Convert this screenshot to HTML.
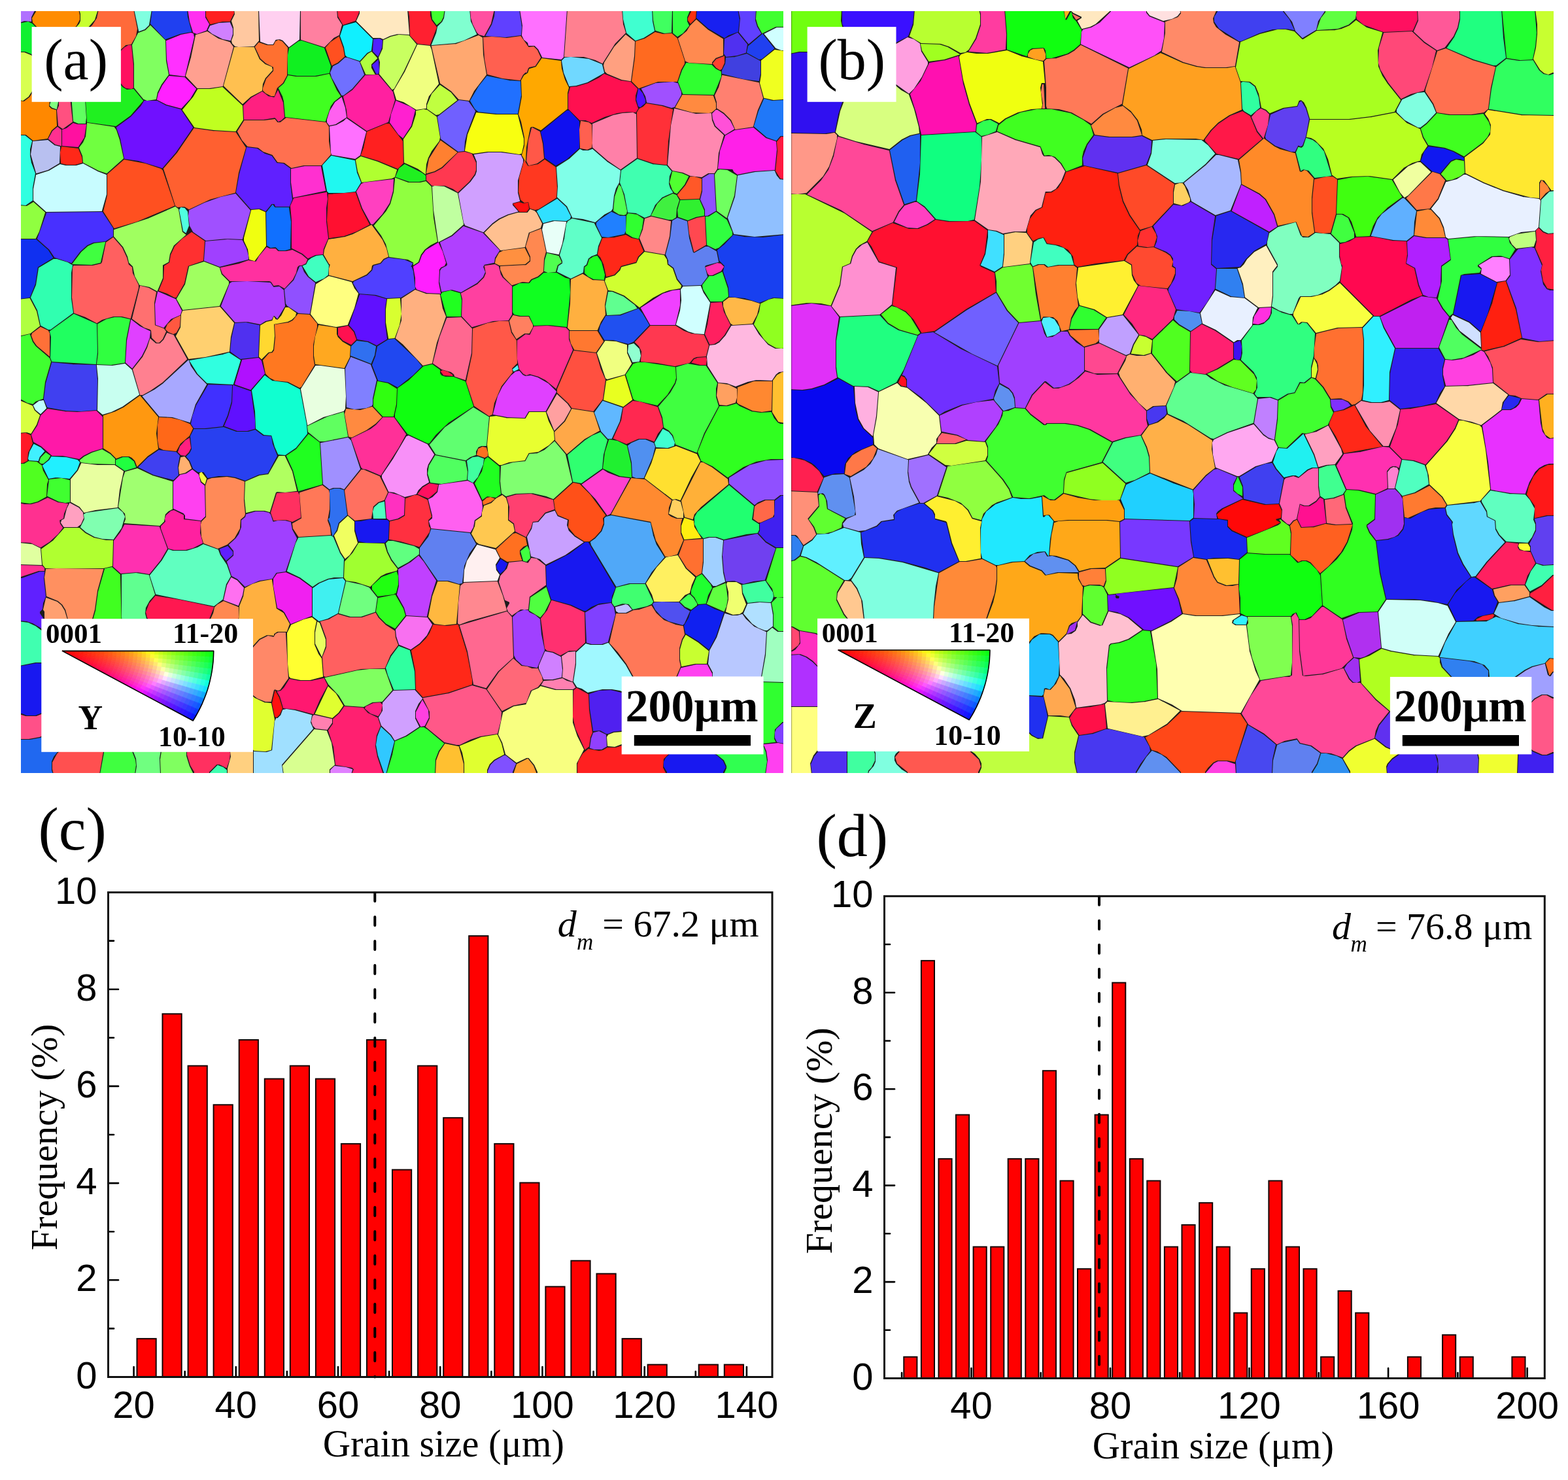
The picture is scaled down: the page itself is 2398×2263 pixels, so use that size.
<!DOCTYPE html><html><head><meta charset="utf-8"><title>EBSD grain maps and grain size distributions</title>
<style>html,body{margin:0;padding:0;background:#fff;}svg{display:block;}</style></head><body>
<svg xmlns="http://www.w3.org/2000/svg" width="2398" height="2263" viewBox="0 0 2398 2263">
<rect width="2398" height="2263" fill="#fff"/>
<g id="maps">
<clipPath id="ca"><rect x="32" y="17" width="1166" height="1165"/></clipPath>
<g clip-path="url(#ca)">
<rect x="32" y="17" width="1166" height="1165" fill="#1c1c1c"/>
<path d="M69 55 79 69 86 69 86 66Z" fill="#b070ff" stroke="#b070ff" stroke-width="2.0"/>
<path d="M29 14 29 34 37 31 47 32 47 26 53 14Z" fill="#b070ff" stroke="#b070ff" stroke-width="2.0"/>
<path d="M50 28 51 34 63 47 89 64 90 59 103 50 116 39 121 30 121 23 119 14 56 14 56 18Z" fill="#ff8c00" stroke="#ff8c00" stroke-width="2.0"/>
<path d="M149 14 122 14 124 21 124 32 122 37 114 46 93 61 93 66 104 66 130 46 144 30Z" fill="#c8ff30" stroke="#c8ff30" stroke-width="2.0"/>
<path d="M203 14 152 14 149 28 142 39 132 49 106 69 91 69 90 67 89 71 85 72 86 81 97 90 125 91 141 101 164 102 181 78 192 68 200 67 207 55 209 44Z" fill="#ff6a3a" stroke="#ff6a3a" stroke-width="2.0"/>
<path d="M29 37 29 78 39 78 49 82 60 92 67 102 83 82 82 72 77 72 63 52 49 37 43 34Z" fill="#10f030" stroke="#10f030" stroke-width="2.0"/>
<path d="M29 81 29 152 35 153 43 147 50 136 63 110 64 104 57 94 47 85 37 81Z" fill="#d8ff50" stroke="#d8ff50" stroke-width="2.0"/>
<path d="M231 14 206 14 213 47 221 44 227 38Z" fill="#80ffe0" stroke="#80ffe0" stroke-width="2.0"/>
<path d="M234 14 231 36 253 59 275 51 292 48 286 26 285 14Z" fill="#2040f0" stroke="#2040f0" stroke-width="2.0"/>
<path d="M288 14 291 33 296 49 301 51 315 46 319 37 313 27 313 14Z" fill="#ff30f0" stroke="#ff30f0" stroke-width="2.0"/>
<path d="M295 52 292 51 277 54 255 63 256 91 260 113 282 116 296 57Z" fill="#ff30ff" stroke="#ff30ff" stroke-width="2.0"/>
<path d="M316 14 316 25 322 36 340 32 351 32 357 20 356 14Z" fill="#ff2020" stroke="#ff2020" stroke-width="2.0"/>
<path d="M322 40 319 46 325 51 341 59 352 61 355 52 355 44 351 35 335 36Z" fill="#d080ff" stroke="#d080ff" stroke-width="2.0"/>
<path d="M359 14 360 22 355 32 358 42 358 54 355 62 356 66 360 70 365 71 388 70 395 62 394 14Z" fill="#ffc8a0" stroke="#ffc8a0" stroke-width="2.0"/>
<path d="M397 14 399 63 410 67 417 67 421 60 428 59 433 61 442 71 457 60 458 14Z" fill="#ffd0f0" stroke="#ffd0f0" stroke-width="2.0"/>
<path d="M230 40 223 47 212 51 203 69 206 98 206 134 220 151 225 153 238 151 240 141 246 129 257 114 253 93 252 62Z" fill="#80ff60" stroke="#80ff60" stroke-width="2.0"/>
<path d="M197 70 191 73 184 80 168 102 168 105 189 131 193 134 201 135 203 134 203 100 200 70Z" fill="#ff1060" stroke="#ff1060" stroke-width="2.0"/>
<path d="M317 49 300 54 293 88 285 116 302 134 320 134 340 131 356 72 351 65 334 60Z" fill="#ffa090" stroke="#ffa090" stroke-width="2.0"/>
<path d="M388 73 359 73 343 131 371 158 383 147 400 138 401 128 405 119 416 107 415 103 405 99 396 91Z" fill="#ffc050" stroke="#ffc050" stroke-width="2.0"/>
<path d="M426 62 422 64 419 70 408 70 396 66 391 72 399 89 407 96 419 102 419 109 408 121 403 135 403 138 407 142 415 146 419 146 423 134 432 126 438 115 439 73 431 64Z" fill="#ff7030" stroke="#ff7030" stroke-width="2.0"/>
<path d="M259 117 249 131 243 143 241 152 255 159 277 165 290 151 299 136 282 119Z" fill="#ff20ff" stroke="#ff20ff" stroke-width="2.0"/>
<path d="M370 162 340 134 322 137 303 137 296 149 280 168 298 194 327 198 360 200 371 183Z" fill="#c0ff20" stroke="#c0ff20" stroke-width="2.0"/>
<path d="M425 140 420 150 410 148 401 141 385 150 373 162 374 182 403 182 421 179 426 185 430 183 434 179 432 157Z" fill="#ff2080" stroke="#ff2080" stroke-width="2.0"/>
<path d="M364 201 371 214 379 223 395 225 403 231 417 236 425 247 435 248 446 256 464 252 491 252 505 236 502 216 502 194 498 188 438 181 429 188 424 188 420 183 405 185 374 185Z" fill="#ff7050" stroke="#ff7050" stroke-width="2.0"/>
<path d="M141 104 135 119 131 139 134 186 177 192 199 176 218 154 204 137 194 138 187 134 176 122 164 105Z" fill="#20f020" stroke="#20f020" stroke-width="2.0"/>
<path d="M75 98 67 108 53 138 46 149 37 156 29 155 29 205 40 205 51 214 72 211 78 199 86 192 85 169 78 167 74 163 75 154 83 143 81 121Z" fill="#ff8800" stroke="#ff8800" stroke-width="2.0"/>
<path d="M81 90 91 90 86 85Z" fill="#ff8800" stroke="#ff8800" stroke-width="2.0"/>
<path d="M78 93 84 119 86 140 91 154 91 162 88 169 90 192 96 196 110 186 106 148 103 93Z" fill="#ff5080" stroke="#ff5080" stroke-width="2.0"/>
<path d="M106 94 113 185 120 188 130 188 131 180 128 137 132 117 138 103 123 94Z" fill="#60ff60" stroke="#60ff60" stroke-width="2.0"/>
<path d="M85 146 79 154 77 161 80 164 86 166 88 156Z" fill="#80ff80" stroke="#80ff80" stroke-width="2.0"/>
<path d="M131 191 118 191 112 189 102 197 96 199 96 222 119 224 128 210Z" fill="#ff10a0" stroke="#ff10a0" stroke-width="2.0"/>
<path d="M88 195 81 201 75 212 85 220 93 222 93 199Z" fill="#ff3090" stroke="#ff3090" stroke-width="2.0"/>
<path d="M221 155 216 163 201 179 179 195 185 212 191 242 212 245 248 256 268 233 294 195 276 168 253 162 240 155Z" fill="#7010ff" stroke="#7010ff" stroke-width="2.0"/>
<path d="M134 189 132 209 128 218 122 226 127 238 128 248 151 260 163 264 188 242 182 214 177 199 174 195Z" fill="#70ff40" stroke="#70ff40" stroke-width="2.0"/>
<path d="M91 225 83 223 73 215 51 217 48 236 56 264 73 259 90 249Z" fill="#b8c0f0" stroke="#b8c0f0" stroke-width="2.0"/>
<path d="M95 225 93 233 94 249 102 251 115 251 125 248 124 240 119 228Z" fill="#ff2818" stroke="#ff2818" stroke-width="2.0"/>
<path d="M29 208 29 312 39 313 49 306 49 287 53 265 47 249 45 238 45 228 48 216 38 208Z" fill="#30ffe0" stroke="#30ffe0" stroke-width="2.0"/>
<path d="M162 268 149 263 127 251 117 254 100 254 92 252 75 262 56 268 52 289 52 306 71 323 155 322 162 297Z" fill="#c8fcff" stroke="#c8fcff" stroke-width="2.0"/>
<path d="M246 259 222 251 190 245 165 267 165 299 159 323 175 348 209 338 266 314 248 261Z" fill="#ff5020" stroke="#ff5020" stroke-width="2.0"/>
<path d="M360 203 325 201 297 197 271 235 251 258 269 314 272 316 282 315 289 319 321 304 359 294 364 264 375 226Z" fill="#ff6030" stroke="#ff6030" stroke-width="2.0"/>
<path d="M378 226 367 266 362 294 384 319 398 318 406 322 415 311 420 311 422 315 442 315 446 305 443 281 443 258 433 251 423 250 415 239 405 236 393 228Z" fill="#6020ff" stroke="#6020ff" stroke-width="2.0"/>
<path d="M382 322 360 297 338 302 313 311 290 322 289 330 291 345 296 354 315 367 346 364 370 365Z" fill="#a050ff" stroke="#a050ff" stroke-width="2.0"/>
<path d="M51 310 41 316 29 315 29 364 54 364 59 354 68 325Z" fill="#90ff40" stroke="#90ff40" stroke-width="2.0"/>
<path d="M58 365 76 381 84 393 109 401 122 384 133 374 142 370 161 368 172 361 172 349 156 325 72 326Z" fill="#4830ff" stroke="#4830ff" stroke-width="2.0"/>
<path d="M268 317 227 335 175 352 175 361 189 377 196 392 198 401 204 407 207 422 214 435 229 438 240 444 248 425 248 405 257 400 259 388 265 375 283 359 278 355 272 320Z" fill="#a0ff60" stroke="#a0ff60" stroke-width="2.0"/>
<path d="M396 321 385 322 374 364 374 368 380 381 382 396 389 398 406 376 405 325Z" fill="#f0ff10" stroke="#f0ff10" stroke-width="2.0"/>
<path d="M417 314 408 325 409 375 414 378 422 377 427 382 436 382 443 380 444 339 441 318 420 318Z" fill="#1070ff" stroke="#1070ff" stroke-width="2.0"/>
<path d="M55 367 29 367 29 456 45 454 53 434 57 408 80 394 73 383Z" fill="#1030f0" stroke="#1030f0" stroke-width="2.0"/>
<path d="M160 371 144 373 135 377 125 386 112 403 140 404 153 401Z" fill="#40ff40" stroke="#40ff40" stroke-width="2.0"/>
<path d="M173 364 163 371 157 401 155 404 142 407 113 407 112 410 111 455 114 478 131 484 148 493 156 488 173 483 187 483 199 486 211 440 211 436 202 418 201 409 196 405 193 394 186 379Z" fill="#ff6060" stroke="#ff6060" stroke-width="2.0"/>
<path d="M293 356 279 366 268 377 262 390 260 402 252 407 251 427 244 444 256 448 267 454 269 454 281 433 287 406 310 398 312 369Z" fill="#ff3030" stroke="#ff3030" stroke-width="2.0"/>
<path d="M379 391 376 380 370 368 348 367 315 370 313 398 336 407 379 396Z" fill="#a040ff" stroke="#a040ff" stroke-width="2.0"/>
<path d="M277 318 275 321 281 353 284 355 288 345 286 324 282 319Z" fill="#50ffe0" stroke="#50ffe0" stroke-width="2.0"/>
<path d="M469 397 461 390 447 383 438 385 425 385 421 381 412 381 408 379 397 392 392 401 380 399 366 404 338 410 341 418 352 429 412 429 415 430 419 436 426 435 435 440 447 427 452 417 454 408 457 405 461 405 467 402Z" fill="#ff30a0" stroke="#ff30a0" stroke-width="2.0"/>
<path d="M461 14 461 60 496 71 510 57 518 53 522 38 515 27 514 14Z" fill="#ff80a0" stroke="#ff80a0" stroke-width="2.0"/>
<path d="M517 14 518 25 525 37 543 31 548 19 548 14Z" fill="#ff2040" stroke="#ff2040" stroke-width="2.0"/>
<path d="M551 14 551 21 546 32 571 57 582 57 586 59 596 54 608 51 625 52 622 14Z" fill="#ffe8c0" stroke="#ffe8c0" stroke-width="2.0"/>
<path d="M625 14 627 25 628 54 639 66 657 68 667 42 659 31 657 24 657 14Z" fill="#ff2030" stroke="#ff2030" stroke-width="2.0"/>
<path d="M679 14 660 14 662 29 668 37 674 32 677 26Z" fill="#40ff30" stroke="#40ff30" stroke-width="2.0"/>
<path d="M661 68 696 65 709 61 728 52 719 33 717 14 682 14 680 28 677 34 670 41 668 51Z" fill="#80ffd0" stroke="#80ffd0" stroke-width="2.0"/>
<path d="M720 14 721 27 724 37 730 49 733 52 740 54 750 36 755 14Z" fill="#ff50a0" stroke="#ff50a0" stroke-width="2.0"/>
<path d="M758 14 757 25 753 38 744 54 773 56 796 53 797 41 793 14Z" fill="#6040ff" stroke="#6040ff" stroke-width="2.0"/>
<path d="M796 14 800 39 799 54 802 60 808 65 809 69 818 69 824 75 830 87 858 90 861 87 866 14Z" fill="#ff70ff" stroke="#ff70ff" stroke-width="2.0"/>
<path d="M526 40 521 55 527 72 529 84 531 86 550 92 561 80 567 77 569 60 544 35Z" fill="#10f0ff" stroke="#10f0ff" stroke-width="2.0"/>
<path d="M518 57 506 65 499 73 508 99 516 95 526 86 524 74Z" fill="#ff5020" stroke="#ff5020" stroke-width="2.0"/>
<path d="M572 61 571 78 578 85 583 73 584 62 580 60Z" fill="#5020ff" stroke="#5020ff" stroke-width="2.0"/>
<path d="M578 93 570 100 576 112 578 112 579 108Z" fill="#5020ff" stroke="#5020ff" stroke-width="2.0"/>
<path d="M443 74 441 84 441 113 454 115 482 115 503 111 505 101 495 74 461 63 457 64Z" fill="#10f020" stroke="#10f020" stroke-width="2.0"/>
<path d="M531 89 528 89 518 98 510 102 506 111 508 118 523 145 525 145 538 135 556 114 549 95Z" fill="#7070ff" stroke="#7070ff" stroke-width="2.0"/>
<path d="M568 80 563 83 552 95 560 113 572 113 567 104 567 98 576 89Z" fill="#b0ff40" stroke="#b0ff40" stroke-width="2.0"/>
<path d="M625 55 610 54 598 57 587 62 586 75 580 88 582 95 581 113 600 136 602 135 617 108 636 68Z" fill="#c8ff60" stroke="#c8ff60" stroke-width="2.0"/>
<path d="M639 69 620 110 603 139 607 152 617 155 637 167 651 165 651 159 655 147 670 128 659 76 657 71Z" fill="#f0ff80" stroke="#f0ff80" stroke-width="2.0"/>
<path d="M732 55 698 68 661 71 674 127 691 139 702 151 717 153 724 139 743 114 738 84 737 58Z" fill="#ffa870" stroke="#ffa870" stroke-width="2.0"/>
<path d="M826 88 821 77 816 72 808 73 796 56 775 59 752 57 740 58 742 90 746 113 769 119 795 122 799 114 803 110 805 110 807 104 809 102 818 100Z" fill="#ff6050" stroke="#ff6050" stroke-width="2.0"/>
<path d="M503 114 484 118 452 118 441 116 435 128 427 135 433 147 435 155 437 178 497 185 505 162 510 155 520 147 514 138Z" fill="#40ff20" stroke="#40ff20" stroke-width="2.0"/>
<path d="M578 115 559 116 540 138 526 148 531 168 532 179 561 199 593 186 603 153 600 141Z" fill="#ff20a0" stroke="#ff20a0" stroke-width="2.0"/>
<path d="M522 150 513 157 505 170 501 183 501 187 504 191 513 189 529 179 527 165Z" fill="#ff60f0" stroke="#ff60f0" stroke-width="2.0"/>
<path d="M530 182 526 186 515 192 505 194 507 233 508 236 543 242 550 237 559 202Z" fill="#ff70ff" stroke="#ff70ff" stroke-width="2.0"/>
<path d="M606 155 599 175 597 187 610 205 616 210 628 192 634 169 627 164Z" fill="#ff20d0" stroke="#ff20d0" stroke-width="2.0"/>
<path d="M720 154 727 166 732 170 760 173 791 173 796 146 795 125 779 124 745 117 733 132Z" fill="#2070ff" stroke="#2070ff" stroke-width="2.0"/>
<path d="M829 90 820 103 810 106 808 112 802 116 798 123 799 148 794 175 798 186 803 210 803 223 799 237 803 244 804 225 810 195 812 193 816 193 827 198 867 166 867 142 869 134 863 122 858 105 857 94Z" fill="#ffa800" stroke="#ffa800" stroke-width="2.0"/>
<path d="M702 154 670 179 675 212 701 231 709 230 710 216 713 204 726 170 716 156Z" fill="#7060ff" stroke="#7060ff" stroke-width="2.0"/>
<path d="M673 131 661 144 654 161 654 166 667 175 671 174 698 153 689 142Z" fill="#c0ff40" stroke="#c0ff40" stroke-width="2.0"/>
<path d="M648 168 637 170 637 175 631 194 618 213 619 248 639 257 650 265 651 251 654 241 659 231 671 215 672 210 667 179 653 169Z" fill="#c0ff30" stroke="#c0ff30" stroke-width="2.0"/>
<path d="M729 173 716 206 712 230 724 234 745 231 768 231 794 235 797 234 800 221 800 212 791 176 758 176Z" fill="#f8ff10" stroke="#f8ff10" stroke-width="2.0"/>
<path d="M562 202 557 226 553 237 579 245 608 257 616 249 615 216 595 190 591 190Z" fill="#ff2020" stroke="#ff2020" stroke-width="2.0"/>
<path d="M698 233 674 216 657 243 653 264 664 261 675 255Z" fill="#ff8030" stroke="#ff8030" stroke-width="2.0"/>
<path d="M721 236 711 233 701 234 677 258 666 264 653 268 653 275 661 283 681 283 693 288 700 293 717 277 725 266 727 260 727 249Z" fill="#ff3850" stroke="#ff3850" stroke-width="2.0"/>
<path d="M796 238 766 234 747 234 726 237 730 247 730 262 728 268 720 279 702 296 710 340 712 344 739 354 752 341 763 333 776 327 791 323 783 314 783 310 794 307 791 295 791 276 799 248 799 244Z" fill="#d0a0ff" stroke="#d0a0ff" stroke-width="2.0"/>
<path d="M833 245 823 252 807 255 802 247 795 272 794 293 797 305 802 309 809 308 811 318 818 320 823 319 850 302 851 287 849 256Z" fill="#ff3820" stroke="#ff3820" stroke-width="2.0"/>
<path d="M786 312 795 323 805 323 808 319 807 311 800 312 794 310Z" fill="#ff1010" stroke="#ff1010" stroke-width="2.0"/>
<path d="M490 255 466 255 446 259 446 279 449 301 497 291Z" fill="#ff30d0" stroke="#ff30d0" stroke-width="2.0"/>
<path d="M507 239 494 253 501 292 503 294 526 294 543 292 551 279 545 264 542 246Z" fill="#20f8f0" stroke="#20f8f0" stroke-width="2.0"/>
<path d="M545 245 548 262 554 278 599 272 603 270 606 260 577 248 552 240Z" fill="#b0ff30" stroke="#b0ff30" stroke-width="2.0"/>
<path d="M606 270 626 277 641 277 650 275 650 269 645 265 619 252 611 258Z" fill="#20f020" stroke="#20f020" stroke-width="2.0"/>
<path d="M601 275 557 280 553 282 546 293 555 318 568 342 570 342 584 327 595 310 600 292Z" fill="#ff40c0" stroke="#ff40c0" stroke-width="2.0"/>
<path d="M499 295 450 304 445 315 447 337 447 379 463 387 471 394 482 389 493 388 494 380 501 364 498 339 498 318 500 304Z" fill="#ff1090" stroke="#ff1090" stroke-width="2.0"/>
<path d="M543 295 503 298 501 337 504 363 526 360 545 353 564 343 552 320Z" fill="#ff1030" stroke="#ff1030" stroke-width="2.0"/>
<path d="M605 273 603 294 598 312 591 324 573 345 584 360 591 373 596 392 624 396 633 401 633 404 639 400 643 389 649 381 658 374 668 369 662 333 659 286 651 278 643 280 624 280Z" fill="#90ff40" stroke="#90ff40" stroke-width="2.0"/>
<path d="M665 285 662 286 664 321 671 369 690 359 708 343 699 296 679 286Z" fill="#c0ffa0" stroke="#c0ffa0" stroke-width="2.0"/>
<path d="M738 357 709 347 692 362 674 371 685 404 684 407 676 411 674 414 673 431 676 445 691 442 705 446 729 432 738 423 741 416 738 408 740 404 755 401 756 394 763 383Z" fill="#b040ff" stroke="#b040ff" stroke-width="2.0"/>
<path d="M670 372 652 383 646 391 642 402 633 408 636 425 636 438 638 442 653 447 673 448 670 433 671 412 674 408 679 406 681 402 676 385Z" fill="#ff20ff" stroke="#ff20ff" stroke-width="2.0"/>
<path d="M568 345 540 359 528 363 503 367 497 382 496 389 504 403 506 404 504 411 504 420 539 429 560 419 567 412 568 406 570 404 581 401 586 395 593 392 590 380 584 367Z" fill="#ffb040" stroke="#ffb040" stroke-width="2.0"/>
<path d="M828 342 820 326 817 323 811 321 807 326 792 326 778 330 765 336 754 344 742 356 766 382 802 377 808 355 826 348Z" fill="#ffc090" stroke="#ffc090" stroke-width="2.0"/>
<path d="M809 394 802 380 770 384 764 387 759 396 758 402 764 405 803 403 809 398Z" fill="#ff9040" stroke="#ff9040" stroke-width="2.0"/>
<path d="M493 391 484 392 477 395 472 399 469 405 464 407 473 422 483 430 495 425 501 420 502 406Z" fill="#40ffc0" stroke="#40ffc0" stroke-width="2.0"/>
<path d="M630 403 618 398 594 395 588 398 583 404 572 407 570 414 562 422 542 431 541 433 550 448 575 450 591 455 613 454 634 441 631 415 629 409 627 408Z" fill="#5040ff" stroke="#5040ff" stroke-width="2.0"/>
<path d="M869 14 864 86 893 86 911 91 921 96 940 66 956 50 952 37 950 14Z" fill="#ff8090" stroke="#ff8090" stroke-width="2.0"/>
<path d="M953 14 954 29 959 50 972 61 984 57 1000 47 997 33 996 14Z" fill="#40ffd0" stroke="#40ffd0" stroke-width="2.0"/>
<path d="M999 14 1000 31 1003 46 1016 50 1026 49 1027 14Z" fill="#40ff60" stroke="#40ff60" stroke-width="2.0"/>
<path d="M1055 14 1030 14 1030 50 1036 55 1044 50 1053 39 1050 33 1050 26Z" fill="#30ff40" stroke="#30ff40" stroke-width="2.0"/>
<path d="M1064 14 1058 14 1058 18 1053 28 1053 31 1056 35 1063 28Z" fill="#ff3010" stroke="#ff3010" stroke-width="2.0"/>
<path d="M1067 14 1066 27 1084 43 1108 57 1114 53 1128 48 1130 30 1127 14Z" fill="#1820f0" stroke="#1820f0" stroke-width="2.0"/>
<path d="M1130 14 1133 28 1131 49 1145 66 1163 51 1157 41 1154 31 1155 14Z" fill="#6040ff" stroke="#6040ff" stroke-width="2.0"/>
<path d="M1128 51 1109 60 1108 82 1111 86 1127 84 1140 80 1142 68Z" fill="#5030f0" stroke="#5030f0" stroke-width="2.0"/>
<path d="M1158 14 1157 29 1160 39 1166 50 1186 40 1200 40 1200 14Z" fill="#40ff30" stroke="#40ff30" stroke-width="2.0"/>
<path d="M1170 52 1187 73 1195 76 1200 76 1200 43 1188 43Z" fill="#d0ffff" stroke="#d0ffff" stroke-width="2.0"/>
<path d="M957 54 940 72 925 96 924 100 926 109 929 112 951 121 964 123 969 86 970 64Z" fill="#ffa080" stroke="#ffa080" stroke-width="2.0"/>
<path d="M1027 52 1014 53 1002 50 986 60 973 64 972 88 967 124 977 134 1006 124 1035 124 1041 106 1046 97 1046 93 1035 59Z" fill="#ff6a20" stroke="#ff6a20" stroke-width="2.0"/>
<path d="M1065 31 1056 40 1051 48 1038 59 1049 93 1054 95 1088 97 1088 95 1094 88 1105 84 1105 60 1082 46Z" fill="#ff8a50" stroke="#ff8a50" stroke-width="2.0"/>
<path d="M1166 53 1145 71 1143 80 1161 90 1165 89 1183 74Z" fill="#2040f0" stroke="#2040f0" stroke-width="2.0"/>
<path d="M860 93 863 111 871 131 881 130 898 125 923 111 920 99 900 91 873 88 864 89Z" fill="#70d8ff" stroke="#70d8ff" stroke-width="2.0"/>
<path d="M974 136 964 126 949 124 924 114 916 120 900 128 883 133 873 134 870 144 870 166 887 183 896 183 905 187 924 178 944 172 960 170 972 171 975 166 971 154 971 146Z" fill="#ff1050" stroke="#ff1050" stroke-width="2.0"/>
<path d="M982 136 988 147 990 156 1014 160 1027 164 1031 163 1041 145 1041 141 1036 128 1029 126 1003 128Z" fill="#a050ff" stroke="#a050ff" stroke-width="2.0"/>
<path d="M977 137 974 152 977 162 979 163 986 157 986 153 982 143Z" fill="#5010ff" stroke="#5010ff" stroke-width="2.0"/>
<path d="M1050 97 1044 108 1038 125 1045 143 1091 144 1102 117 1102 110 1094 106 1088 100Z" fill="#30ff30" stroke="#30ff30" stroke-width="2.0"/>
<path d="M1107 87 1096 91 1091 97 1096 103 1101 106 1103 105 1107 96Z" fill="#ff4030" stroke="#ff4030" stroke-width="2.0"/>
<path d="M1162 94 1142 83 1124 88 1111 89 1110 98 1105 108 1105 112 1137 120 1160 123 1162 113Z" fill="#4040e0" stroke="#4040e0" stroke-width="2.0"/>
<path d="M1185 77 1165 93 1165 115 1163 127 1169 149 1183 152 1200 151 1200 79Z" fill="#f0ff20" stroke="#f0ff20" stroke-width="2.0"/>
<path d="M1105 116 1100 134 1094 146 1097 156 1097 165 1108 172 1119 183 1125 197 1151 193 1158 168 1166 150 1160 127Z" fill="#ff8070" stroke="#ff8070" stroke-width="2.0"/>
<path d="M1034 164 1059 171 1084 172 1088 171 1094 166 1094 158 1090 147 1044 146Z" fill="#ff8a40" stroke="#ff8a40" stroke-width="2.0"/>
<path d="M870 170 867 170 828 202 832 218 834 241 850 252 866 243 885 226 885 186Z" fill="#1010f0" stroke="#1010f0" stroke-width="2.0"/>
<path d="M889 186 887 198 888 226 898 228 904 225 905 219 904 191 900 188Z" fill="#ff6050" stroke="#ff6050" stroke-width="2.0"/>
<path d="M968 173 952 174 938 177 907 190 907 225 930 245 949 258 973 241 972 175Z" fill="#ff80a8" stroke="#ff80a8" stroke-width="2.0"/>
<path d="M989 159 984 164 978 167 975 172 976 241 1000 249 1019 251 1021 216 1028 168 1012 163Z" fill="#ff3038" stroke="#ff3038" stroke-width="2.0"/>
<path d="M1032 167 1027 192 1022 252 1029 260 1045 263 1056 268 1073 270 1083 264 1092 264 1096 258 1098 234 1106 207 1092 194 1088 184 1087 174 1064 175Z" fill="#ff88b0" stroke="#ff88b0" stroke-width="2.0"/>
<path d="M1090 174 1091 182 1095 192 1109 205 1122 197 1116 185 1106 175 1097 169 1095 169Z" fill="#ff50d8" stroke="#ff50d8" stroke-width="2.0"/>
<path d="M1186 217 1171 212 1152 196 1124 200 1110 208 1102 231 1099 257 1121 258 1123 262 1128 266 1153 261 1184 259 1187 229Z" fill="#ff20e8" stroke="#ff20e8" stroke-width="2.0"/>
<path d="M1169 152 1161 170 1154 193 1173 209 1187 214 1193 207 1200 207 1200 154 1181 155Z" fill="#2078f8" stroke="#2078f8" stroke-width="2.0"/>
<path d="M1195 210 1189 217 1190 231 1187 261 1194 272 1200 273 1200 210Z" fill="#ff1840" stroke="#ff1840" stroke-width="2.0"/>
<path d="M814 196 809 215 806 246 809 252 821 249 831 242 829 220 825 202Z" fill="#ff5848" stroke="#ff5848" stroke-width="2.0"/>
<path d="M887 229 872 243 852 256 854 285 853 301 868 315 876 332 892 334 910 339 924 327 934 322 936 319 938 299 941 288 946 279 948 261 928 248 906 229 900 231 891 231Z" fill="#80ffe8" stroke="#80ffe8" stroke-width="2.0"/>
<path d="M975 244 951 261 949 279 956 297 961 324 973 325 986 332 994 329 1001 313 1012 301 1028 294 1024 288 1022 281 1023 269 1026 262 1019 254 998 252Z" fill="#40ffb0" stroke="#40ffb0" stroke-width="2.0"/>
<path d="M947 284 941 301 939 322 947 327 954 328 957 327 958 323 953 299 949 286Z" fill="#50ff50" stroke="#50ff50" stroke-width="2.0"/>
<path d="M1029 263 1025 279 1029 290 1032 294 1035 295 1046 282 1052 270 1043 266Z" fill="#50ff30" stroke="#50ff30" stroke-width="2.0"/>
<path d="M1072 274 1062 271 1056 271 1049 284 1037 298 1041 304 1069 303 1072 291Z" fill="#ff5828" stroke="#ff5828" stroke-width="2.0"/>
<path d="M1091 267 1085 267 1075 273 1075 293 1072 305 1079 320 1079 329 1082 329 1094 322Z" fill="#9050ff" stroke="#9050ff" stroke-width="2.0"/>
<path d="M1101 260 1098 261 1094 267 1097 322 1111 332 1122 299 1126 269 1112 261Z" fill="#70ff60" stroke="#70ff60" stroke-width="2.0"/>
<path d="M1184 262 1155 264 1129 269 1125 301 1114 333 1123 357 1154 361 1200 357 1200 276 1192 275 1187 269Z" fill="#90c0ff" stroke="#90c0ff" stroke-width="2.0"/>
<path d="M1034 299 1029 297 1014 304 1006 312 997 329 1022 335 1028 335 1033 332 1034 319 1038 306Z" fill="#40f040" stroke="#40f040" stroke-width="2.0"/>
<path d="M1069 306 1041 307 1037 321 1038 331 1052 336 1064 331 1076 329 1076 322Z" fill="#30f030" stroke="#30f030" stroke-width="2.0"/>
<path d="M872 331 865 317 852 305 822 323 831 340 846 336 866 337 871 334Z" fill="#30e0ff" stroke="#30e0ff" stroke-width="2.0"/>
<path d="M832 343 830 351 837 385 854 388 859 372 865 340 848 339Z" fill="#e8fff8" stroke="#e8fff8" stroke-width="2.0"/>
<path d="M875 335 869 339 867 343 864 365 857 390 861 399 861 403 855 407 853 415 873 425 891 416 892 407 896 404 899 395 904 391 912 388 914 376 919 364 908 342Z" fill="#60ffc8" stroke="#60ffc8" stroke-width="2.0"/>
<path d="M956 331 948 331 935 325 917 337 913 341 913 344 921 361 930 362 954 357 956 353Z" fill="#2080ff" stroke="#2080ff" stroke-width="2.0"/>
<path d="M961 327 959 330 958 356 968 362 976 364 981 349 983 335 974 329Z" fill="#30ff30" stroke="#30ff30" stroke-width="2.0"/>
<path d="M987 335 984 351 979 364 987 383 1016 388 1023 361 1025 339 996 332Z" fill="#ff8888" stroke="#ff8888" stroke-width="2.0"/>
<path d="M1036 334 1029 338 1026 363 1019 389 1023 398 1023 403 1031 409 1037 426 1045 436 1072 435 1081 423 1077 407 1079 405 1098 400 1095 385 1083 378 1079 378 1061 388 1059 386 1053 364 1050 339Z" fill="#6080f0" stroke="#6080f0" stroke-width="2.0"/>
<path d="M1077 332 1066 334 1053 339 1055 357 1062 384 1079 374Z" fill="#ff4850" stroke="#ff4850" stroke-width="2.0"/>
<path d="M1095 325 1084 332 1080 332 1082 374 1094 380 1099 378 1119 359 1119 355 1111 337Z" fill="#30ff40" stroke="#30ff40" stroke-width="2.0"/>
<path d="M1098 383 1101 398 1109 406 1107 415 1115 439 1116 453 1139 455 1161 462 1182 454 1200 455 1200 360 1167 364 1138 363 1122 360 1109 374Z" fill="#1840f0" stroke="#1840f0" stroke-width="2.0"/>
<path d="M827 351 811 357 805 377 812 392 812 400 805 406 766 408 766 412 771 423 783 435 799 430 808 431 812 426 822 422 830 415 831 396 834 385Z" fill="#ff8850" stroke="#ff8850" stroke-width="2.0"/>
<path d="M976 367 966 365 957 360 940 364 922 365 917 378 915 389 919 393 924 404 928 422 939 419 946 412 949 406 972 400 975 392 983 384Z" fill="#ff2818" stroke="#ff2818" stroke-width="2.0"/>
<path d="M1015 391 986 386 978 394 974 403 951 409 949 414 941 422 927 426 926 430 931 443 938 444 955 451 978 469 999 454 1012 447 1023 443 1040 440 1041 437 1034 428 1028 411 1020 405 1019 397Z" fill="#d0ff30" stroke="#d0ff30" stroke-width="2.0"/>
<path d="M908 393 902 397 899 406 895 409 895 417 900 422 908 426 923 427 924 420 919 401 913 392Z" fill="#20ff20" stroke="#20ff20" stroke-width="2.0"/>
<path d="M837 388 834 398 833 414 838 416 849 415 852 405 858 401 854 392Z" fill="#50ff50" stroke="#50ff50" stroke-width="2.0"/>
<path d="M87 397 82 397 60 410 56 436 48 455 58 474 63 497 74 503 77 503 111 478 108 457 108 417 110 406 103 402Z" fill="#30ffb0" stroke="#30ffb0" stroke-width="2.0"/>
<path d="M335 410 312 401 290 408 284 435 271 457 280 473 335 467 349 434 349 431 338 420Z" fill="#a0ff60" stroke="#a0ff60" stroke-width="2.0"/>
<path d="M352 434 339 468 360 492 378 491 398 495 406 490 415 488 418 482 420 482 424 486 435 468 433 444 427 439 418 440 413 433 378 431 355 432Z" fill="#b040ff" stroke="#b040ff" stroke-width="2.0"/>
<path d="M45 457 29 459 29 513 46 509 60 498 55 476Z" fill="#b0ff40" stroke="#b0ff40" stroke-width="2.0"/>
<path d="M215 438 203 487 221 500 230 503 232 505 233 516 240 523 243 523 248 518 253 507 250 503 236 498 235 463 238 447 227 441Z" fill="#ff7070" stroke="#ff7070" stroke-width="2.0"/>
<path d="M242 447 238 465 239 496 250 500 261 487 275 481 277 475 268 458Z" fill="#e040ff" stroke="#e040ff" stroke-width="2.0"/>
<path d="M275 484 266 488 257 496 254 503 258 507 265 510 269 508 274 499Z" fill="#ff5840" stroke="#ff5840" stroke-width="2.0"/>
<path d="M336 470 280 476 278 481 277 501 270 514 289 548 314 545 350 537 352 515 357 494Z" fill="#ffd070" stroke="#ffd070" stroke-width="2.0"/>
<path d="M62 501 50 510 49 513 52 521 57 528 75 543 75 510 73 506Z" fill="#ff7038" stroke="#ff7038" stroke-width="2.0"/>
<path d="M77 507 79 515 78 547 80 552 146 556 148 539 147 496 113 481Z" fill="#20ff60" stroke="#20ff60" stroke-width="2.0"/>
<path d="M198 489 185 486 175 486 163 489 150 496 151 541 149 556 170 557 190 554 192 519Z" fill="#30ff40" stroke="#30ff40" stroke-width="2.0"/>
<path d="M201 490 195 521 193 554 202 562 216 544 223 530 228 516 229 507 214 500Z" fill="#e040ff" stroke="#e040ff" stroke-width="2.0"/>
<path d="M265 513 256 510 251 520 245 526 238 526 230 519 226 532 219 546 204 565 215 603 218 603 229 597 248 584 285 549Z" fill="#ff8090" stroke="#ff8090" stroke-width="2.0"/>
<path d="M360 495 355 517 353 537 368 548 394 545 396 498 376 494Z" fill="#5030f0" stroke="#5030f0" stroke-width="2.0"/>
<path d="M441 471 437 471 431 483 425 490 421 489 419 486 417 491 408 493 399 498 397 545 400 548 410 538 415 537 417 534 419 514 418 495 440 491 446 488 451 483 452 479Z" fill="#ffd830" stroke="#ffd830" stroke-width="2.0"/>
<path d="M456 481 448 491 442 494 421 497 422 516 420 536 417 540 412 541 403 551 407 571 413 577 421 581 441 583 458 592 460 591 480 558 478 546 478 527 484 500 484 495 473 482Z" fill="#ff7820" stroke="#ff7820" stroke-width="2.0"/>
<path d="M45 512 29 516 29 610 33 610 42 615 50 617 54 613 65 609 68 584 77 553 75 548 54 530 49 523Z" fill="#40ff30" stroke="#40ff30" stroke-width="2.0"/>
<path d="M80 555 71 586 68 610 73 622 101 627 124 628 147 626 148 581 146 559 111 558Z" fill="#4040f0" stroke="#4040f0" stroke-width="2.0"/>
<path d="M191 557 172 560 149 559 151 579 150 627 157 633 170 629 187 621 212 603 201 566Z" fill="#c8fff0" stroke="#c8fff0" stroke-width="2.0"/>
<path d="M288 552 250 587 236 597 219 606 244 636 264 637 290 645 298 618 315 588 300 573 291 560Z" fill="#a8a8ff" stroke="#a8a8ff" stroke-width="2.0"/>
<path d="M367 551 350 540 341 543 291 552 303 571 317 585 356 587Z" fill="#30ffe0" stroke="#30ffe0" stroke-width="2.0"/>
<path d="M399 552 395 548 371 551 360 587 383 595 404 571Z" fill="#b010ff" stroke="#b010ff" stroke-width="2.0"/>
<path d="M405 575 386 597 391 629 392 655 404 664 416 665 421 683 426 694 436 695 452 684 469 663 468 649 458 596 439 586 416 583Z" fill="#10ffd0" stroke="#10ffd0" stroke-width="2.0"/>
<path d="M354 590 319 589 301 620 295 637 293 648 297 654 313 654 340 651 347 635 353 614Z" fill="#4030ff" stroke="#4030ff" stroke-width="2.0"/>
<path d="M357 590 356 616 350 637 344 651 363 658 378 658 389 655 389 643 383 599Z" fill="#6010ff" stroke="#6010ff" stroke-width="2.0"/>
<path d="M29 613 29 661 41 660 47 662 55 649 60 635 52 628 49 621Z" fill="#d8ff40" stroke="#d8ff40" stroke-width="2.0"/>
<path d="M66 613 60 614 52 620 55 626 62 632 70 624Z" fill="#c0ffff" stroke="#c0ffff" stroke-width="2.0"/>
<path d="M49 665 52 675 64 682 80 696 96 696 121 701 127 696 139 690 156 685 156 638 147 629 118 631 99 630 73 626 63 636 58 651Z" fill="#ff18a8" stroke="#ff18a8" stroke-width="2.0"/>
<path d="M214 606 189 624 177 630 159 636 159 685 170 692 178 700 186 697 198 697 202 699 207 704 210 712 225 697 241 686 238 663 241 638Z" fill="#ff9810" stroke="#ff9810" stroke-width="2.0"/>
<path d="M244 639 242 650 242 673 244 684 250 687 269 689 275 678 289 666 294 655 290 649 275 643 262 640Z" fill="#ff6818" stroke="#ff6818" stroke-width="2.0"/>
<path d="M297 657 292 667 294 687 291 693 286 698 291 704 296 716 303 721 312 721 318 730 334 727 349 727 361 729 375 734 395 725 409 723 423 697 416 679 414 668 402 667 390 658 380 661 361 661 342 654 315 657Z" fill="#2840f0" stroke="#2840f0" stroke-width="2.0"/>
<path d="M39 663 29 664 29 707 35 707 41 704 42 692 49 678 46 666Z" fill="#ff1828" stroke="#ff1828" stroke-width="2.0"/>
<path d="M52 680 46 691 44 701 45 703 58 704 60 698 67 690 62 685Z" fill="#40f0ff" stroke="#40f0ff" stroke-width="2.0"/>
<path d="M76 697 70 693 63 700 61 706 63 708 66 708 73 702Z" fill="#40ff40" stroke="#40ff40" stroke-width="2.0"/>
<path d="M66 712 75 731 86 729 106 731 117 718 121 707 118 704 101 700 79 699 76 704Z" fill="#20f0ff" stroke="#20f0ff" stroke-width="2.0"/>
<path d="M289 671 284 674 276 683 273 691 277 695 283 696 288 691 291 685Z" fill="#ff2080" stroke="#ff2080" stroke-width="2.0"/>
<path d="M213 714 235 725 265 733 272 726 271 713 274 697 269 692 243 689 227 700Z" fill="#4040f0" stroke="#4040f0" stroke-width="2.0"/>
<path d="M175 702 168 695 156 688 141 693 129 699 123 704 124 706 139 708 175 709Z" fill="#70ff50" stroke="#70ff50" stroke-width="2.0"/>
<path d="M178 704 178 710 191 719 207 714 204 706 196 700 188 700Z" fill="#20ff40" stroke="#20ff40" stroke-width="2.0"/>
<path d="M282 699 277 700 274 715 275 724 283 722 292 716 288 706Z" fill="#ffb070" stroke="#ffb070" stroke-width="2.0"/>
<path d="M56 707 44 706 37 710 29 710 29 767 46 769 57 766 70 759 71 740 73 734 65 720 63 712Z" fill="#50ff20" stroke="#50ff20" stroke-width="2.0"/>
<path d="M76 734 73 758 90 766 100 768 106 767 106 735 94 732Z" fill="#40ff30" stroke="#40ff30" stroke-width="2.0"/>
<path d="M125 709 120 720 109 733 109 767 122 774 129 783 146 779 179 775 182 749 188 721 175 712 149 712Z" fill="#e8ffa0" stroke="#e8ffa0" stroke-width="2.0"/>
<path d="M192 722 189 731 182 775 192 785 193 794 191 799 244 803 250 797 252 786 257 781 263 778 263 737 233 728 210 717Z" fill="#a0ff70" stroke="#a0ff70" stroke-width="2.0"/>
<path d="M294 719 285 725 276 727 266 737 266 777 281 784 284 788 284 792 307 795 313 789 312 743 306 738 303 726Z" fill="#ff40f0" stroke="#ff40f0" stroke-width="2.0"/>
<path d="M308 723 306 724 306 728 309 736 313 739 315 732Z" fill="#f0ff40" stroke="#f0ff40" stroke-width="2.0"/>
<path d="M359 732 347 730 324 732 318 734 315 743 316 791 309 798 308 802 309 820 312 830 333 838 347 832 358 822 366 808 367 794 373 789 374 786 372 765 373 737Z" fill="#ff8a58" stroke="#ff8a58" stroke-width="2.0"/>
<path d="M435 698 427 698 411 726 397 728 376 737 375 763 377 783 389 780 405 780 412 782 421 753 423 751 436 752 453 750 446 721Z" fill="#b0ff60" stroke="#b0ff60" stroke-width="2.0"/>
<path d="M103 771 88 769 73 762 59 769 48 772 37 772 29 770 29 828 47 829 62 836 75 828 88 816 95 807 91 801 90 795 96 792 97 785Z" fill="#ff3090" stroke="#ff3090" stroke-width="2.0"/>
<path d="M107 770 103 778 99 794 95 796 94 799 98 805 118 805 123 801 127 792 126 784 120 777Z" fill="#ffa0c0" stroke="#ffa0c0" stroke-width="2.0"/>
<path d="M190 790 187 784 180 778 132 785 129 787 130 794 124 806 132 813 145 820 157 823 173 824 185 807Z" fill="#80ffb0" stroke="#80ffb0" stroke-width="2.0"/>
<path d="M255 788 253 793 254 798 247 805 247 808 258 838 266 840 284 840 295 837 309 830 305 815 306 798 280 795 280 788 266 781 262 782Z" fill="#ff20a0" stroke="#ff20a0" stroke-width="2.0"/>
<path d="M444 799 436 797 425 797 417 799 413 787 411 785 403 783 391 783 377 787 376 791 370 796 370 806 366 817 361 824 351 833 358 842 358 850 348 859 355 880 364 885 375 896 396 887 416 884 422 875 436 873 453 823 446 810Z" fill="#a040ff" stroke="#a040ff" stroke-width="2.0"/>
<path d="M459 408 450 429 436 443 438 464 440 467 457 478 473 479 481 433 470 424 464 416 461 408Z" fill="#9050ff" stroke="#9050ff" stroke-width="2.0"/>
<path d="M503 423 484 435 476 480 487 494 514 499 531 496 541 471 547 449 541 441 537 432Z" fill="#ffff80" stroke="#ffff80" stroke-width="2.0"/>
<path d="M551 451 535 497 543 506 547 518 564 521 576 527 591 518 588 495 588 471 590 458 573 453Z" fill="#6010ff" stroke="#6010ff" stroke-width="2.0"/>
<path d="M785 439 785 477 787 480 796 482 810 482 817 497 839 496 866 499 871 447 870 427 865 426 851 418 832 418 824 425 814 429 810 434 795 434Z" fill="#10ff20" stroke="#10ff20" stroke-width="2.0"/>
<path d="M757 405 742 407 744 418 741 425 731 435 706 449 708 457 707 483 722 499 754 490 777 489 782 481 782 438 768 425 765 420 762 408Z" fill="#ff40a0" stroke="#ff40a0" stroke-width="2.0"/>
<path d="M677 448 675 451 684 483 704 483 705 459 703 449 689 445Z" fill="#20ff20" stroke="#20ff20" stroke-width="2.0"/>
<path d="M488 498 483 515 481 529 481 544 483 556 526 562 534 546 535 530 523 523 516 516 514 511 514 502Z" fill="#ffa820" stroke="#ffa820" stroke-width="2.0"/>
<path d="M518 502 518 512 525 520 537 526 544 519 540 508 532 499Z" fill="#ff1050" stroke="#ff1050" stroke-width="2.0"/>
<path d="M611 457 593 458 591 473 591 493 595 517 603 516 610 497 613 480Z" fill="#d8ff30" stroke="#d8ff30" stroke-width="2.0"/>
<path d="M635 444 615 457 615 490 606 517 617 526 647 558 660 555 667 524 681 484 676 472 672 451 651 450Z" fill="#ffb080" stroke="#ffb080" stroke-width="2.0"/>
<path d="M684 487 673 516 663 555 676 564 690 568 695 572 696 575 711 580 720 540 721 503 705 486Z" fill="#ff6890" stroke="#ff6890" stroke-width="2.0"/>
<path d="M777 492 763 492 746 495 724 503 723 542 714 584 726 620 748 635 752 633 755 616 766 590 783 569 782 563 790 555 789 521 781 509Z" fill="#ff5848" stroke="#ff5848" stroke-width="2.0"/>
<path d="M785 483 780 491 784 507 790 517 802 509 809 509 814 500 814 497 808 485 794 485Z" fill="#ff8060" stroke="#ff8060" stroke-width="2.0"/>
<path d="M817 500 811 513 804 512 792 521 792 549 795 564 801 571 805 573 810 571 824 575 834 580 850 593 875 535 869 519 869 506 865 502 837 499Z" fill="#ff3090" stroke="#ff3090" stroke-width="2.0"/>
<path d="M546 522 538 530 537 543 567 555 572 543 574 530 562 524Z" fill="#3070f0" stroke="#3070f0" stroke-width="2.0"/>
<path d="M594 520 578 530 575 545 570 558 579 581 595 584 608 591 631 573 644 560 636 550 603 519Z" fill="#2048f0" stroke="#2048f0" stroke-width="2.0"/>
<path d="M526 565 490 560 483 560 461 595 471 649 494 637 525 628 527 625 528 606Z" fill="#e8ffe0" stroke="#e8ffe0" stroke-width="2.0"/>
<path d="M537 547 529 564 531 622 542 625 560 623 568 620 569 618 569 609 575 581 566 558Z" fill="#8080ff" stroke="#8080ff" stroke-width="2.0"/>
<path d="M578 584 572 611 572 621 586 636 601 636 605 618 606 595 593 587Z" fill="#30ff10" stroke="#30ff10" stroke-width="2.0"/>
<path d="M661 558 648 561 626 582 609 594 608 620 605 633 605 638 624 663 654 677 656 677 666 664 685 646 723 621 711 584 693 577 681 577 675 575 672 571 672 566Z" fill="#10ff10" stroke="#10ff10" stroke-width="2.0"/>
<path d="M675 568 679 573 692 574 684 569 677 567Z" fill="#ff1848" stroke="#ff1848" stroke-width="2.0"/>
<path d="M791 560 785 565 786 567 792 564Z" fill="#50f8ff" stroke="#50f8ff" stroke-width="2.0"/>
<path d="M850 599 838 587 822 578 812 575 803 576 799 574 794 568 789 569 782 575 769 592 762 606 755 633 776 637 802 638 808 628 834 628Z" fill="#e040ff" stroke="#e040ff" stroke-width="2.0"/>
<path d="M525 631 501 638 471 652 472 660 489 674 496 674 531 667Z" fill="#60ff60" stroke="#60ff60" stroke-width="2.0"/>
<path d="M583 638 569 623 551 628 530 626 528 633 534 667 538 668 560 657 574 647Z" fill="#ff8a40" stroke="#ff8a40" stroke-width="2.0"/>
<path d="M602 639 586 639 576 650 567 657 538 671 553 714 555 716 561 717 582 726 609 684 620 664Z" fill="#ff3098" stroke="#ff3098" stroke-width="2.0"/>
<path d="M747 638 724 624 681 654 658 680 667 694 712 703 719 698 727 695 727 690 731 683 736 681 743 681Z" fill="#60ff70" stroke="#60ff70" stroke-width="2.0"/>
<path d="M834 631 810 631 804 641 774 640 759 637 750 638 746 680 748 697 764 710 767 710 778 706 802 703 808 692 823 690 839 680 847 672 846 660 838 644Z" fill="#e8ff30" stroke="#e8ff30" stroke-width="2.0"/>
<path d="M472 665 454 687 439 697 449 719 457 750 492 740 488 677Z" fill="#20ff20" stroke="#20ff20" stroke-width="2.0"/>
<path d="M532 670 491 678 495 740 504 747 509 745 521 745 526 747 550 717 536 674Z" fill="#a090ff" stroke="#a090ff" stroke-width="2.0"/>
<path d="M625 667 622 668 602 702 585 727 585 730 595 751 603 752 619 759 636 755 639 749 645 743 655 737 652 726 652 717 654 710 663 695 653 680Z" fill="#f890f8" stroke="#f890f8" stroke-width="2.0"/>
<path d="M657 712 655 724 659 737 675 739 713 733 714 721 711 706 666 697Z" fill="#50ff60" stroke="#50ff60" stroke-width="2.0"/>
<path d="M731 699 723 700 715 705 717 719 716 733 723 737 730 729 738 710 739 702Z" fill="#40ffa0" stroke="#40ffa0" stroke-width="2.0"/>
<path d="M738 684 732 687 730 695 741 699 745 697 745 692 743 685Z" fill="#ff7020" stroke="#ff7020" stroke-width="2.0"/>
<path d="M746 700 742 703 738 721 727 739 738 763 745 758 758 760 765 755 763 738 763 714Z" fill="#20ff20" stroke="#20ff20" stroke-width="2.0"/>
<path d="M864 695 848 676 833 689 822 694 810 695 804 706 785 708 767 713 766 736 768 754 774 758 788 754 814 753 836 758 846 762 874 737Z" fill="#80ff70" stroke="#80ff70" stroke-width="2.0"/>
<path d="M455 753 424 755 415 784 419 795 438 794 447 797 459 791 457 757Z" fill="#ff3060" stroke="#ff3060" stroke-width="2.0"/>
<path d="M493 743 459 754 462 793 448 801 449 808 457 820 505 817 504 807 500 796 503 779 503 754 502 750Z" fill="#ff7858" stroke="#ff7858" stroke-width="2.0"/>
<path d="M519 748 511 748 505 750 506 781 505 792 503 794 506 801 509 818 514 810 517 799 530 787 525 750Z" fill="#3070f0" stroke="#3070f0" stroke-width="2.0"/>
<path d="M556 719 553 719 528 750 533 787 543 795 567 792 570 774 578 767 587 764 592 753 580 729Z" fill="#ff7060" stroke="#ff7060" stroke-width="2.0"/>
<path d="M587 768 580 770 573 776 571 782 572 792 589 792Z" fill="#50ffc0" stroke="#50ffc0" stroke-width="2.0"/>
<path d="M595 754 590 765 592 792 596 795 608 792 617 787 618 762 610 758Z" fill="#ff30c0" stroke="#ff30c0" stroke-width="2.0"/>
<path d="M634 758 621 763 620 789 610 795 597 798 596 824 613 827 641 835 656 813 657 808 655 805 654 795 659 790 653 765 639 758Z" fill="#ff3040" stroke="#ff3040" stroke-width="2.0"/>
<path d="M669 742 657 740 647 746 640 755 655 761 667 751Z" fill="#ff1060" stroke="#ff1060" stroke-width="2.0"/>
<path d="M723 740 715 736 672 742 670 753 662 761 656 764 662 788 662 793 657 797 660 807 719 813 723 806 725 795 735 788 737 776 736 767Z" fill="#ff60f0" stroke="#ff60f0" stroke-width="2.0"/>
<path d="M755 763 750 761 745 762 739 767 740 771 750 767Z" fill="#ff7020" stroke="#ff7020" stroke-width="2.0"/>
<path d="M768 758 759 763 752 770 741 774 738 784 738 790 728 797 727 805 722 816 729 828 733 831 758 837 786 812 784 802 776 796 776 772 773 762Z" fill="#ffc850" stroke="#ffc850" stroke-width="2.0"/>
<path d="M845 765 812 756 790 757 776 761 780 775 779 794 787 800 789 812 804 820 811 807 814 797 822 796 833 783 847 778Z" fill="#ff4070" stroke="#ff4070" stroke-width="2.0"/>
<path d="M1106 408 1102 404 1097 403 1080 409 1083 418 1085 420 1089 420 1102 414Z" fill="#ff30b0" stroke="#ff30b0" stroke-width="2.0"/>
<path d="M1104 417 1091 423 1085 423 1075 436 1076 442 1087 460 1104 460 1113 453 1112 441Z" fill="#30ff40" stroke="#30ff40" stroke-width="2.0"/>
<path d="M891 420 874 428 873 464 869 501 872 504 913 504 918 492 925 481 924 466 928 444 923 430 906 429Z" fill="#ffb040" stroke="#ffb040" stroke-width="2.0"/>
<path d="M931 447 927 468 929 481 948 480 973 471 970 467 953 454 936 447Z" fill="#60ff90" stroke="#60ff90" stroke-width="2.0"/>
<path d="M992 497 982 480 976 473 950 483 927 484 919 498 917 506 925 519 938 519 961 525 968 522Z" fill="#2050f0" stroke="#2050f0" stroke-width="2.0"/>
<path d="M1039 444 1029 445 1014 450 981 471 995 496 1032 496 1039 467Z" fill="#f040ff" stroke="#f040ff" stroke-width="2.0"/>
<path d="M1045 439 1042 443 1043 459 1041 475 1035 496 1053 506 1063 509 1076 510 1085 463 1075 448 1071 438Z" fill="#d0ffff" stroke="#d0ffff" stroke-width="2.0"/>
<path d="M1103 463 1088 464 1083 496 1079 511 1086 526 1092 525 1099 521 1107 512 1116 497 1106 477Z" fill="#ff2060" stroke="#ff2060" stroke-width="2.0"/>
<path d="M1107 462 1107 468 1111 480 1118 494 1121 496 1150 494 1157 481 1161 465 1149 461 1124 456 1115 456Z" fill="#ffb848" stroke="#ffb848" stroke-width="2.0"/>
<path d="M1184 457 1176 459 1164 465 1162 477 1154 496 1169 518 1176 525 1187 531 1195 532 1200 531 1200 458Z" fill="#90ff20" stroke="#90ff20" stroke-width="2.0"/>
<path d="M872 507 872 517 874 525 879 534 911 538 922 522 913 507Z" fill="#ff7830" stroke="#ff7830" stroke-width="2.0"/>
<path d="M926 522 914 540 927 578 929 579 955 572 965 556 958 540 958 528 942 523Z" fill="#f0ff80" stroke="#f0ff80" stroke-width="2.0"/>
<path d="M962 528 961 538 968 553 977 552 979 544 977 534 969 526Z" fill="#90ffd0" stroke="#90ffd0" stroke-width="2.0"/>
<path d="M972 523 978 529 982 537 981 552 1004 554 1032 559 1054 554 1060 547 1065 545 1079 544 1083 528 1076 513 1057 511 1046 507 1033 499 995 499Z" fill="#ff3850" stroke="#ff3850" stroke-width="2.0"/>
<path d="M1080 550 1079 547 1067 548 1062 550 1059 554 1071 557 1079 557Z" fill="#ff1848" stroke="#ff1848" stroke-width="2.0"/>
<path d="M1200 534 1185 534 1174 528 1160 512 1151 497 1119 499 1110 514 1101 524 1094 528 1086 529 1082 545 1083 559 1099 584 1112 585 1125 590 1143 583 1157 580 1180 581 1186 572 1191 568 1200 567Z" fill="#ffb8e0" stroke="#ffb8e0" stroke-width="2.0"/>
<path d="M878 537 853 595 853 600 870 616 875 623 907 628 921 610 925 581 918 565 911 541Z" fill="#ff5040" stroke="#ff5040" stroke-width="2.0"/>
<path d="M955 575 928 583 924 611 953 621 966 611Z" fill="#e8ff20" stroke="#e8ff20" stroke-width="2.0"/>
<path d="M969 557 958 573 969 609 971 611 1005 619 1020 603 1031 585 1033 578 1032 562 986 555 976 555Z" fill="#30ff20" stroke="#30ff20" stroke-width="2.0"/>
<path d="M1052 557 1035 562 1036 580 1034 587 1026 601 1008 622 1014 638 1016 653 1024 658 1030 665 1034 679 1065 691 1076 662 1098 621 1094 607 1094 594 1096 586 1079 560 1069 560Z" fill="#40ff40" stroke="#40ff40" stroke-width="2.0"/>
<path d="M1099 587 1097 605 1101 618 1111 619 1124 615 1126 608 1126 595 1114 589Z" fill="#ffa060" stroke="#ffa060" stroke-width="2.0"/>
<path d="M1129 593 1128 615 1130 617 1151 627 1165 629 1179 627 1180 584 1153 584Z" fill="#ff8830" stroke="#ff8830" stroke-width="2.0"/>
<path d="M1196 570 1189 574 1183 582 1182 630 1191 644 1200 646 1200 570Z" fill="#ffc030" stroke="#ffc030" stroke-width="2.0"/>
<path d="M852 604 837 630 848 657 862 643 872 625 867 618Z" fill="#ffa0a0" stroke="#ffa0a0" stroke-width="2.0"/>
<path d="M907 631 875 626 865 645 849 661 850 673 867 693 893 671 916 658Z" fill="#ffa848" stroke="#ffa848" stroke-width="2.0"/>
<path d="M922 614 910 631 920 659 930 670 935 670 947 644 951 624Z" fill="#60b8ff" stroke="#60b8ff" stroke-width="2.0"/>
<path d="M968 614 954 624 951 643 939 670 958 678 976 670 989 670 1000 674 1005 663 1013 653 1011 640 1005 623 978 615Z" fill="#ff2850" stroke="#ff2850" stroke-width="2.0"/>
<path d="M1014 657 1002 677 1004 683 1021 684 1030 681 1031 677 1027 667 1022 661Z" fill="#40ffd0" stroke="#40ffd0" stroke-width="2.0"/>
<path d="M978 673 966 678 961 682 967 707 968 728 973 730 984 730 997 699 1001 683 999 678 987 673Z" fill="#5090f0" stroke="#5090f0" stroke-width="2.0"/>
<path d="M932 673 926 692 923 716 948 727 965 729 964 709 958 682 944 675Z" fill="#20f030" stroke="#20f030" stroke-width="2.0"/>
<path d="M918 662 906 667 895 674 869 696 877 736 889 738 920 716 922 695 928 673Z" fill="#30ff70" stroke="#30ff70" stroke-width="2.0"/>
<path d="M1068 691 1073 704 1090 712 1113 729 1137 713 1156 705 1179 701 1200 701 1200 649 1193 649 1189 647 1183 640 1179 631 1163 632 1149 630 1131 622 1126 618 1113 622 1101 622 1079 664Z" fill="#30ff20" stroke="#30ff20" stroke-width="2.0"/>
<path d="M1004 687 997 709 987 731 1029 763 1034 762 1040 764 1056 730 1070 705 1065 695 1034 683 1023 687Z" fill="#ffe030" stroke="#ffe030" stroke-width="2.0"/>
<path d="M1075 708 1072 708 1043 766 1048 790 1059 793 1061 786 1071 775 1113 740 1112 733 1088 715Z" fill="#ffb038" stroke="#ffb038" stroke-width="2.0"/>
<path d="M1200 704 1172 705 1147 712 1116 731 1116 739 1154 771 1159 767 1169 763 1184 763 1193 756 1200 756Z" fill="#9050ff" stroke="#9050ff" stroke-width="2.0"/>
<path d="M922 719 891 741 911 762 929 787 933 785 962 732 946 730 930 724Z" fill="#ff40d0" stroke="#ff40d0" stroke-width="2.0"/>
<path d="M877 739 848 765 850 779 854 787 871 794 870 806 880 818 894 827 901 827 909 821 918 811 922 800 921 792 925 788 902 757 886 741Z" fill="#ff5018" stroke="#ff5018" stroke-width="2.0"/>
<path d="M966 732 936 786 996 797 1004 826 1018 850 1023 850 1035 847 1044 826 1040 816 1040 802 1042 794 1034 794 1026 791 1021 787 1022 776 1026 765 986 734Z" fill="#ff8a30" stroke="#ff8a30" stroke-width="2.0"/>
<path d="M1152 774 1115 743 1067 784 1063 791 1063 801 1069 814 1076 822 1083 820 1096 820 1107 824 1141 816 1158 814 1160 810 1160 802 1149 795Z" fill="#20ff70" stroke="#20ff70" stroke-width="2.0"/>
<path d="M1183 766 1171 766 1158 772 1155 775 1153 793 1160 798 1163 798 1181 790 1183 786Z" fill="#ff6848" stroke="#ff6848" stroke-width="2.0"/>
<path d="M1200 759 1195 759 1186 766 1185 791 1163 801 1163 812 1161 815 1172 827 1187 836 1200 836Z" fill="#4020f0" stroke="#4020f0" stroke-width="2.0"/>
<path d="M848 782 835 786 824 799 816 800 814 809 807 821 813 850 826 854 835 862 864 848 891 829 878 821 869 812 866 803 867 796 852 790Z" fill="#c8a0ff" stroke="#c8a0ff" stroke-width="2.0"/>
<path d="M1029 766 1024 785 1036 791 1044 791 1044 783 1040 768 1032 765Z" fill="#ffd060" stroke="#ffd060" stroke-width="2.0"/>
<path d="M29 831 29 862 63 863 61 839 49 833Z" fill="#e0ffa0" stroke="#e0ffa0" stroke-width="2.0"/>
<path d="M64 840 66 863 70 868 158 868 171 865 172 827 162 827 143 823 130 816 121 808 99 808 82 827Z" fill="#b0ff30" stroke="#b0ff30" stroke-width="2.0"/>
<path d="M191 803 185 814 175 827 174 866 185 876 210 874 228 877 245 856 255 839 243 806Z" fill="#ff30b0" stroke="#ff30b0" stroke-width="2.0"/>
<path d="M348 836 337 840 339 847 346 856 355 848 355 844Z" fill="#6020ff" stroke="#6020ff" stroke-width="2.0"/>
<path d="M257 1047 261 1056 283 1056 288 1048Z" fill="#60ffc0" stroke="#60ffc0" stroke-width="2.0"/>
<path d="M292 978 267 985 266 987 279 1014 294 1039 315 1003 283 1002 294 979Z" fill="#60ffc0" stroke="#60ffc0" stroke-width="2.0"/>
<path d="M352 881 346 864 336 849 333 841 311 833 302 838 286 843 264 843 258 841 248 858 230 880 239 908 327 926 340 916 345 893Z" fill="#60ffc0" stroke="#60ffc0" stroke-width="2.0"/>
<path d="M29 882 59 872 67 872 67 869 64 866 29 865Z" fill="#ff3090" stroke="#ff3090" stroke-width="2.0"/>
<path d="M29 885 29 948 41 949 50 952 62 959 77 971 70 959 66 947 60 938 60 935 64 931 65 922 69 912 66 885 67 875 61 875 34 885Z" fill="#6020ff" stroke="#6020ff" stroke-width="2.0"/>
<path d="M157 871 86 870 71 871 69 883 72 911 89 918 96 924 101 932 109 962 114 999 127 977 139 950 144 932 148 903Z" fill="#ff9060" stroke="#ff9060" stroke-width="2.0"/>
<path d="M71 915 67 932 69 935 69 946 73 957 86 980 109 1009 111 999 104 954 98 934 93 926 87 921Z" fill="#ffa070" stroke="#ffa070" stroke-width="2.0"/>
<path d="M161 870 151 905 147 934 142 952 130 979 111 1012 114 1027 124 1053 133 1058 256 1058 257 1056 253 1047 193 1046 185 962 183 879 171 868Z" fill="#40ff20" stroke="#40ff20" stroke-width="2.0"/>
<path d="M187 879 187 943 196 1044 292 1044 276 1016 262 986 247 974 230 957 223 946 221 938 222 929 228 918 236 909 227 880 208 877Z" fill="#60ff90" stroke="#60ff90" stroke-width="2.0"/>
<path d="M224 936 226 944 233 955 249 971 264 983 278 978 297 974 307 964 318 949 326 929 275 918 238 912 229 923Z" fill="#ff1850" stroke="#ff1850" stroke-width="2.0"/>
<path d="M354 884 348 895 343 917 364 925 370 910 372 899 362 888Z" fill="#ff70f0" stroke="#ff70f0" stroke-width="2.0"/>
<path d="M364 929 342 920 333 925 329 929 327 938 321 951 310 966 298 978 287 1000 337 1000 347 985 359 961 364 944Z" fill="#ff8850" stroke="#ff8850" stroke-width="2.0"/>
<path d="M415 887 398 890 386 894 375 900 373 912 367 927 366 951 359 970 350 987 339 1003 319 1003 295 1043 295 1046 291 1049 286 1057 303 1065 306 1065 313 1060 314 1033 329 1036 349 1037 360 1032 376 1002 386 987 396 976 408 970 418 971 418 969 424 965 438 965 442 954 433 938 422 931Z" fill="#ffb040" stroke="#ffb040" stroke-width="2.0"/>
<path d="M436 968 426 968 422 970 419 975 410 973 398 979 389 989 379 1004 363 1033 377 1052 386 1061 394 1067 406 1072 414 1072 418 1055 420 1053 425 1055 428 1054 440 1037Z" fill="#ff8868" stroke="#ff8868" stroke-width="2.0"/>
<path d="M352 1039 352 1049 348 1062 339 1080 332 1090 340 1090 366 1122 389 1147 406 1148 414 1146 419 1100 414 1076 404 1075 389 1068 374 1054 361 1036Z" fill="#e0ff30" stroke="#e0ff30" stroke-width="2.0"/>
<path d="M113 1034 92 1021 76 1016 56 1015 29 1020 29 1090 34 1090 41 1093 54 1093 64 1089 84 1071 107 1041 116 1042 116 1060 121 1054Z" fill="#1818f0" stroke="#1818f0" stroke-width="2.0"/>
<path d="M29 951 29 1017 54 1012 72 1012 94 1018 111 1028 107 1013 79 977 54 958 43 953Z" fill="#40ffb0" stroke="#40ffb0" stroke-width="2.0"/>
<path d="M113 1044 109 1044 87 1073 66 1092 56 1096 39 1096 29 1093 29 1129 44 1129 60 1126 87 1116 113 1103Z" fill="#ff5088" stroke="#ff5088" stroke-width="2.0"/>
<path d="M162 1061 131 1061 123 1057 116 1066 116 1105 114 1107 89 1119 62 1129 46 1132 29 1132 29 1184 80 1184 78 1178 78 1164 81 1157 93 1142 104 1132 138 1107 161 1081Z" fill="#2068f0" stroke="#2068f0" stroke-width="2.0"/>
<path d="M141 1109 112 1130 88 1153 81 1166 81 1176 83 1184 151 1184 157 1149 156 1138 150 1122Z" fill="#ff5050" stroke="#ff5050" stroke-width="2.0"/>
<path d="M165 1065 164 1083 144 1106 153 1120 159 1136 160 1151 154 1184 205 1184 207 1170 206 1162 199 1144 181 1121 156 1098 156 1096 203 1095 187 1070 187 1065 242 1065Z" fill="#40ff40" stroke="#40ff40" stroke-width="2.0"/>
<path d="M161 1098 184 1119 202 1142 209 1160 210 1172 208 1184 244 1184 243 1159 246 1141 256 1118 270 1098Z" fill="#70ff80" stroke="#70ff80" stroke-width="2.0"/>
<path d="M190 1068 207 1095 274 1096 274 1099 259 1120 249 1143 246 1161 247 1184 295 1184 289 1172 284 1156 284 1137 292 1120 311 1099 309 1091 322 1090 313 1084 312 1070 310 1068Z" fill="#80ff60" stroke="#80ff60" stroke-width="2.0"/>
<path d="M313 1102 295 1122 287 1139 287 1154 292 1170 298 1180 298 1184 319 1184 319 1180 331 1168 336 1168 346 1173 350 1162 351 1152 349 1143 345 1135 335 1122Z" fill="#ff3060" stroke="#ff3060" stroke-width="2.0"/>
<path d="M296 1065 283 1059 213 1062 245 1062 246 1065Z" fill="#ff3060" stroke="#ff3060" stroke-width="2.0"/>
<path d="M312 1093 314 1099 338 1120 346 1130 352 1141 354 1157 349 1175 349 1184 386 1184 386 1149 363 1124 338 1093Z" fill="#ffd080" stroke="#ffd080" stroke-width="2.0"/>
<path d="M476 1094 451 1087 438 1085 433 1086 430 1094 425 1099 423 1099 421 1103 417 1148 408 1151 389 1150 389 1184 432 1184 430 1169 478 1114 474 1105Z" fill="#a0e0ff" stroke="#a0e0ff" stroke-width="2.0"/>
<path d="M322 1182 322 1184 346 1184 346 1178 341 1174 333 1171Z" fill="#40ffb0" stroke="#40ffb0" stroke-width="2.0"/>
<path d="M532 790 520 801 517 812 512 819 522 844 528 853 534 848 546 830 541 812 541 798Z" fill="#f0ff60" stroke="#f0ff60" stroke-width="2.0"/>
<path d="M544 798 544 810 549 827 560 829 588 829 593 824 594 798 592 796 565 795 552 798Z" fill="#1818f0" stroke="#1818f0" stroke-width="2.0"/>
<path d="M525 855 519 846 509 822 506 820 457 823 453 831 440 873 459 882 478 896 487 890 501 884 511 882 524 882Z" fill="#50ffb0" stroke="#50ffb0" stroke-width="2.0"/>
<path d="M527 883 530 887 544 889 566 896 582 880 590 876 606 872 607 870 597 857 591 845 587 832 549 831 540 846 528 859Z" fill="#a0ff30" stroke="#a0ff30" stroke-width="2.0"/>
<path d="M591 831 594 843 600 855 609 867 624 859 640 847 640 840 633 836 601 828 594 828Z" fill="#60ff80" stroke="#60ff80" stroke-width="2.0"/>
<path d="M660 810 656 821 643 838 643 848 670 887 686 887 702 892 706 891 709 865 717 846 727 832 718 816Z" fill="#6080f0" stroke="#6080f0" stroke-width="2.0"/>
<path d="M803 823 789 816 785 817 760 840 766 852 776 858 797 856 794 847 794 841 800 835 805 833Z" fill="#ff7020" stroke="#ff7020" stroke-width="2.0"/>
<path d="M806 836 797 843 801 857 805 858 810 853 809 842Z" fill="#40ff40" stroke="#40ff40" stroke-width="2.0"/>
<path d="M730 834 715 858 711 872 710 889 760 887 763 879 758 872 757 863 763 853 757 841Z" fill="#fff0f0" stroke="#fff0f0" stroke-width="2.0"/>
<path d="M766 856 760 865 761 870 765 876 771 871 775 862Z" fill="#1818f0" stroke="#1818f0" stroke-width="2.0"/>
<path d="M820 855 813 854 808 862 798 859 779 861 776 870 766 881 764 890 773 917 780 920 780 923 776 930 778 935 783 940 796 931 807 931 809 912 834 894 833 865Z" fill="#ff70a0" stroke="#ff70a0" stroke-width="2.0"/>
<path d="M424 878 419 885 419 896 425 929 432 932 436 936 445 953 476 941 476 899 457 885 437 876Z" fill="#f020f0" stroke="#f020f0" stroke-width="2.0"/>
<path d="M524 885 503 887 489 893 479 900 479 942 488 949 501 945 516 937 527 889Z" fill="#40f0f0" stroke="#40f0f0" stroke-width="2.0"/>
<path d="M530 890 519 937 536 942 552 942 573 935 576 914 564 899 553 895Z" fill="#70ff80" stroke="#70ff80" stroke-width="2.0"/>
<path d="M606 875 584 883 570 896 570 901 578 911 601 908 605 906 608 894 608 881Z" fill="#20ff10" stroke="#20ff10" stroke-width="2.0"/>
<path d="M579 915 576 935 581 943 591 953 604 960 619 941 616 931 604 910Z" fill="#30ff20" stroke="#30ff20" stroke-width="2.0"/>
<path d="M640 851 629 860 610 871 611 896 608 909 619 929 622 940 652 942 659 910 666 888 647 859Z" fill="#c040ff" stroke="#c040ff" stroke-width="2.0"/>
<path d="M670 890 662 912 656 943 665 953 680 955 697 953 702 895 684 890Z" fill="#ffb840" stroke="#ffb840" stroke-width="2.0"/>
<path d="M760 890 710 892 705 896 702 922 701 953 703 954 716 949 774 933 768 911Z" fill="#ff8890" stroke="#ff8890" stroke-width="2.0"/>
<path d="M802 933 792 937 785 944 787 1002 790 1008 799 1016 821 1020 832 994 827 970 825 947 818 941 809 937 807 934Z" fill="#a040ff" stroke="#a040ff" stroke-width="2.0"/>
<path d="M653 945 622 943 606 963 607 973 611 985 628 992 641 983 652 971 660 955Z" fill="#f870f0" stroke="#f870f0" stroke-width="2.0"/>
<path d="M603 965 589 956 578 945 574 938 554 945 534 945 517 940 503 948 491 951 500 976 500 990 494 1005 496 1033 498 1034 552 1022 588 1021 596 1002 608 986 604 975Z" fill="#ff6060" stroke="#ff6060" stroke-width="2.0"/>
<path d="M700 956 683 958 663 956 658 968 652 977 643 986 630 995 636 1025 637 1054 647 1065 685 1058 721 1046 721 1039 713 998Z" fill="#ff2818" stroke="#ff2818" stroke-width="2.0"/>
<path d="M775 936 704 957 716 996 725 1046 743 1051 761 1026 784 1005 782 944Z" fill="#ff6890" stroke="#ff6890" stroke-width="2.0"/>
<path d="M477 945 465 948 446 956 440 968 441 1015 443 1034 445 1036 460 1039 474 1039 493 1034 491 1007 486 1000 480 986 480 965 483 950Z" fill="#ffff30" stroke="#ffff30" stroke-width="2.0"/>
<path d="M486 952 483 967 483 984 492 1002 497 988 497 978 488 953Z" fill="#e8ff60" stroke="#e8ff60" stroke-width="2.0"/>
<path d="M610 989 599 1004 591 1021 594 1032 603 1054 634 1053 633 1027 626 995Z" fill="#30ffa0" stroke="#30ffa0" stroke-width="2.0"/>
<path d="M599 1055 588 1024 565 1024 547 1026 498 1037 503 1046 519 1063 528 1078 556 1080 569 1073 584 1072Z" fill="#80ff60" stroke="#80ff60" stroke-width="2.0"/>
<path d="M822 1023 813 1023 806 1020 797 1019 785 1008 764 1028 746 1054 768 1086 784 1078 804 1074 811 1055 822 1050 829 1041 828 1035Z" fill="#ff6878" stroke="#ff6878" stroke-width="2.0"/>
<path d="M495 1038 476 1042 458 1042 443 1039 435 1052 430 1057 425 1058 429 1065 434 1082 453 1084 479 1091 488 1070 500 1048Z" fill="#ff1870" stroke="#ff1870" stroke-width="2.0"/>
<path d="M316 1036 316 1082 328 1090 345 1060 349 1047 349 1040 327 1039Z" fill="#ff1870" stroke="#ff1870" stroke-width="2.0"/>
<path d="M502 1051 483 1091 508 1097 517 1089 524 1079 513 1061Z" fill="#e0ff30" stroke="#e0ff30" stroke-width="2.0"/>
<path d="M421 1058 417 1075 421 1095 423 1096 427 1092 431 1083 426 1067Z" fill="#ff1010" stroke="#ff1010" stroke-width="2.0"/>
<path d="M634 1056 602 1057 586 1075 586 1087 580 1097 584 1109 599 1123 604 1131 620 1124 640 1111 634 1099 634 1087 639 1076 645 1068Z" fill="#d0a0ff" stroke="#d0a0ff" stroke-width="2.0"/>
<path d="M646 1072 637 1089 637 1097 644 1110 649 1109 655 1097 654 1086Z" fill="#ff40e0" stroke="#ff40e0" stroke-width="2.0"/>
<path d="M584 1078 581 1075 571 1076 560 1081 559 1083 567 1090 578 1094 582 1088Z" fill="#ff2080" stroke="#ff2080" stroke-width="2.0"/>
<path d="M743 1055 722 1049 687 1061 648 1068 658 1088 658 1099 652 1111 680 1134 698 1138 703 1138 719 1130 734 1125 760 1121 765 1102 766 1089Z" fill="#ff5888" stroke="#ff5888" stroke-width="2.0"/>
<path d="M770 1090 763 1123 769 1135 774 1153 790 1165 805 1158 809 1158 818 1169 823 1180 823 1184 881 1184 881 1167 892 1146 882 1126 875 1105 875 1056 849 1056 827 1050 824 1053 814 1057 805 1078 786 1081Z" fill="#f8ff80" stroke="#f8ff80" stroke-width="2.0"/>
<path d="M479 1095 477 1103 479 1109 483 1113 500 1115 507 1105 507 1100 481 1094Z" fill="#ff80b0" stroke="#ff80b0" stroke-width="2.0"/>
<path d="M527 1081 520 1091 510 1100 510 1107 503 1117 511 1142 514 1169 539 1173 542 1176 539 1184 585 1184 576 1157 573 1141 575 1124 581 1110 577 1098 562 1091 555 1083Z" fill="#ff2070" stroke="#ff2070" stroke-width="2.0"/>
<path d="M499 1118 481 1116 433 1171 435 1184 503 1184 503 1176 511 1169 506 1136Z" fill="#d8ff90" stroke="#d8ff90" stroke-width="2.0"/>
<path d="M583 1113 578 1126 576 1139 579 1155 589 1184 602 1134 596 1125Z" fill="#30c8ff" stroke="#30c8ff" stroke-width="2.0"/>
<path d="M678 1137 653 1116 648 1113 643 1113 622 1127 605 1134 601 1154 592 1184 664 1184 665 1161 670 1148Z" fill="#30ff30" stroke="#30ff30" stroke-width="2.0"/>
<path d="M681 1138 673 1150 668 1163 667 1184 708 1184 708 1168 701 1142Z" fill="#ffc030" stroke="#ffc030" stroke-width="2.0"/>
<path d="M760 1124 736 1128 704 1141 708 1151 711 1166 711 1184 744 1184 744 1177 748 1168 755 1161 770 1153 766 1137Z" fill="#e0ff30" stroke="#e0ff30" stroke-width="2.0"/>
<path d="M788 1168 773 1156 771 1156 757 1164 751 1170 747 1179 747 1184 783 1184 783 1180Z" fill="#8050ff" stroke="#8050ff" stroke-width="2.0"/>
<path d="M506 1178 506 1184 536 1184 538 1177 529 1174 512 1172Z" fill="#e080ff" stroke="#e080ff" stroke-width="2.0"/>
<path d="M815 1171 807 1161 791 1169 786 1184 820 1184Z" fill="#ffa030" stroke="#ffa030" stroke-width="2.0"/>
<path d="M927 791 925 793 925 802 921 813 911 824 904 829 905 833 943 896 962 891 986 891 996 874 1015 852 1003 833 998 819 994 800 935 789Z" fill="#50a8f8" stroke="#50a8f8" stroke-width="2.0"/>
<path d="M1047 827 1039 849 1051 868 1065 880 1072 876 1074 858 1074 825Z" fill="#ff7030" stroke="#ff7030" stroke-width="2.0"/>
<path d="M1047 793 1043 804 1043 814 1047 824 1071 822 1061 806 1060 797Z" fill="#ffee10" stroke="#ffee10" stroke-width="2.0"/>
<path d="M1185 839 1170 830 1158 817 1108 827 1106 849 1108 874 1111 888 1123 887 1137 892 1152 888 1169 886Z" fill="#7040f0" stroke="#7040f0" stroke-width="2.0"/>
<path d="M1085 823 1077 825 1077 860 1075 876 1091 895 1095 895 1108 889 1105 876 1103 851 1105 827 1094 823Z" fill="#a0d0ff" stroke="#a0d0ff" stroke-width="2.0"/>
<path d="M899 830 895 830 871 848 836 866 837 896 844 916 874 924 893 933 896 933 904 927 916 922 934 920 935 911 940 899Z" fill="#1818f0" stroke="#1818f0" stroke-width="2.0"/>
<path d="M835 899 812 914 810 933 826 943 832 936 841 918Z" fill="#50ff40" stroke="#50ff40" stroke-width="2.0"/>
<path d="M1036 850 1019 853 1005 868 989 892 998 909 1001 919 1038 919 1047 909 1054 906 1057 894 1062 883 1048 870Z" fill="#fff060" stroke="#fff060" stroke-width="2.0"/>
<path d="M937 917 937 922 940 926 952 922 962 923 968 931 989 926 996 923 998 920 986 894 964 894 943 899Z" fill="#40ff70" stroke="#40ff70" stroke-width="2.0"/>
<path d="M1073 879 1066 883 1058 903 1058 908 1063 913 1068 923 1079 922 1082 910 1088 899 1086 894Z" fill="#20ff30" stroke="#20ff30" stroke-width="2.0"/>
<path d="M1109 893 1091 900 1082 923 1107 934 1110 927 1112 915Z" fill="#60ff40" stroke="#60ff40" stroke-width="2.0"/>
<path d="M1113 891 1112 893 1115 905 1115 917 1111 935 1121 939 1131 938 1135 935 1140 924 1134 908 1133 895 1126 891Z" fill="#f0ff70" stroke="#f0ff70" stroke-width="2.0"/>
<path d="M1170 889 1136 895 1137 906 1144 921 1160 919 1178 920 1180 918 1182 912 1181 906Z" fill="#40ffa0" stroke="#40ffa0" stroke-width="2.0"/>
<path d="M1188 839 1173 888 1182 900 1185 912 1200 912 1200 839Z" fill="#40ff30" stroke="#40ff30" stroke-width="2.0"/>
<path d="M1053 910 1041 920 1048 927 1057 931 1065 925 1065 923 1060 915 1055 910Z" fill="#40ff50" stroke="#40ff50" stroke-width="2.0"/>
<path d="M965 932 960 926 957 925 942 929 943 934 946 936 957 936Z" fill="#c0c0ff" stroke="#c0c0ff" stroke-width="2.0"/>
<path d="M999 924 1003 932 1013 943 1023 949 1044 955 1046 953 1054 935 1046 930 1038 922 1012 921 1001 922Z" fill="#5050f0" stroke="#5050f0" stroke-width="2.0"/>
<path d="M1069 926 1057 935 1054 945 1047 957 1049 968 1069 980 1084 992 1094 973 1106 937 1092 932 1079 925Z" fill="#1020f0" stroke="#1020f0" stroke-width="2.0"/>
<path d="M1144 924 1138 938 1151 953 1160 959 1170 963 1173 963 1181 957 1181 940 1178 923 1162 922Z" fill="#b0e0ff" stroke="#b0e0ff" stroke-width="2.0"/>
<path d="M1189 914 1181 922 1184 938 1184 958 1191 964 1200 964 1200 915Z" fill="#40ff40" stroke="#40ff40" stroke-width="2.0"/>
<path d="M844 919 838 933 828 946 834 991 837 994 847 996 857 1001 870 994 881 994 894 982 893 937 872 927Z" fill="#ff3070" stroke="#ff3070" stroke-width="2.0"/>
<path d="M934 923 915 926 896 937 898 982 905 984 920 984 929 981 940 940 938 929Z" fill="#8040ff" stroke="#8040ff" stroke-width="2.0"/>
<path d="M943 939 933 983 945 996 959 1015 991 1073 1015 1097 1053 1097 1056 1081 1041 1080 1033 1054 1033 1035 1040 1019 1038 1010 1038 991 1042 977 1046 970 1044 958 1033 956 1015 949 1003 938 996 927 978 933 969 934 959 939Z" fill="#ff7858" stroke="#ff7858" stroke-width="2.0"/>
<path d="M1049 972 1045 979 1041 993 1041 1008 1043 1018 1063 1014 1080 1014 1083 996 1067 983Z" fill="#c8ff30" stroke="#c8ff30" stroke-width="2.0"/>
<path d="M1135 940 1128 942 1119 942 1109 939 1097 975 1086 995 1084 1015 1091 1028 1090 1049 1084 1064 1074 1080 1059 1081 1057 1097 1079 1099 1124 1099 1162 1041 1169 1000 1171 967 1153 959 1140 947Z" fill="#b8c8ff" stroke="#b8c8ff" stroke-width="2.0"/>
<path d="M1181 961 1174 967 1172 1002 1165 1041 1200 1042 1200 967 1189 967Z" fill="#a0ffc0" stroke="#a0ffc0" stroke-width="2.0"/>
<path d="M834 997 825 1018 825 1022 832 1038 845 1038 858 1035 859 1024 857 1005 845 999Z" fill="#d080ff" stroke="#d080ff" stroke-width="2.0"/>
<path d="M879 997 869 998 860 1004 862 1022 861 1035 875 1041 879 1014Z" fill="#ff90c0" stroke="#ff90c0" stroke-width="2.0"/>
<path d="M882 998 882 1016 878 1042 883 1050 890 1052 899 1058 921 1053 936 1053 948 1055 969 1062 986 1071 956 1017 930 984 922 987 903 987 896 985Z" fill="#a0f8ff" stroke="#a0f8ff" stroke-width="2.0"/>
<path d="M1081 1017 1065 1017 1042 1022 1036 1037 1036 1052 1044 1078 1071 1078 1083 1058 1088 1043 1088 1030Z" fill="#ff40f0" stroke="#ff40f0" stroke-width="2.0"/>
<path d="M879 1051 875 1044 867 1042 860 1038 847 1041 832 1042 829 1047 851 1053 876 1053Z" fill="#ff80b0" stroke="#ff80b0" stroke-width="2.0"/>
<path d="M882 1053 878 1056 877 1096 881 1114 895 1145 900 1141 902 1127 905 1120 900 1086 899 1062Z" fill="#ff2040" stroke="#ff2040" stroke-width="2.0"/>
<path d="M902 1062 903 1084 908 1117 918 1116 927 1121 930 1121 937 1118 978 1113 979 1120 993 1113 1011 1099 989 1076 962 1063 934 1056 916 1057Z" fill="#5020f0" stroke="#5020f0" stroke-width="2.0"/>
<path d="M908 1121 905 1129 903 1143 909 1145 920 1145 927 1141 926 1124 916 1119Z" fill="#9040ff" stroke="#9040ff" stroke-width="2.0"/>
<path d="M976 1116 964 1119 939 1121 931 1124 929 1127 930 1140 940 1141 966 1131 976 1125Z" fill="#f0ff80" stroke="#f0ff80" stroke-width="2.0"/>
<path d="M1054 1100 1015 1100 995 1116 980 1123 977 1129 955 1140 942 1144 929 1144 922 1148 916 1149 900 1146 892 1153 886 1163 884 1169 884 1184 1018 1184 1013 1174 1014 1160 1029 1145 1053 1132Z" fill="#ff2020" stroke="#ff2020" stroke-width="2.0"/>
<path d="M1016 1165 1016 1172 1021 1180 1021 1184 1105 1184 1105 1180 1109 1173 1105 1164 1096 1156 1056 1135 1031 1148 1019 1159Z" fill="#1818f0" stroke="#1818f0" stroke-width="2.0"/>
<path d="M1057 1100 1056 1131 1092 1149 1108 1162 1112 1171 1112 1175 1108 1184 1169 1184 1172 1164 1170 1150 1166 1140 1141 1119 1124 1102 1077 1102Z" fill="#30ff50" stroke="#30ff50" stroke-width="2.0"/>
<path d="M1200 1045 1164 1044 1128 1100 1143 1116 1167 1136 1185 1134 1183 1130 1184 1115 1196 1103 1200 1103Z" fill="#30ff30" stroke="#30ff30" stroke-width="2.0"/>
<path d="M1169 1139 1173 1148 1175 1162 1172 1184 1200 1184 1200 1139 1190 1137Z" fill="#ff40f0" stroke="#ff40f0" stroke-width="2.0"/>
<path d="M1198 1106 1188 1115 1186 1120 1186 1128 1189 1134 1200 1136 1200 1106Z" fill="#8040ff" stroke="#8040ff" stroke-width="2.0"/>
</g>
<clipPath id="cb"><rect x="1210" y="17" width="1166" height="1165"/></clipPath>
<g clip-path="url(#cb)">
<rect x="1210" y="17" width="1166" height="1165" fill="#1c1c1c"/>
<path d="M1207 14 1207 81 1222 78 1258 78 1285 83 1303 89 1315 95 1324 91 1303 70 1288 45 1285 32 1286 14Z" fill="#70ff10" stroke="#70ff10" stroke-width="2.0"/>
<path d="M1289 14 1289 36 1297 55 1313 76 1328 90 1335 89 1366 66 1388 55 1395 36 1397 14Z" fill="#3a10ff" stroke="#3a10ff" stroke-width="2.0"/>
<path d="M1207 84 1207 202 1262 203 1276 201 1281 175 1289 150 1301 121 1313 98 1301 92 1283 86 1264 82 1224 81Z" fill="#3010f0" stroke="#3010f0" stroke-width="2.0"/>
<path d="M1400 14 1398 38 1392 55 1409 65 1439 66 1451 70 1469 80 1476 79 1481 75 1491 58 1498 37 1498 23 1496 14Z" fill="#b8ff30" stroke="#b8ff30" stroke-width="2.0"/>
<path d="M1499 14 1501 21 1501 39 1494 60 1483 78 1509 80 1537 75 1538 53 1535 14Z" fill="#ff3ca0" stroke="#ff3ca0" stroke-width="2.0"/>
<path d="M1538 14 1541 51 1541 75 1570 85 1572 77 1578 73 1597 72 1600 77 1601 88 1608 88 1632 81 1642 75 1651 67 1653 46 1645 33 1640 28 1638 20 1632 31 1629 32 1625 14Z" fill="#10ff10" stroke="#10ff10" stroke-width="2.0"/>
<path d="M1598 89 1598 83 1595 75 1580 76 1576 78 1573 83 1573 86 1584 90 1595 92Z" fill="#ffa020" stroke="#ffa020" stroke-width="2.0"/>
<path d="M1388 58 1362 73 1340 89 1337 93 1368 126 1390 142 1397 135 1409 117 1418 98 1418 95 1408 79 1406 67 1397 61Z" fill="#ffa0e0" stroke="#ffa0e0" stroke-width="2.0"/>
<path d="M1409 68 1411 77 1421 93 1444 90 1466 83 1449 73 1437 69Z" fill="#a0ff20" stroke="#a0ff20" stroke-width="2.0"/>
<path d="M1594 95 1562 87 1540 78 1511 83 1493 83 1479 81 1470 84 1468 87 1474 122 1484 158 1495 187 1509 181 1516 181 1528 187 1537 180 1556 171 1577 166 1592 165 1593 160 1590 134 1592 126 1597 126Z" fill="#f0ff10" stroke="#f0ff10" stroke-width="2.0"/>
<path d="M1465 87 1446 93 1422 97 1409 124 1393 144 1402 172 1410 205 1491 200 1492 189 1481 160 1472 128Z" fill="#ff10b0" stroke="#ff10b0" stroke-width="2.0"/>
<path d="M1595 129 1593 141 1596 158 1595 165 1597 165Z" fill="#ff7a58" stroke="#ff7a58" stroke-width="2.0"/>
<path d="M1328 93 1316 99 1304 123 1286 170 1279 202 1284 207 1309 215 1360 227 1379 212 1391 206 1405 203 1404 194 1397 167 1389 145 1378 139 1366 129 1333 93Z" fill="#d8ff80" stroke="#d8ff80" stroke-width="2.0"/>
<path d="M1276 204 1264 206 1207 205 1207 295 1220 296 1233 294 1258 269 1267 254 1273 237 1279 212 1279 207Z" fill="#ff9888" stroke="#ff9888" stroke-width="2.0"/>
<path d="M1282 210 1276 239 1268 260 1256 277 1236 297 1286 320 1334 352 1365 339 1373 323 1381 313 1368 276 1359 231 1321 222Z" fill="#ff4898" stroke="#ff4898" stroke-width="2.0"/>
<path d="M1406 206 1393 209 1381 215 1362 230 1371 274 1384 311 1400 306 1406 249Z" fill="#2060f0" stroke="#2060f0" stroke-width="2.0"/>
<path d="M1491 203 1410 208 1408 266 1403 307 1415 315 1432 334 1452 337 1480 337 1489 335 1497 285 1500 245 1500 210Z" fill="#10ff80" stroke="#10ff80" stroke-width="2.0"/>
<path d="M1525 190 1514 184 1504 186 1495 191 1494 201 1501 207 1510 205 1522 200Z" fill="#30ff50" stroke="#30ff50" stroke-width="2.0"/>
<path d="M1528 192 1526 200 1554 212 1592 223 1598 237 1604 236 1614 239 1624 249 1631 261 1654 252 1654 240 1656 231 1661 220 1671 206 1667 192 1656 184 1637 174 1608 168 1586 168 1561 173 1539 183Z" fill="#40ff20" stroke="#40ff20" stroke-width="2.0"/>
<path d="M1503 210 1501 278 1492 336 1512 350 1525 352 1534 356 1551 353 1568 353 1575 329 1583 320 1592 316 1598 292 1607 292 1614 288 1622 277 1628 262 1621 251 1612 242 1608 240 1596 240 1593 236 1590 226 1552 215 1525 203Z" fill="#ffa8b8" stroke="#ffa8b8" stroke-width="2.0"/>
<path d="M1207 298 1207 466 1235 462 1256 463 1270 466 1283 435 1287 407 1299 402 1302 391 1308 380 1314 374 1325 368 1332 355 1291 327 1231 298Z" fill="#b8ff30" stroke="#b8ff30" stroke-width="2.0"/>
<path d="M1490 339 1450 340 1431 337 1419 345 1405 351 1390 351 1365 342 1336 355 1328 369 1334 377 1345 399 1373 408 1366 466 1386 475 1398 488 1410 508 1429 505 1477 472 1522 446 1520 418 1500 409 1497 406 1505 387 1509 353Z" fill="#ff1030" stroke="#ff1030" stroke-width="2.0"/>
<path d="M1326 372 1319 375 1311 382 1305 393 1302 404 1290 409 1286 437 1273 468 1285 483 1345 480 1363 465 1369 410 1343 402Z" fill="#ff90d0" stroke="#ff90d0" stroke-width="2.0"/>
<path d="M1631 264 1627 275 1619 288 1609 295 1600 296 1595 318 1585 323 1576 335 1572 349 1572 356 1580 367 1589 363 1597 362 1602 371 1620 374 1634 381 1642 392 1644 404 1648 407 1675 402 1718 397 1723 388 1738 374 1739 360 1742 353 1726 330 1716 309 1710 285 1708 266 1659 255Z" fill="#ff2010" stroke="#ff2010" stroke-width="2.0"/>
<path d="M1569 357 1553 356 1537 359 1537 389 1535 407 1574 402 1578 370Z" fill="#ffd080" stroke="#ffd080" stroke-width="2.0"/>
<path d="M1582 371 1577 401 1580 406 1587 403 1598 403 1603 407 1618 404 1641 404 1637 390 1626 380 1614 376 1600 374 1595 365 1588 367Z" fill="#40ffc0" stroke="#40ffc0" stroke-width="2.0"/>
<path d="M1512 353 1512 363 1508 389 1501 405 1521 414 1532 407 1534 387 1534 360 1523 355Z" fill="#40e0ff" stroke="#40e0ff" stroke-width="2.0"/>
<path d="M1428 335 1413 318 1402 310 1399 310 1384 315 1376 325 1369 339 1388 347 1403 348 1417 342Z" fill="#ff40c0" stroke="#ff40c0" stroke-width="2.0"/>
<path d="M1635 14 1628 14 1630 26 1635 17Z" fill="#ffb020" stroke="#ffb020" stroke-width="2.0"/>
<path d="M1642 23 1646 29 1650 27Z" fill="#ff7060" stroke="#ff7060" stroke-width="2.0"/>
<path d="M1640 14 1640 17 1642 19 1655 25 1655 28 1649 32 1655 43 1667 40 1675 36 1697 16 1697 14Z" fill="#ffe8c0" stroke="#ffe8c0" stroke-width="2.0"/>
<path d="M1655 49 1654 67 1727 102 1765 84 1775 77 1779 58 1780 35 1757 26 1752 20 1752 14 1700 14 1700 18 1683 35 1669 43 1657 46Z" fill="#ff50f8" stroke="#ff50f8" stroke-width="2.0"/>
<path d="M1755 14 1755 18 1759 23 1779 31 1792 28 1800 24 1804 19 1803 14Z" fill="#ffe0e0" stroke="#ffe0e0" stroke-width="2.0"/>
<path d="M1783 34 1783 51 1778 79 1810 94 1831 100 1844 102 1875 102 1888 100 1894 65 1874 54 1859 42 1855 35 1854 28 1860 14 1806 14 1807 21 1802 27Z" fill="#ff8a68" stroke="#ff8a68" stroke-width="2.0"/>
<path d="M1858 26 1858 33 1865 43 1895 62 1898 62 1925 50 1946 44 1968 43 1978 45 1971 30 1961 18 1961 14 1863 14 1863 18Z" fill="#4040f0" stroke="#4040f0" stroke-width="2.0"/>
<path d="M2141 153 2121 128 2113 116 2107 102 2106 77 2113 50 2090 43 2074 32 2064 40 2052 45 2042 47 2014 48 1993 61 1991 61 1979 49 1966 46 1954 46 1927 53 1898 65 1891 103 1898 123 1912 124 1921 131 1926 143 1930 164 1937 167 1942 172 1962 164 1983 161 1986 153 1990 152 1995 156 1999 164 2004 181 2063 181 2096 177 2132 170Z" fill="#a8ff20" stroke="#a8ff20" stroke-width="2.0"/>
<path d="M1653 70 1644 78 1634 84 1616 90 1601 91 1598 94 1601 134 1601 162 1602 165 1620 166 1639 171 1669 188 1686 173 1715 158 1724 105Z" fill="#ff7a58" stroke="#ff7a58" stroke-width="2.0"/>
<path d="M1727 106 1718 160 1730 169 1741 183 1747 198 1748 206 1762 213 1781 211 1829 211 1840 213 1851 198 1862 187 1880 175 1898 167 1896 126 1888 103 1877 105 1842 105 1829 103 1808 97 1775 82Z" fill="#ffa020" stroke="#ffa020" stroke-width="2.0"/>
<path d="M1901 126 1899 127 1901 166 1903 169 1913 175 1926 164 1924 149 1918 133 1910 127Z" fill="#30ffa0" stroke="#30ffa0" stroke-width="2.0"/>
<path d="M1745 206 1738 185 1729 173 1717 163 1706 166 1688 176 1670 192 1675 205 1697 208 1731 208Z" fill="#ff8a40" stroke="#ff8a40" stroke-width="2.0"/>
<path d="M1657 242 1658 252 1710 263 1752 251 1759 233 1760 216 1746 209 1733 211 1695 211 1674 208 1664 222Z" fill="#6030f0" stroke="#6030f0" stroke-width="2.0"/>
<path d="M1756 252 1797 279 1809 278 1843 250 1857 235 1847 223 1837 215 1783 214 1764 216 1762 235Z" fill="#80ffe0" stroke="#80ffe0" stroke-width="2.0"/>
<path d="M1911 178 1900 171 1882 178 1864 190 1854 200 1844 213 1844 215 1861 234 1894 242 1929 212 1921 202Z" fill="#ff1848" stroke="#ff1848" stroke-width="2.0"/>
<path d="M1928 167 1922 171 1915 179 1924 200 1932 210 1938 191 1940 175 1935 170Z" fill="#ff3888" stroke="#ff3888" stroke-width="2.0"/>
<path d="M1990 156 1988 157 1985 164 1964 167 1944 176 1936 209 1937 212 1951 222 1975 231 1980 231 1985 221 1989 223 1991 222 1996 209 2001 182 1996 166Z" fill="#6040f0" stroke="#6040f0" stroke-width="2.0"/>
<path d="M1864 238 1860 238 1845 253 1812 280 1818 290 1823 307 1859 328 1881 321 1897 281 1896 264 1892 245Z" fill="#a8b8ff" stroke="#a8b8ff" stroke-width="2.0"/>
<path d="M1933 213 1896 245 1899 262 1900 281 1927 295 1937 304 1950 327 1955 344 1983 338 1992 360 2000 361 2009 355 2005 326 2005 302 2008 273 1998 262 1995 261 1990 264 1987 263 1980 235 1957 229 1949 225Z" fill="#ff8a28" stroke="#ff8a28" stroke-width="2.0"/>
<path d="M1753 254 1711 266 1713 283 1719 307 1729 328 1744 350 1761 345 1793 311 1793 292 1795 282Z" fill="#ff4a28" stroke="#ff4a28" stroke-width="2.0"/>
<path d="M1804 281 1798 283 1796 294 1796 310 1807 313 1817 309 1819 307 1819 304 1811 285 1808 281Z" fill="#ffd060" stroke="#ffd060" stroke-width="2.0"/>
<path d="M1899 284 1885 322 1941 353 1952 346 1947 329 1934 306 1925 298Z" fill="#c020ff" stroke="#c020ff" stroke-width="2.0"/>
<path d="M1795 314 1765 346 1771 361 1770 370 1767 377 1784 384 1791 389 1795 395 1795 406 1799 409 1799 420 1797 427 1788 442 1788 445 1800 472 1834 477 1845 462 1857 441 1859 412 1851 405 1852 365 1857 331 1821 310 1809 316Z" fill="#7020ff" stroke="#7020ff" stroke-width="2.0"/>
<path d="M1939 356 1882 324 1861 331 1855 367 1854 403 1861 409 1896 407 1905 395 1917 383 1936 372Z" fill="#2828f0" stroke="#2828f0" stroke-width="2.0"/>
<path d="M1981 341 1955 348 1942 357 1939 370 1939 375 1955 404 1955 408 1948 417 1948 454 1946 468 1957 474 1972 479 1976 479 1985 456 1988 452 2004 452 2015 450 2031 443 2042 435 2048 429 2051 409 2047 393 2047 372 2034 359 2012 357 2002 364 1992 364 1988 360Z" fill="#80ffc0" stroke="#80ffc0" stroke-width="2.0"/>
<path d="M1761 348 1745 354 1741 368 1742 375 1755 377 1764 376 1768 363 1767 358Z" fill="#ff3030" stroke="#ff3030" stroke-width="2.0"/>
<path d="M1726 390 1722 398 1732 404 1733 419 1739 432 1745 436 1785 440 1790 433 1796 418 1796 411 1791 408 1793 400 1789 392 1782 387 1764 379 1753 380 1739 378Z" fill="#ff4a30" stroke="#ff4a30" stroke-width="2.0"/>
<path d="M1936 377 1919 386 1908 397 1903 405 1898 410 1894 411 1902 434 1905 454 1925 469 1943 468 1945 452 1945 415 1952 406Z" fill="#fff0c0" stroke="#fff0c0" stroke-width="2.0"/>
<path d="M2015 45 2046 43 2062 37 2072 28 2074 14 2028 14 2028 19 2021 28Z" fill="#60ff40" stroke="#60ff40" stroke-width="2.0"/>
<path d="M1964 14 1964 16 1977 33 1982 47 1992 57 2012 45 2015 32 2025 17 2025 14Z" fill="#8080ff" stroke="#8080ff" stroke-width="2.0"/>
<path d="M2075 24 2076 29 2086 37 2116 48 2160 46 2167 30 2166 14 2077 14Z" fill="#ff1060" stroke="#ff1060" stroke-width="2.0"/>
<path d="M2169 14 2170 32 2163 48 2179 63 2198 76 2209 72 2222 55 2228 42 2231 28 2231 14Z" fill="#ff5898" stroke="#ff5898" stroke-width="2.0"/>
<path d="M2117 51 2110 73 2109 96 2112 106 2124 126 2143 150 2157 143 2177 138 2189 103 2195 78 2177 66 2159 49Z" fill="#ff4878" stroke="#ff4878" stroke-width="2.0"/>
<path d="M2234 14 2234 30 2231 44 2225 57 2214 73 2254 90 2284 99 2288 99 2302 88 2298 58 2295 14Z" fill="#20ff80" stroke="#20ff80" stroke-width="2.0"/>
<path d="M2298 14 2305 88 2325 91 2343 90 2347 71 2349 50 2346 14Z" fill="#20ff30" stroke="#20ff30" stroke-width="2.0"/>
<path d="M2349 14 2352 37 2352 52 2350 73 2346 90 2356 106 2362 111 2368 113 2374 110 2378 110 2378 14Z" fill="#c8ff30" stroke="#c8ff30" stroke-width="2.0"/>
<path d="M2199 79 2181 137 2181 140 2193 158 2198 171 2218 174 2250 174 2269 171 2275 166 2279 134 2286 103 2252 93 2211 75Z" fill="#ff7050" stroke="#ff7050" stroke-width="2.0"/>
<path d="M2289 103 2282 136 2278 166 2328 174 2378 175 2378 113 2370 116 2360 114 2353 108 2344 93 2323 94 2304 91Z" fill="#30ff60" stroke="#30ff60" stroke-width="2.0"/>
<path d="M2178 142 2168 143 2145 153 2137 168 2137 171 2149 183 2169 194 2172 194 2181 187 2195 172 2190 160Z" fill="#80ffe0" stroke="#80ffe0" stroke-width="2.0"/>
<path d="M2182 223 2175 211 2171 198 2151 189 2134 173 2098 180 2065 184 2004 184 1999 209 2005 210 2012 214 2025 227 2032 243 2038 267 2045 272 2066 269 2094 268 2129 273 2146 256 2160 248 2171 245 2173 236Z" fill="#b8ff20" stroke="#b8ff20" stroke-width="2.0"/>
<path d="M2174 197 2178 209 2185 221 2210 225 2224 230 2239 238 2267 217 2274 209 2278 201 2278 193 2276 187 2268 175 2252 177 2216 177 2198 174 2183 190Z" fill="#40ff20" stroke="#40ff20" stroke-width="2.0"/>
<path d="M2276 169 2272 174 2277 181 2281 191 2280 206 2269 220 2241 241 2242 264 2270 278 2300 290 2341 301 2353 302 2353 279 2356 274 2362 275 2373 290 2378 290 2378 178 2326 177Z" fill="#ffe830" stroke="#ffe830" stroke-width="2.0"/>
<path d="M2174 246 2191 261 2202 264 2218 245 2225 242 2233 242 2238 244 2238 242 2222 233 2208 228 2185 225 2179 232Z" fill="#1018f0" stroke="#1018f0" stroke-width="2.0"/>
<path d="M2238 247 2227 245 2220 248 2205 266 2213 275 2220 274 2232 269 2239 264Z" fill="#60ff20" stroke="#60ff20" stroke-width="2.0"/>
<path d="M1998 212 1994 224 1991 227 1986 226 1983 233 1990 260 1993 258 2002 260 2011 271 2035 268 2024 232 2014 220 2007 215Z" fill="#30ff80" stroke="#30ff80" stroke-width="2.0"/>
<path d="M2038 271 2029 271 2011 275 2008 304 2008 324 2012 354 2024 356 2034 355 2042 327 2044 275Z" fill="#ff5020" stroke="#ff5020" stroke-width="2.0"/>
<path d="M2128 276 2092 271 2068 272 2047 276 2045 326 2054 326 2064 332 2068 339 2075 361 2094 360 2099 345 2106 332 2121 317 2143 301Z" fill="#40ff10" stroke="#40ff10" stroke-width="2.0"/>
<path d="M2172 249 2168 249 2154 255 2132 275 2142 294 2148 301 2153 298 2187 263Z" fill="#f0ffa0" stroke="#f0ffa0" stroke-width="2.0"/>
<path d="M2201 267 2191 264 2152 303 2167 320 2186 318 2198 303 2209 276Z" fill="#ff7848" stroke="#ff7848" stroke-width="2.0"/>
<path d="M2190 319 2203 333 2209 347 2212 362 2215 364 2257 360 2307 361 2326 354 2347 352 2352 347 2355 307 2353 305 2329 302 2298 293 2268 281 2242 268 2239 268 2228 275 2212 279 2201 305Z" fill="#e8f0ff" stroke="#e8f0ff" stroke-width="2.0"/>
<path d="M2358 277 2356 281 2356 303 2363 295 2369 291 2366 285Z" fill="#ff8838" stroke="#ff8838" stroke-width="2.0"/>
<path d="M2378 293 2370 294 2358 306 2355 347 2361 353 2368 356 2378 355Z" fill="#80ffd0" stroke="#80ffd0" stroke-width="2.0"/>
<path d="M2165 323 2147 304 2145 304 2114 328 2107 337 2098 360 2131 366 2151 367 2161 359 2162 339Z" fill="#60b0ff" stroke="#60b0ff" stroke-width="2.0"/>
<path d="M2168 324 2164 359 2182 362 2209 362 2206 349 2200 335 2188 322 2184 321Z" fill="#ff8a38" stroke="#ff8a38" stroke-width="2.0"/>
<path d="M2045 329 2037 357 2050 370 2057 369 2070 363 2070 356 2061 334 2052 329Z" fill="#40ff40" stroke="#40ff40" stroke-width="2.0"/>
<path d="M2050 374 2050 391 2052 403 2054 406 2051 431 2102 482 2110 482 2158 457 2174 451 2168 437 2162 411 2149 404 2151 389 2150 370 2129 369 2100 363 2074 364 2064 370Z" fill="#ff0850" stroke="#ff0850" stroke-width="2.0"/>
<path d="M2163 362 2153 370 2154 391 2152 402 2165 409 2171 435 2177 450 2185 453 2196 454 2202 435 2203 406 2217 396 2213 367 2210 365 2180 365Z" fill="#b020ff" stroke="#b020ff" stroke-width="2.0"/>
<path d="M2306 364 2259 363 2216 367 2220 398 2206 408 2206 430 2200 457 2208 471 2217 482 2221 479 2233 420 2239 418 2262 416 2264 412 2259 408 2259 405 2281 391 2295 390 2308 394 2316 381 2308 372Z" fill="#30ff40" stroke="#30ff40" stroke-width="2.0"/>
<path d="M2347 355 2320 359 2310 363 2309 365 2313 373 2319 379 2345 376 2348 367Z" fill="#c0ff80" stroke="#c0ff80" stroke-width="2.0"/>
<path d="M2353 350 2350 353 2351 369 2349 379 2360 404 2358 413 2361 430 2367 440 2378 442 2378 358 2366 359 2359 356Z" fill="#ff2040" stroke="#ff2040" stroke-width="2.0"/>
<path d="M2322 382 2310 397 2311 422 2305 430 2320 471 2329 516 2354 521 2378 519 2378 445 2370 445 2365 443 2359 435 2355 415 2357 406 2346 380 2342 379Z" fill="#8030ff" stroke="#8030ff" stroke-width="2.0"/>
<path d="M2263 406 2267 410 2266 418 2289 430 2302 428 2308 420 2307 397 2298 394 2283 394Z" fill="#ff80ff" stroke="#ff80ff" stroke-width="2.0"/>
<path d="M1575 405 1534 410 1523 417 1525 430 1525 446 1542 474 1559 492 1590 489 1583 450 1578 409Z" fill="#70ff30" stroke="#70ff30" stroke-width="2.0"/>
<path d="M1581 409 1593 486 1595 483 1611 484 1618 490 1624 505 1634 503 1637 486 1643 474 1648 468 1644 435 1646 410 1642 407 1620 407 1601 410 1596 406 1589 406Z" fill="#ff8030" stroke="#ff8030" stroke-width="2.0"/>
<path d="M1270 469 1241 465 1207 469 1207 594 1227 595 1241 593 1260 587 1279 577 1277 563 1277 519 1282 485Z" fill="#e030f8" stroke="#e030f8" stroke-width="2.0"/>
<path d="M1286 486 1280 521 1280 561 1282 576 1305 589 1329 590 1344 597 1370 584 1381 565 1402 514 1374 506 1357 496 1345 483Z" fill="#20ff80" stroke="#20ff80" stroke-width="2.0"/>
<path d="M1349 481 1359 493 1376 503 1403 511 1406 509 1392 486 1384 478 1371 471 1364 469Z" fill="#50ff20" stroke="#50ff20" stroke-width="2.0"/>
<path d="M1556 494 1539 476 1523 449 1479 475 1431 508 1487 540 1525 558Z" fill="#7060ff" stroke="#7060ff" stroke-width="2.0"/>
<path d="M1405 514 1381 573 1384 574 1388 580 1388 591 1410 607 1437 633 1445 628 1470 618 1518 609 1521 597 1527 586 1524 561 1470 535 1427 509 1409 511Z" fill="#7030ff" stroke="#7030ff" stroke-width="2.0"/>
<path d="M1632 508 1623 508 1610 516 1600 517 1596 510 1591 492 1559 495 1528 559 1530 585 1544 593 1550 600 1553 608 1554 622 1567 623 1577 603 1597 582 1600 582 1612 592 1622 591 1634 586 1643 580 1657 567 1657 532 1645 524 1635 514Z" fill="#a040ff" stroke="#a040ff" stroke-width="2.0"/>
<path d="M1379 576 1375 585 1379 589 1385 590 1385 582 1383 578Z" fill="#ff1020" stroke="#ff1020" stroke-width="2.0"/>
<path d="M1282 580 1262 590 1243 596 1229 598 1207 597 1207 698 1226 700 1240 706 1247 711 1261 727 1277 723 1290 723 1291 710 1296 700 1308 690 1334 679 1334 670 1319 656 1311 642 1307 626 1304 592Z" fill="#0808f0" stroke="#0808f0" stroke-width="2.0"/>
<path d="M1308 592 1309 616 1314 640 1322 654 1334 665 1339 636 1342 600 1327 593Z" fill="#ffb0e0" stroke="#ffb0e0" stroke-width="2.0"/>
<path d="M1345 600 1342 638 1337 665 1338 679 1344 685 1388 701 1418 694 1424 684 1431 677 1431 671 1438 661 1435 636 1416 617 1387 594 1377 592 1372 587Z" fill="#f8ffb0" stroke="#f8ffb0" stroke-width="2.0"/>
<path d="M1532 629 1519 613 1493 616 1472 621 1438 636 1441 659 1465 664 1481 672 1505 674 1522 652 1529 639Z" fill="#b040ff" stroke="#b040ff" stroke-width="2.0"/>
<path d="M1529 589 1521 609 1522 612 1535 627 1551 622 1550 610 1547 602 1542 596Z" fill="#6090f0" stroke="#6090f0" stroke-width="2.0"/>
<path d="M1510 704 1535 732 1545 747 1550 759 1574 761 1597 756 1605 762 1612 763 1625 753 1626 733 1630 721 1684 706 1699 677 1665 658 1647 652 1628 649 1602 649 1600 651 1596 651 1575 635 1567 626 1552 625 1543 629 1535 630 1534 636 1528 649 1509 675 1512 683 1512 698Z" fill="#40ff30" stroke="#40ff30" stroke-width="2.0"/>
<path d="M1570 624 1577 632 1598 648 1600 646 1630 646 1649 649 1667 655 1701 674 1720 668 1744 664 1754 651 1752 642 1752 629 1728 604 1708 573 1678 574 1660 569 1651 578 1636 589 1619 595 1610 595 1598 586 1580 605Z" fill="#ff38a0" stroke="#ff38a0" stroke-width="2.0"/>
<path d="M1434 677 1460 677 1475 672 1463 667 1441 663 1436 669Z" fill="#ff6070" stroke="#ff6070" stroke-width="2.0"/>
<path d="M1509 685 1506 677 1478 675 1462 680 1433 680 1422 694 1446 710 1455 711 1506 703 1509 696Z" fill="#d0ff40" stroke="#d0ff40" stroke-width="2.0"/>
<path d="M1207 701 1207 749 1249 751 1258 731 1252 721 1241 711 1230 705 1214 701Z" fill="#ff2050" stroke="#ff2050" stroke-width="2.0"/>
<path d="M1340 686 1335 682 1318 689 1304 697 1295 709 1293 724 1301 727 1324 713 1334 701Z" fill="#ff7848" stroke="#ff7848" stroke-width="2.0"/>
<path d="M1388 704 1343 688 1341 695 1332 710 1322 719 1301 731 1307 759 1310 788 1296 794 1290 801 1291 805 1313 811 1323 810 1340 803 1347 796 1366 793 1365 787 1371 780 1404 768 1392 746 1389 737 1387 723Z" fill="#a0a8ff" stroke="#a0a8ff" stroke-width="2.0"/>
<path d="M1420 697 1391 704 1390 721 1392 735 1395 744 1408 768 1412 768 1432 757 1446 715Z" fill="#a070ff" stroke="#a070ff" stroke-width="2.0"/>
<path d="M1450 714 1436 757 1450 760 1470 768 1482 779 1488 791 1500 794 1503 785 1516 772 1525 767 1546 760 1542 749 1532 734 1507 706Z" fill="#90ff40" stroke="#90ff40" stroke-width="2.0"/>
<path d="M1261 731 1252 754 1259 753 1262 756 1266 766 1267 777 1294 791 1306 787 1307 782 1298 731 1290 726 1273 727Z" fill="#6090f0" stroke="#6090f0" stroke-width="2.0"/>
<path d="M1207 752 1207 817 1217 817 1220 819 1229 832 1241 824 1247 817 1243 807 1234 793 1251 773 1249 754Z" fill="#ff9078" stroke="#ff9078" stroke-width="2.0"/>
<path d="M1255 756 1253 758 1254 775 1238 794 1246 805 1250 815 1261 815 1273 812 1286 806 1287 799 1291 793 1264 779 1262 764 1259 758Z" fill="#60ff30" stroke="#60ff30" stroke-width="2.0"/>
<path d="M1465 858 1454 832 1446 800 1429 795 1428 788 1425 782 1412 771 1406 771 1381 779 1373 783 1369 787 1369 796 1349 799 1342 806 1318 815 1323 851 1346 852 1382 858 1416 867 1435 874Z" fill="#2030f0" stroke="#2030f0" stroke-width="2.0"/>
<path d="M1416 770 1428 780 1431 786 1431 792 1447 796 1449 798 1457 830 1468 857 1477 857 1499 853 1498 807 1500 798 1486 794 1479 781 1471 773 1460 767 1433 760Z" fill="#ffef30" stroke="#ffef30" stroke-width="2.0"/>
<path d="M1592 761 1576 764 1561 764 1549 762 1523 772 1509 783 1503 794 1501 809 1501 845 1503 853 1523 863 1527 863 1547 858 1566 857 1574 848 1586 843 1599 842 1603 848 1605 824 1610 797 1603 789 1600 789 1597 792 1594 791Z" fill="#20e8ff" stroke="#20e8ff" stroke-width="2.0"/>
<path d="M1729 406 1719 400 1650 410 1647 433 1649 454 1652 466 1674 472 1693 484 1716 480 1739 437 1733 429 1730 421Z" fill="#fff030" stroke="#fff030" stroke-width="2.0"/>
<path d="M1862 412 1860 441 1883 452 1902 454 1899 436 1891 412Z" fill="#3080f0" stroke="#3080f0" stroke-width="2.0"/>
<path d="M1859 445 1837 479 1840 494 1859 503 1887 522 1892 519 1897 519 1914 497 1915 485 1922 471 1903 457 1881 455Z" fill="#e8f0ff" stroke="#e8f0ff" stroke-width="2.0"/>
<path d="M1742 438 1720 481 1732 494 1743 511 1751 512 1762 517 1793 487 1797 473 1784 443Z" fill="#ff2880" stroke="#ff2880" stroke-width="2.0"/>
<path d="M1651 469 1640 488 1637 502 1679 502 1690 486 1672 475Z" fill="#30ff30" stroke="#30ff30" stroke-width="2.0"/>
<path d="M1596 487 1594 492 1602 514 1613 511 1620 506 1619 500 1612 489 1605 486Z" fill="#50f0ff" stroke="#50f0ff" stroke-width="2.0"/>
<path d="M1635 506 1638 512 1658 529 1675 524 1679 521 1680 518 1679 505Z" fill="#ff7830" stroke="#ff7830" stroke-width="2.0"/>
<path d="M1694 487 1682 504 1682 523 1722 542 1727 540 1732 526 1740 512 1717 483Z" fill="#c0a0ff" stroke="#c0a0ff" stroke-width="2.0"/>
<path d="M1743 514 1735 528 1731 540 1749 542 1759 539 1761 521 1752 516Z" fill="#c8ff30" stroke="#c8ff30" stroke-width="2.0"/>
<path d="M1794 491 1764 520 1763 540 1786 569 1800 582 1818 569 1819 508 1802 498Z" fill="#50ff20" stroke="#50ff20" stroke-width="2.0"/>
<path d="M1797 484 1797 488 1804 495 1821 505 1837 494 1834 480 1819 477 1801 476Z" fill="#5090f0" stroke="#5090f0" stroke-width="2.0"/>
<path d="M1838 497 1822 508 1821 566 1824 569 1843 571 1860 563 1885 548 1885 525 1857 506Z" fill="#ff2070" stroke="#ff2070" stroke-width="2.0"/>
<path d="M1943 471 1927 472 1919 484 1917 494 1924 495 1933 492 1939 486 1942 480Z" fill="#ff30e0" stroke="#ff30e0" stroke-width="2.0"/>
<path d="M1946 472 1946 479 1942 488 1933 496 1926 498 1917 498 1900 521 1901 540 1899 550 1918 568 1923 577 1924 593 1920 602 1923 606 1944 606 1954 610 1969 601 1979 599 1987 583 1994 584 2004 576 2004 561 2008 544 2010 510 1998 495 1992 494 1988 497 1984 497 1975 483 1960 479Z" fill="#30ff80" stroke="#30ff80" stroke-width="2.0"/>
<path d="M1896 522 1888 525 1888 547 1891 549 1895 549 1897 544 1898 530Z" fill="#4010f0" stroke="#4010f0" stroke-width="2.0"/>
<path d="M1660 532 1660 565 1674 570 1708 570 1721 545 1681 526Z" fill="#ff4890" stroke="#ff4890" stroke-width="2.0"/>
<path d="M1728 543 1724 545 1722 552 1712 570 1714 576 1728 598 1742 615 1754 626 1763 620 1782 619 1794 592 1796 584 1783 571 1760 542 1751 545 1738 545Z" fill="#ffb070" stroke="#ffb070" stroke-width="2.0"/>
<path d="M1785 620 1787 632 1809 642 1852 669 1856 670 1876 660 1916 646 1922 610 1916 603 1872 590 1852 580 1844 574 1821 571 1799 587Z" fill="#60ff90" stroke="#60ff90" stroke-width="2.0"/>
<path d="M1848 572 1863 582 1885 591 1916 600 1920 595 1921 582 1917 573 1896 552 1887 551 1862 566Z" fill="#60ff20" stroke="#60ff20" stroke-width="2.0"/>
<path d="M1925 611 1919 647 1933 663 1940 668 1948 671 1952 640 1953 613 1942 609Z" fill="#c080ff" stroke="#c080ff" stroke-width="2.0"/>
<path d="M2011 581 2006 579 1996 587 1989 587 1981 602 1971 604 1956 613 1955 642 1951 672 1956 683 1967 684 1991 661 1997 662 2006 660 2030 649 2038 631 2034 623 2033 611 2022 593Z" fill="#40ff30" stroke="#40ff30" stroke-width="2.0"/>
<path d="M1782 622 1765 623 1755 629 1755 640 1758 648 1769 644 1781 635 1783 632Z" fill="#4838f0" stroke="#4838f0" stroke-width="2.0"/>
<path d="M1744 667 1722 671 1703 677 1688 706 1722 737 1735 733 1757 722 1756 699 1752 685Z" fill="#40ff80" stroke="#40ff80" stroke-width="2.0"/>
<path d="M1785 635 1781 640 1771 647 1758 651 1747 666 1755 683 1759 697 1760 722 1824 747 1843 726 1857 715 1852 687 1853 674 1816 650Z" fill="#ffb048" stroke="#ffb048" stroke-width="2.0"/>
<path d="M1953 684 1948 674 1940 672 1931 666 1917 650 1878 663 1857 673 1855 677 1856 695 1860 714 1892 727 1895 727 1920 712 1944 705Z" fill="#ffa8f0" stroke="#ffa8f0" stroke-width="2.0"/>
<path d="M1993 665 1969 687 1956 686 1953 691 1948 707 1953 716 1964 729 1976 726 1982 726 1986 728 1999 717 2006 714 2014 714 2008 696Z" fill="#20f0f0" stroke="#20f0f0" stroke-width="2.0"/>
<path d="M1720 740 1686 709 1632 724 1629 735 1628 753 1667 762 1685 764 1708 764 1712 763Z" fill="#90ff20" stroke="#90ff20" stroke-width="2.0"/>
<path d="M1723 742 1715 763 1721 778 1721 792 1819 795 1824 791 1824 755 1823 750 1794 740 1759 725Z" fill="#20d0ff" stroke="#20d0ff" stroke-width="2.0"/>
<path d="M1890 730 1862 718 1857 719 1845 729 1826 750 1828 771 1827 791 1860 792 1859 785 1862 781 1869 776 1899 762 1885 751 1885 740Z" fill="#7838ff" stroke="#7838ff" stroke-width="2.0"/>
<path d="M1945 709 1936 710 1922 715 1897 730 1902 743 1903 762 1936 770 1955 769 1962 732 1950 718Z" fill="#4040f0" stroke="#4040f0" stroke-width="2.0"/>
<path d="M1893 731 1888 742 1888 749 1893 754 1899 757 1899 745Z" fill="#20ff30" stroke="#20ff30" stroke-width="2.0"/>
<path d="M1862 787 1864 792 1879 794 1879 804 1885 810 1907 820 1938 808 1956 799 1951 796 1950 793 1958 791 1959 781 1955 772 1934 773 1900 765 1871 779Z" fill="#ff0808" stroke="#ff0808" stroke-width="2.0"/>
<path d="M1595 760 1597 787 1605 786 1613 796 1633 794 1694 794 1712 796 1718 793 1718 780 1711 766 1673 766 1648 762 1627 756 1614 766 1606 766Z" fill="#ffa010" stroke="#ffa010" stroke-width="2.0"/>
<path d="M2015 717 2008 717 2001 720 1986 732 1978 729 1967 732 1965 734 1958 770 1962 779 1961 793 1969 800 1972 801 1977 795 1982 793 1987 769 1995 772 2001 772 2012 765 2017 759 2015 745Z" fill="#ff60b0" stroke="#ff60b0" stroke-width="2.0"/>
<path d="M2236 422 2224 480 2248 491 2264 505 2274 480 2288 433 2263 420Z" fill="#1818f0" stroke="#1818f0" stroke-width="2.0"/>
<path d="M2302 431 2291 433 2283 464 2266 508 2267 534 2269 535 2299 528 2326 516 2317 473Z" fill="#ff2010" stroke="#ff2010" stroke-width="2.0"/>
<path d="M2098 483 2049 434 2033 446 2023 451 2006 455 1990 455 1979 479 1979 482 1986 494 1990 491 2000 492 2013 508 2045 500 2083 499Z" fill="#f8ff40" stroke="#f8ff40" stroke-width="2.0"/>
<path d="M2196 457 2174 454 2112 485 2118 500 2135 531 2199 531 2215 485 2205 473Z" fill="#c020f0" stroke="#c020f0" stroke-width="2.0"/>
<path d="M2217 490 2202 531 2211 548 2220 549 2238 546 2264 534 2235 512 2226 502 2219 490Z" fill="#50ff60" stroke="#50ff60" stroke-width="2.0"/>
<path d="M2222 483 2220 486 2233 505 2264 529 2263 509 2246 494Z" fill="#d0e0ff" stroke="#d0e0ff" stroke-width="2.0"/>
<path d="M2014 511 2011 532 2011 547 2015 552 2017 559 2017 567 2014 579 2025 591 2036 609 2051 608 2063 613 2068 618 2072 617 2081 611 2083 600 2084 521 2082 502 2047 503Z" fill="#ff7030" stroke="#ff7030" stroke-width="2.0"/>
<path d="M2101 485 2085 502 2087 519 2087 589 2085 611 2098 614 2112 614 2123 611 2124 569 2132 533 2115 502 2109 485Z" fill="#30f0ff" stroke="#30f0ff" stroke-width="2.0"/>
<path d="M2135 534 2127 571 2126 611 2142 624 2174 620 2195 615 2201 601 2208 591 2205 575 2205 562 2208 550 2199 534Z" fill="#3020f0" stroke="#3020f0" stroke-width="2.0"/>
<path d="M2010 551 2007 563 2007 576 2011 577 2014 565 2013 557Z" fill="#d8ff30" stroke="#d8ff30" stroke-width="2.0"/>
<path d="M2269 539 2265 537 2253 544 2236 550 2222 552 2211 551 2208 564 2208 573 2212 589 2244 588 2282 584 2281 564 2278 555Z" fill="#ff40e0" stroke="#ff40e0" stroke-width="2.0"/>
<path d="M2272 538 2277 545 2284 562 2285 584 2309 603 2318 604 2327 608 2352 610 2365 601 2378 601 2378 522 2352 524 2326 520 2301 531Z" fill="#ff5060" stroke="#ff5060" stroke-width="2.0"/>
<path d="M2305 604 2283 587 2246 591 2211 592 2198 616 2232 640 2251 644 2265 649 2295 626 2297 615Z" fill="#ffd8a8" stroke="#ffd8a8" stroke-width="2.0"/>
<path d="M2324 610 2308 606 2301 615 2298 625 2309 625 2314 623 2321 617Z" fill="#2828f0" stroke="#2828f0" stroke-width="2.0"/>
<path d="M2036 612 2037 621 2041 628 2054 625 2064 620 2061 616 2053 612Z" fill="#8030ff" stroke="#8030ff" stroke-width="2.0"/>
<path d="M2074 620 2096 658 2116 681 2123 681 2134 654 2140 627 2125 615 2114 617 2096 617 2082 614Z" fill="#ff90b0" stroke="#ff90b0" stroke-width="2.0"/>
<path d="M2041 631 2034 647 2034 651 2044 667 2056 692 2112 682 2088 653 2071 621 2056 628Z" fill="#ff2818" stroke="#ff2818" stroke-width="2.0"/>
<path d="M2229 642 2196 619 2158 626 2143 627 2139 649 2127 683 2145 701 2163 703 2180 709 2211 674 2224 654Z" fill="#ff2080" stroke="#ff2080" stroke-width="2.0"/>
<path d="M2262 651 2237 644 2232 644 2227 656 2214 676 2182 712 2186 727 2187 740 2207 759 2214 771 2263 765 2278 748 2271 688 2265 654Z" fill="#f8ff40" stroke="#f8ff40" stroke-width="2.0"/>
<path d="M2352 613 2328 611 2324 619 2319 624 2311 628 2298 628 2268 651 2277 707 2281 748 2310 753 2332 754 2338 737 2347 721 2353 715 2362 710 2369 708 2378 708 2378 671 2369 672 2365 670 2358 660 2355 647Z" fill="#e830ff" stroke="#e830ff" stroke-width="2.0"/>
<path d="M2378 604 2367 604 2355 612 2360 655 2364 664 2371 669 2378 668Z" fill="#ffb020" stroke="#ffb020" stroke-width="2.0"/>
<path d="M2031 652 2014 661 1997 665 2011 694 2017 713 2028 710 2041 709 2052 694 2050 687Z" fill="#ffa0c0" stroke="#ffa0c0" stroke-width="2.0"/>
<path d="M2142 703 2124 685 2115 684 2081 692 2056 695 2045 712 2060 747 2079 748 2104 754 2121 746 2120 720 2125 714 2129 712 2135 712 2139 714Z" fill="#ff30b0" stroke="#ff30b0" stroke-width="2.0"/>
<path d="M2136 716 2131 715 2127 717 2123 722 2124 746 2132 746 2138 720Z" fill="#ff80d0" stroke="#ff80d0" stroke-width="2.0"/>
<path d="M2178 712 2161 706 2145 704 2135 746 2145 757 2163 752 2184 740 2182 724Z" fill="#50ffc0" stroke="#50ffc0" stroke-width="2.0"/>
<path d="M2378 711 2367 712 2355 718 2346 729 2339 744 2336 756 2348 773 2348 791 2365 787 2378 787Z" fill="#ff1818" stroke="#ff1818" stroke-width="2.0"/>
<path d="M2041 712 2030 713 2018 717 2018 743 2020 758 2026 762 2039 760 2053 755 2057 749Z" fill="#40ff90" stroke="#40ff90" stroke-width="2.0"/>
<path d="M2077 751 2060 750 2057 755 2060 775 2070 800 2069 810 2062 830 2055 843 2045 856 2021 878 2024 925 2052 944 2077 935 2106 934 2118 916 2109 877 2103 828 2093 815 2089 806 2089 802 2101 793 2102 757Z" fill="#30ff20" stroke="#30ff20" stroke-width="2.0"/>
<path d="M2133 749 2123 749 2105 757 2104 795 2092 804 2096 813 2105 825 2122 823 2132 820 2137 817 2144 808 2146 801 2144 763 2140 756Z" fill="#a030f0" stroke="#a030f0" stroke-width="2.0"/>
<path d="M2211 772 2204 761 2186 744 2165 755 2146 760 2149 790 2153 791 2184 777 2195 775 2209 775Z" fill="#ff7a30" stroke="#ff7a30" stroke-width="2.0"/>
<path d="M2263 768 2255 770 2214 774 2212 777 2214 786 2223 798 2222 802 2224 817 2231 845 2239 862 2251 881 2256 880 2273 858 2300 829 2291 819 2286 810 2285 797 2273 791 2272 783Z" fill="#60d8ff" stroke="#60d8ff" stroke-width="2.0"/>
<path d="M2280 751 2267 765 2267 767 2275 781 2276 789 2288 795 2289 808 2294 817 2304 827 2336 829 2342 821 2347 810 2347 802 2344 795 2346 778 2339 765 2332 757 2308 756Z" fill="#60ffc0" stroke="#60ffc0" stroke-width="2.0"/>
<path d="M2023 764 2019 762 2014 768 2003 775 1993 775 1989 773 1985 793 1991 805 2008 804 2027 799Z" fill="#ff1090" stroke="#ff1090" stroke-width="2.0"/>
<path d="M2054 758 2041 763 2027 765 2030 799 2043 801 2066 800 2057 777Z" fill="#ff6878" stroke="#ff6878" stroke-width="2.0"/>
<path d="M2209 778 2186 780 2175 784 2157 794 2149 793 2149 803 2147 810 2139 820 2124 826 2106 828 2112 875 2121 915 2163 915 2189 918 2213 923 2227 901 2248 882 2236 864 2228 847 2221 819 2219 798 2211 788Z" fill="#2020f0" stroke="#2020f0" stroke-width="2.0"/>
<path d="M1215 820 1207 820 1207 857 1214 855 1222 849 1227 835 1221 825Z" fill="#3080f0" stroke="#3080f0" stroke-width="2.0"/>
<path d="M1230 836 1226 849 1234 851 1248 858 1292 886 1297 886 1301 883 1320 852 1316 832 1315 815 1291 808 1268 817 1250 818 1243 827Z" fill="#60f0ff" stroke="#60f0ff" stroke-width="2.0"/>
<path d="M1569 858 1576 864 1594 871 1600 878 1617 874 1648 874 1643 866 1633 858 1609 851 1601 852 1597 845 1581 848Z" fill="#6090f0" stroke="#6090f0" stroke-width="2.0"/>
<path d="M1355 1046 1355 1059 1361 1056Z" fill="#60ff30" stroke="#60ff30" stroke-width="2.0"/>
<path d="M1207 860 1207 957 1213 957 1224 963 1248 967 1293 985 1307 988 1322 988 1323 986 1320 979 1289 940 1278 918 1279 905 1289 888 1253 865 1232 854 1224 852 1216 858Z" fill="#60ff30" stroke="#60ff30" stroke-width="2.0"/>
<path d="M1293 889 1282 907 1281 916 1292 938 1320 974 1320 948 1316 917 1309 901 1301 890Z" fill="#ffc890" stroke="#ffc890" stroke-width="2.0"/>
<path d="M1323 854 1303 887 1312 899 1320 919 1323 946 1323 978 1327 987 1355 1022 1355 1040 1365 1055 1391 1057 1421 1047 1427 925 1430 896 1434 877 1380 861 1344 855Z" fill="#80ffe0" stroke="#80ffe0" stroke-width="2.0"/>
<path d="M1502 856 1479 860 1468 860 1437 877 1430 927 1424 1047 1443 1045 1449 1042 1480 996 1507 946 1520 907 1523 886 1523 868 1522 866Z" fill="#ff8a38" stroke="#ff8a38" stroke-width="2.0"/>
<path d="M1647 878 1619 877 1598 881 1592 874 1574 867 1566 860 1549 861 1526 866 1526 888 1524 904 1520 921 1510 948 1483 998 1451 1045 1491 1056 1526 1061 1543 1041 1565 994 1573 981 1581 972 1592 967 1607 968 1611 970 1619 979 1630 968 1634 956 1638 952 1647 949 1653 941 1655 898 1648 886Z" fill="#ffa818" stroke="#ffa818" stroke-width="2.0"/>
<path d="M1207 960 1207 994 1210 994 1220 986 1222 982 1221 966 1211 960Z" fill="#ff4870" stroke="#ff4870" stroke-width="2.0"/>
<path d="M1224 966 1225 984 1217 994 1212 997 1207 997 1207 1000 1224 999 1234 1003 1244 1010 1270 1037 1301 1078 1326 1062 1352 1062 1352 1024 1325 990 1299 990 1279 984 1246 970Z" fill="#ff30c0" stroke="#ff30c0" stroke-width="2.0"/>
<path d="M1207 1003 1207 1079 1253 1079 1278 1084 1293 1090 1298 1081 1297 1078 1261 1032 1242 1013 1232 1006 1222 1002Z" fill="#b030ff" stroke="#b030ff" stroke-width="2.0"/>
<path d="M1207 1082 1207 1184 1240 1184 1238 1167 1243 1155 1256 1138 1283 1108 1292 1093 1276 1087 1251 1082Z" fill="#ffff80" stroke="#ffff80" stroke-width="2.0"/>
<path d="M1605 971 1590 971 1579 979 1568 996 1547 1040 1547 1042 1560 1055 1573 1062 1593 1063 1595 1061 1596 1052 1600 1051 1605 1053 1611 1047 1618 1034 1619 1014 1617 982 1609 973Z" fill="#20c0ff" stroke="#20c0ff" stroke-width="2.0"/>
<path d="M1544 1045 1529 1063 1566 1110 1579 1123 1586 1127 1593 1128 1601 1096 1595 1067 1571 1065 1558 1058Z" fill="#2030f0" stroke="#2030f0" stroke-width="2.0"/>
<path d="M1393 1060 1394 1062 1429 1063 1427 1086 1428 1117 1470 1137 1492 1152 1499 1160 1502 1167 1502 1174 1498 1184 1646 1184 1642 1166 1642 1150 1648 1125 1638 1110 1634 1098 1604 1096 1596 1130 1587 1131 1577 1126 1563 1112 1525 1064 1489 1059 1448 1047 1422 1050Z" fill="#c0ff40" stroke="#c0ff40" stroke-width="2.0"/>
<path d="M1284 1112 1246 1157 1241 1169 1243 1184 1294 1184 1294 1145 1290 1127Z" fill="#5030f0" stroke="#5030f0" stroke-width="2.0"/>
<path d="M1293 1099 1286 1109 1293 1125 1297 1143 1297 1184 1326 1184 1327 1178 1332 1173 1337 1163 1337 1153 1335 1147 1321 1126Z" fill="#40ffa0" stroke="#40ffa0" stroke-width="2.0"/>
<path d="M1355 1062 1390 1061 1364 1058Z" fill="#40ffa0" stroke="#40ffa0" stroke-width="2.0"/>
<path d="M1370 1158 1373 1167 1389 1180 1389 1184 1495 1184 1495 1180 1499 1172 1496 1162 1481 1148 1457 1134 1428 1120 1391 1139 1378 1148Z" fill="#ff5850" stroke="#ff5850" stroke-width="2.0"/>
<path d="M1302 1081 1295 1093 1295 1096 1324 1124 1335 1139 1340 1151 1340 1165 1337 1172 1330 1180 1329 1184 1386 1184 1386 1182 1378 1177 1370 1169 1367 1163 1367 1156 1369 1152 1380 1142 1401 1129 1425 1117 1424 1084 1426 1065 1328 1065Z" fill="#80ffe0" stroke="#80ffe0" stroke-width="2.0"/>
<path d="M1613 800 1609 819 1606 848 1616 849 1635 855 1646 864 1651 872 1667 868 1690 867 1712 852 1711 799 1692 797 1635 797 1619 798Z" fill="#ffa818" stroke="#ffa818" stroke-width="2.0"/>
<path d="M1714 799 1715 852 1801 865 1824 851 1820 829 1818 798 1721 795Z" fill="#7838ff" stroke="#7838ff" stroke-width="2.0"/>
<path d="M1821 798 1823 827 1827 851 1845 854 1856 852 1880 852 1894 854 1906 844 1905 823 1883 813 1876 806 1876 797 1865 795 1826 794Z" fill="#1828f0" stroke="#1828f0" stroke-width="2.0"/>
<path d="M1971 805 1957 795 1959 796 1960 800 1955 804 1908 823 1909 844 1935 846 1972 846 1973 816Z" fill="#60ff20" stroke="#60ff20" stroke-width="2.0"/>
<path d="M1983 796 1979 798 1974 804 1976 814 1975 848 1986 858 1990 856 1999 856 2005 859 2019 875 2031 865 2050 844 2059 828 2067 803 2041 804 2027 802 2010 807 1989 808Z" fill="#ff6020" stroke="#ff6020" stroke-width="2.0"/>
<path d="M1689 871 1669 871 1651 876 1651 884 1656 894 1659 895 1665 893 1682 893 1687 895 1690 887Z" fill="#ff8038" stroke="#ff8038" stroke-width="2.0"/>
<path d="M1659 898 1657 914 1657 938 1669 950 1684 955 1693 934 1692 909 1687 899 1684 897 1667 896Z" fill="#60ff30" stroke="#60ff30" stroke-width="2.0"/>
<path d="M1692 870 1693 889 1690 898 1696 908 1794 897 1800 868 1714 855Z" fill="#90ff20" stroke="#90ff20" stroke-width="2.0"/>
<path d="M1806 938 1801 917 1794 900 1707 909 1713 911 1712 916 1707 916 1705 914 1705 910 1695 911 1696 933 1709 935 1727 943 1750 962 1761 963 1789 949Z" fill="#7010ff" stroke="#7010ff" stroke-width="2.0"/>
<path d="M1803 868 1801 885 1797 899 1804 915 1810 937 1830 940 1868 940 1895 937 1893 895 1885 897 1874 897 1861 892 1855 883 1844 857 1825 854Z" fill="#ff8838" stroke="#ff8838" stroke-width="2.0"/>
<path d="M1848 856 1858 881 1863 889 1876 894 1893 892 1894 857 1878 855Z" fill="#ffc030" stroke="#ffc030" stroke-width="2.0"/>
<path d="M1897 856 1896 901 1898 914 1898 937 1906 941 1974 941 1976 938 1983 935 1988 946 1995 946 2006 941 2021 925 2018 880 2013 872 2003 862 1997 859 1992 859 1984 862 1972 849 1933 849 1908 847Z" fill="#10ff10" stroke="#10ff10" stroke-width="2.0"/>
<path d="M1907 947 1906 944 1899 942 1888 949 1887 952 1891 954 1905 954Z" fill="#30f0ff" stroke="#30f0ff" stroke-width="2.0"/>
<path d="M1646 952 1637 958 1633 968 1643 963Z" fill="#a030f0" stroke="#a030f0" stroke-width="2.0"/>
<path d="M1725 946 1713 940 1696 936 1687 957 1682 958 1667 953 1656 942 1649 952 1649 958 1646 965 1639 970 1632 971 1620 983 1622 1031 1628 1037 1638 1052 1645 1070 1647 1081 1683 1076 1689 1074 1692 1071 1691 1021 1695 986 1698 983 1711 981 1725 976 1745 963Z" fill="#ffc0d0" stroke="#ffc0d0" stroke-width="2.0"/>
<path d="M1758 966 1748 965 1727 979 1713 984 1700 986 1698 988 1694 1023 1695 1070 1704 1072 1729 1073 1750 1071 1769 1067 1767 1015Z" fill="#30ff20" stroke="#30ff20" stroke-width="2.0"/>
<path d="M1762 966 1771 1023 1772 1067 1792 1076 1808 1086 1897 1089 1925 1039 1919 1026 1910 996 1905 957 1889 957 1883 953 1884 948 1896 940 1870 943 1828 943 1809 940 1791 952Z" fill="#ffffb0" stroke="#ffffb0" stroke-width="2.0"/>
<path d="M1909 944 1910 953 1908 956 1912 989 1916 1006 1928 1039 1973 1032 1975 1013 1975 957 1973 944Z" fill="#80ff50" stroke="#80ff50" stroke-width="2.0"/>
<path d="M1981 939 1976 944 1978 955 1977 1033 1972 1036 1964 1036 1929 1042 1914 1064 1900 1091 1910 1107 1934 1121 1953 1137 1964 1132 1984 1128 1989 1135 2006 1139 2021 1150 2036 1151 2053 1157 2062 1147 2073 1139 2101 1128 2103 1117 2107 1108 2123 1088 2103 1071 2080 1045 2068 1045 2062 1039 2054 1023 2024 1032 1997 1035 1991 1034 1986 996 1985 946Z" fill="#ff4898" stroke="#ff4898" stroke-width="2.0"/>
<path d="M1621 1035 1616 1046 1607 1056 1599 1055 1597 1064 1604 1093 1622 1093 1634 1095 1644 1082 1635 1054Z" fill="#ffa850" stroke="#ffa850" stroke-width="2.0"/>
<path d="M1688 1078 1668 1082 1647 1084 1643 1088 1637 1098 1641 1108 1651 1123 1670 1120 1691 1113Z" fill="#ff1048" stroke="#ff1048" stroke-width="2.0"/>
<path d="M1803 1087 1771 1070 1752 1074 1731 1076 1694 1074 1691 1077 1695 1113 1747 1125 1756 1123 1784 1106Z" fill="#fff090" stroke="#fff090" stroke-width="2.0"/>
<path d="M1753 1128 1762 1146 1770 1148 1785 1157 1807 1180 1807 1184 1842 1184 1842 1180 1847 1173 1855 1165 1861 1162 1878 1162 1888 1164 1906 1107 1896 1092 1807 1089 1786 1109Z" fill="#ff4818" stroke="#ff4818" stroke-width="2.0"/>
<path d="M1651 1126 1645 1152 1645 1164 1649 1184 1736 1184 1736 1180 1743 1168 1758 1148 1757 1142 1749 1128 1697 1116 1691 1116 1672 1123Z" fill="#4838f0" stroke="#4838f0" stroke-width="2.0"/>
<path d="M1909 1110 1891 1164 1892 1184 1944 1184 1945 1161 1950 1139 1932 1124Z" fill="#4848f0" stroke="#4848f0" stroke-width="2.0"/>
<path d="M2018 1152 2004 1142 1987 1138 1983 1132 1960 1137 1954 1140 1948 1163 1947 1184 2005 1184 2005 1180 2013 1167Z" fill="#6080f0" stroke="#6080f0" stroke-width="2.0"/>
<path d="M1845 1182 1845 1184 1889 1184 1888 1169 1876 1165 1863 1165 1857 1168Z" fill="#ff40e0" stroke="#ff40e0" stroke-width="2.0"/>
<path d="M1739 1182 1739 1184 1804 1184 1804 1182 1783 1160 1776 1155 1762 1149 1754 1158Z" fill="#6090f0" stroke="#6090f0" stroke-width="2.0"/>
<path d="M2378 790 2367 790 2348 794 2350 800 2350 812 2340 832 2342 835 2342 842 2350 860 2361 863 2378 862Z" fill="#6040f0" stroke="#6040f0" stroke-width="2.0"/>
<path d="M2324 832 2323 835 2325 839 2331 841 2339 841 2339 837 2336 832Z" fill="#ffff30" stroke="#ffff30" stroke-width="2.0"/>
<path d="M2340 845 2323 842 2320 837 2321 832 2304 830 2276 860 2259 882 2282 899 2309 893 2331 893 2335 880 2347 861Z" fill="#ff2060" stroke="#ff2060" stroke-width="2.0"/>
<path d="M2378 865 2359 866 2350 863 2342 874 2334 894 2340 903 2357 894 2374 878 2378 878Z" fill="#40ffb0" stroke="#40ffb0" stroke-width="2.0"/>
<path d="M2281 902 2255 884 2251 884 2243 890 2226 908 2216 924 2228 949 2253 948 2260 942 2283 937 2289 920 2284 912Z" fill="#1818f0" stroke="#1818f0" stroke-width="2.0"/>
<path d="M2285 902 2287 910 2293 920 2315 917 2338 911 2338 906 2331 896 2311 896Z" fill="#ffa060" stroke="#ffa060" stroke-width="2.0"/>
<path d="M2286 938 2296 944 2323 952 2343 955 2378 957 2378 935 2372 935 2362 930 2339 914 2317 920 2293 923Z" fill="#80c8ff" stroke="#80c8ff" stroke-width="2.0"/>
<path d="M2284 941 2283 940 2268 943 2258 948 2276 947 2282 944Z" fill="#ff2030" stroke="#ff2030" stroke-width="2.0"/>
<path d="M2378 881 2376 881 2359 897 2341 908 2341 911 2374 932 2378 932Z" fill="#ff2040" stroke="#ff2040" stroke-width="2.0"/>
<path d="M2121 918 2109 936 2114 990 2128 994 2163 1000 2199 1002 2214 969 2225 951 2213 927 2199 923 2172 919Z" fill="#d0fff8" stroke="#d0fff8" stroke-width="2.0"/>
<path d="M2378 960 2352 959 2321 955 2288 944 2274 951 2228 952 2211 983 2203 1004 2255 1010 2271 1016 2278 1024 2279 1035 2273 1046 2259 1058 2273 1070 2312 1037 2332 1023 2342 1018 2362 1013 2369 1005 2378 1006Z" fill="#40d0ff" stroke="#40d0ff" stroke-width="2.0"/>
<path d="M2204 1007 2207 1019 2221 1034 2256 1056 2270 1044 2275 1036 2275 1026 2266 1017 2247 1012Z" fill="#3080f0" stroke="#3080f0" stroke-width="2.0"/>
<path d="M2024 929 2022 929 2005 946 1997 949 1988 949 1989 994 1994 1032 2022 1029 2051 1021 2068 1005 2058 977 2052 948Z" fill="#ff3898" stroke="#ff3898" stroke-width="2.0"/>
<path d="M2106 937 2079 938 2055 948 2061 975 2071 1004 2081 1005 2087 1003 2111 990Z" fill="#b030f0" stroke="#b030f0" stroke-width="2.0"/>
<path d="M2080 1009 2083 1044 2105 1068 2127 1087 2139 1088 2158 1093 2183 1103 2208 1116 2236 1111 2268 1099 2271 1074 2255 1059 2219 1037 2204 1021 2201 1013 2201 1007 2199 1005 2161 1003 2126 997 2113 993 2094 1004Z" fill="#b0ff20" stroke="#b0ff20" stroke-width="2.0"/>
<path d="M2071 1007 2061 1016 2057 1022 2065 1037 2070 1042 2075 1043 2079 1041 2077 1009Z" fill="#a030f0" stroke="#a030f0" stroke-width="2.0"/>
<path d="M2138 1152 2119 1144 2102 1131 2075 1142 2064 1150 2055 1160 2066 1179 2066 1184 2120 1184 2119 1172 2121 1167 2128 1159Z" fill="#f0ff30" stroke="#f0ff30" stroke-width="2.0"/>
<path d="M2008 1182 2008 1184 2063 1184 2063 1181 2052 1161 2044 1157 2028 1153 2021 1153 2016 1169Z" fill="#3090f0" stroke="#3090f0" stroke-width="2.0"/>
<path d="M2195 1156 2190 1147 2183 1139 2143 1153 2130 1162 2124 1169 2122 1174 2123 1184 2196 1184 2198 1168Z" fill="#4020f0" stroke="#4020f0" stroke-width="2.0"/>
<path d="M2237 1114 2208 1119 2186 1136 2195 1148 2200 1160 2201 1175 2199 1184 2259 1184 2260 1161 2257 1148 2247 1127Z" fill="#6040f0" stroke="#6040f0" stroke-width="2.0"/>
<path d="M2241 1113 2250 1125 2260 1146 2263 1159 2262 1184 2319 1184 2321 1130 2310 1116 2271 1103 2267 1103Z" fill="#f0ff30" stroke="#f0ff30" stroke-width="2.0"/>
<path d="M2324 1134 2322 1184 2378 1184 2378 1152 2367 1156 2357 1156 2343 1150Z" fill="#4020f0" stroke="#4020f0" stroke-width="2.0"/>
<path d="M2359 1064 2348 1070 2339 1079 2325 1097 2314 1115 2325 1130 2345 1147 2359 1153 2365 1153 2374 1149 2378 1149 2378 1069 2374 1069 2365 1064Z" fill="#ff5888" stroke="#ff5888" stroke-width="2.0"/>
<path d="M2378 1009 2371 1008 2365 1014 2370 1031 2374 1026 2378 1026Z" fill="#ff7020" stroke="#ff7020" stroke-width="2.0"/>
<path d="M2378 1029 2376 1029 2372 1035 2369 1035 2366 1032 2362 1016 2344 1021 2334 1026 2314 1040 2274 1074 2271 1100 2311 1112 2331 1083 2346 1067 2357 1061 2367 1061 2378 1066Z" fill="#a0a0ff" stroke="#a0a0ff" stroke-width="2.0"/>
<path d="M2104 1128 2121 1141 2143 1150 2182 1135 2204 1118 2181 1106 2156 1096 2142 1092 2126 1090 2110 1110Z" fill="#6030f0" stroke="#6030f0" stroke-width="2.0"/>
</g>
<rect x="1210" y="17" width="1.2" height="1165" fill="#000" fill-opacity="0.3"/>
</g>
<rect x="48.6" y="41.1" width="136.3" height="114.7" fill="#fff"/>
<text x="67.3" y="121.3" font-family="'Liberation Serif','Times New Roman',serif" font-size="88">(a)</text>
<rect x="1234.6" y="41.1" width="135.9" height="114.7" fill="#fff"/>
<text x="1251.4" y="121.3" font-family="'Liberation Serif','Times New Roman',serif" font-size="88">(b)</text>
<rect x="63.3" y="946.2" width="323.7" height="203.6" fill="#fff"/>
<polygon points="95.4,995.4 101.8,995.4 101.8,995.7 95.4,995.4" fill="#ff0300" stroke="#ff0300" stroke-width="0.8"/>
<polygon points="95.4,995.4 101.8,995.7 101.8,995.9 95.4,995.4" fill="#ff0301" stroke="#ff0301" stroke-width="0.8"/>
<polygon points="95.4,995.4 101.8,995.9 101.8,996.2 95.4,995.4" fill="#ff0301" stroke="#ff0301" stroke-width="0.8"/>
<polygon points="95.4,995.4 101.8,996.2 101.7,996.4 95.4,995.4" fill="#ff0301" stroke="#ff0301" stroke-width="0.8"/>
<polygon points="95.4,995.4 101.7,996.4 101.7,996.7 95.4,995.4" fill="#ff0202" stroke="#ff0202" stroke-width="0.8"/>
<polygon points="95.4,995.4 101.7,996.7 101.6,996.9 95.4,995.4" fill="#ff0202" stroke="#ff0202" stroke-width="0.8"/>
<polygon points="95.4,995.4 101.6,996.9 101.5,997.2 95.4,995.4" fill="#ff0202" stroke="#ff0202" stroke-width="0.8"/>
<polygon points="95.4,995.4 101.5,997.2 101.4,997.4 95.4,995.4" fill="#ff0202" stroke="#ff0202" stroke-width="0.8"/>
<polygon points="95.4,995.4 101.4,997.4 101.3,997.7 95.4,995.4" fill="#ff0103" stroke="#ff0103" stroke-width="0.8"/>
<polygon points="95.4,995.4 101.3,997.7 101.2,997.9 95.4,995.4" fill="#ff0103" stroke="#ff0103" stroke-width="0.8"/>
<polygon points="95.4,995.4 101.2,997.9 101.1,998.1 95.4,995.4" fill="#ff0103" stroke="#ff0103" stroke-width="0.8"/>
<polygon points="95.4,995.4 101.1,998.1 101.0,998.4 95.4,995.4" fill="#ff0003" stroke="#ff0003" stroke-width="0.8"/>
<polygon points="101.8,995.4 108.2,995.4 108.2,995.9 101.8,995.7" fill="#ff0a01" stroke="#ff0a01" stroke-width="0.8"/>
<polygon points="101.8,995.7 108.2,995.9 108.2,996.4 101.8,995.9" fill="#ff0a02" stroke="#ff0a02" stroke-width="0.8"/>
<polygon points="101.8,995.9 108.2,996.4 108.1,996.9 101.8,996.2" fill="#ff0903" stroke="#ff0903" stroke-width="0.8"/>
<polygon points="101.8,996.2 108.1,996.9 108.0,997.5 101.7,996.4" fill="#ff0804" stroke="#ff0804" stroke-width="0.8"/>
<polygon points="101.7,996.4 108.0,997.5 107.9,998.0 101.7,996.7" fill="#ff0705" stroke="#ff0705" stroke-width="0.8"/>
<polygon points="101.7,996.7 107.9,998.0 107.8,998.5 101.6,996.9" fill="#ff0706" stroke="#ff0706" stroke-width="0.8"/>
<polygon points="101.6,996.9 107.8,998.5 107.6,999.0 101.5,997.2" fill="#ff0607" stroke="#ff0607" stroke-width="0.8"/>
<polygon points="101.5,997.2 107.6,999.0 107.5,999.5 101.4,997.4" fill="#ff0507" stroke="#ff0507" stroke-width="0.8"/>
<polygon points="101.4,997.4 107.5,999.5 107.3,999.9 101.3,997.7" fill="#ff0408" stroke="#ff0408" stroke-width="0.8"/>
<polygon points="101.3,997.7 107.3,999.9 107.0,1000.4 101.2,997.9" fill="#ff0309" stroke="#ff0309" stroke-width="0.8"/>
<polygon points="101.2,997.9 107.0,1000.4 106.8,1000.9 101.1,998.1" fill="#ff020a" stroke="#ff020a" stroke-width="0.8"/>
<polygon points="101.1,998.1 106.8,1000.9 106.5,1001.3 101.0,998.4" fill="#ff010a" stroke="#ff010a" stroke-width="0.8"/>
<polygon points="108.2,995.4 114.7,995.4 114.7,996.2 108.2,995.9" fill="#ff1201" stroke="#ff1201" stroke-width="0.8"/>
<polygon points="108.2,995.9 114.7,996.2 114.6,996.9 108.2,996.4" fill="#ff1003" stroke="#ff1003" stroke-width="0.8"/>
<polygon points="108.2,996.4 114.6,996.9 114.5,997.7 108.1,996.9" fill="#ff0f05" stroke="#ff0f05" stroke-width="0.8"/>
<polygon points="108.1,996.9 114.5,997.7 114.4,998.5 108.0,997.5" fill="#ff0e07" stroke="#ff0e07" stroke-width="0.8"/>
<polygon points="108.0,997.5 114.4,998.5 114.2,999.2 107.9,998.0" fill="#ff0d08" stroke="#ff0d08" stroke-width="0.8"/>
<polygon points="107.9,998.0 114.2,999.2 114.0,1000.0 107.8,998.5" fill="#ff0b0a" stroke="#ff0b0a" stroke-width="0.8"/>
<polygon points="107.8,998.5 114.0,1000.0 113.8,1000.7 107.6,999.0" fill="#ff0a0b" stroke="#ff0a0b" stroke-width="0.8"/>
<polygon points="107.6,999.0 113.8,1000.7 113.5,1001.5 107.5,999.5" fill="#ff080d" stroke="#ff080d" stroke-width="0.8"/>
<polygon points="107.5,999.5 113.5,1001.5 113.2,1002.2 107.3,999.9" fill="#ff070e" stroke="#ff070e" stroke-width="0.8"/>
<polygon points="107.3,999.9 113.2,1002.2 112.8,1002.9 107.0,1000.4" fill="#ff050f" stroke="#ff050f" stroke-width="0.8"/>
<polygon points="107.0,1000.4 112.8,1002.9 112.5,1003.6 106.8,1000.9" fill="#ff0310" stroke="#ff0310" stroke-width="0.8"/>
<polygon points="106.8,1000.9 112.5,1003.6 112.0,1004.3 106.5,1001.3" fill="#ff0112" stroke="#ff0112" stroke-width="0.8"/>
<polygon points="114.7,995.4 121.1,995.4 121.1,996.4 114.7,996.2" fill="#ff1902" stroke="#ff1902" stroke-width="0.8"/>
<polygon points="114.7,996.2 121.1,996.4 121.0,997.5 114.6,996.9" fill="#ff1705" stroke="#ff1705" stroke-width="0.8"/>
<polygon points="114.6,996.9 121.0,997.5 120.9,998.5 114.5,997.7" fill="#ff1607" stroke="#ff1607" stroke-width="0.8"/>
<polygon points="114.5,997.7 120.9,998.5 120.7,999.5 114.4,998.5" fill="#ff140a" stroke="#ff140a" stroke-width="0.8"/>
<polygon points="114.4,998.5 120.7,999.5 120.5,1000.5 114.2,999.2" fill="#ff120c" stroke="#ff120c" stroke-width="0.8"/>
<polygon points="114.2,999.2 120.5,1000.5 120.2,1001.5 114.0,1000.0" fill="#ff100e" stroke="#ff100e" stroke-width="0.8"/>
<polygon points="114.0,1000.0 120.2,1001.5 119.9,1002.5 113.8,1000.7" fill="#ff0e10" stroke="#ff0e10" stroke-width="0.8"/>
<polygon points="113.8,1000.7 119.9,1002.5 119.5,1003.5 113.5,1001.5" fill="#ff0c12" stroke="#ff0c12" stroke-width="0.8"/>
<polygon points="113.5,1001.5 119.5,1003.5 119.1,1004.5 113.2,1002.2" fill="#ff0a14" stroke="#ff0a14" stroke-width="0.8"/>
<polygon points="113.2,1002.2 119.1,1004.5 118.6,1005.4 112.8,1002.9" fill="#ff0716" stroke="#ff0716" stroke-width="0.8"/>
<polygon points="112.8,1002.9 118.6,1005.4 118.1,1006.3 112.5,1003.6" fill="#ff0517" stroke="#ff0517" stroke-width="0.8"/>
<polygon points="112.5,1003.6 118.1,1006.3 117.6,1007.2 112.0,1004.3" fill="#ff0219" stroke="#ff0219" stroke-width="0.8"/>
<polygon points="121.1,995.4 127.5,995.4 127.5,996.7 121.1,996.4" fill="#ff2103" stroke="#ff2103" stroke-width="0.8"/>
<polygon points="121.1,996.4 127.5,996.7 127.4,998.0 121.0,997.5" fill="#ff1e06" stroke="#ff1e06" stroke-width="0.8"/>
<polygon points="121.0,997.5 127.4,998.0 127.2,999.3 120.9,998.5" fill="#ff1c0a" stroke="#ff1c0a" stroke-width="0.8"/>
<polygon points="120.9,998.5 127.2,999.3 127.0,1000.5 120.7,999.5" fill="#ff1a0d" stroke="#ff1a0d" stroke-width="0.8"/>
<polygon points="120.7,999.5 127.0,1000.5 126.7,1001.8 120.5,1000.5" fill="#ff170f" stroke="#ff170f" stroke-width="0.8"/>
<polygon points="120.5,1000.5 126.7,1001.8 126.4,1003.1 120.2,1001.5" fill="#ff1512" stroke="#ff1512" stroke-width="0.8"/>
<polygon points="120.2,1001.5 126.4,1003.1 126.0,1004.3 119.9,1002.5" fill="#ff1215" stroke="#ff1215" stroke-width="0.8"/>
<polygon points="119.9,1002.5 126.0,1004.3 125.5,1005.5 119.5,1003.5" fill="#ff0f17" stroke="#ff0f17" stroke-width="0.8"/>
<polygon points="119.5,1003.5 125.5,1005.5 125.0,1006.7 119.1,1004.5" fill="#ff0d1a" stroke="#ff0d1a" stroke-width="0.8"/>
<polygon points="119.1,1004.5 125.0,1006.7 124.5,1007.9 118.6,1005.4" fill="#ff0a1c" stroke="#ff0a1c" stroke-width="0.8"/>
<polygon points="118.6,1005.4 124.5,1007.9 123.8,1009.1 118.1,1006.3" fill="#ff061e" stroke="#ff061e" stroke-width="0.8"/>
<polygon points="118.1,1006.3 123.8,1009.1 123.2,1010.2 117.6,1007.2" fill="#ff0321" stroke="#ff0321" stroke-width="0.8"/>
<polygon points="127.5,995.4 133.9,995.4 133.9,996.9 127.5,996.7" fill="#ff2903" stroke="#ff2903" stroke-width="0.8"/>
<polygon points="127.5,996.7 133.9,996.9 133.8,998.5 127.4,998.0" fill="#ff2608" stroke="#ff2608" stroke-width="0.8"/>
<polygon points="127.4,998.0 133.8,998.5 133.6,1000.0 127.2,999.3" fill="#ff230c" stroke="#ff230c" stroke-width="0.8"/>
<polygon points="127.2,999.3 133.6,1000.0 133.3,1001.6 127.0,1000.5" fill="#ff2010" stroke="#ff2010" stroke-width="0.8"/>
<polygon points="127.0,1000.5 133.3,1001.6 133.0,1003.1 126.7,1001.8" fill="#ff1d13" stroke="#ff1d13" stroke-width="0.8"/>
<polygon points="126.7,1001.8 133.0,1003.1 132.6,1004.6 126.4,1003.1" fill="#ff1a17" stroke="#ff1a17" stroke-width="0.8"/>
<polygon points="126.4,1003.1 132.6,1004.6 132.1,1006.1 126.0,1004.3" fill="#ff171a" stroke="#ff171a" stroke-width="0.8"/>
<polygon points="126.0,1004.3 132.1,1006.1 131.6,1007.6 125.5,1005.5" fill="#ff131d" stroke="#ff131d" stroke-width="0.8"/>
<polygon points="125.5,1005.5 131.6,1007.6 131.0,1009.0 125.0,1006.7" fill="#ff1020" stroke="#ff1020" stroke-width="0.8"/>
<polygon points="125.0,1006.7 131.0,1009.0 130.3,1010.4 124.5,1007.9" fill="#ff0c23" stroke="#ff0c23" stroke-width="0.8"/>
<polygon points="124.5,1007.9 130.3,1010.4 129.5,1011.8 123.8,1009.1" fill="#ff0826" stroke="#ff0826" stroke-width="0.8"/>
<polygon points="123.8,1009.1 129.5,1011.8 128.7,1013.2 123.2,1010.2" fill="#ff0329" stroke="#ff0329" stroke-width="0.8"/>
<polygon points="133.9,995.4 140.4,995.4 140.3,997.2 133.9,996.9" fill="#ff3104" stroke="#ff3104" stroke-width="0.8"/>
<polygon points="133.9,996.9 140.3,997.2 140.2,999.0 133.8,998.5" fill="#ff2e0a" stroke="#ff2e0a" stroke-width="0.8"/>
<polygon points="133.8,998.5 140.2,999.0 140.0,1000.8 133.6,1000.0" fill="#ff2a0f" stroke="#ff2a0f" stroke-width="0.8"/>
<polygon points="133.6,1000.0 140.0,1000.8 139.7,1002.6 133.3,1001.6" fill="#ff2713" stroke="#ff2713" stroke-width="0.8"/>
<polygon points="133.3,1001.6 139.7,1002.6 139.3,1004.4 133.0,1003.1" fill="#ff2317" stroke="#ff2317" stroke-width="0.8"/>
<polygon points="133.0,1003.1 139.3,1004.4 138.8,1006.1 132.6,1004.6" fill="#ff1f1b" stroke="#ff1f1b" stroke-width="0.8"/>
<polygon points="132.6,1004.6 138.8,1006.1 138.2,1007.9 132.1,1006.1" fill="#ff1b1f" stroke="#ff1b1f" stroke-width="0.8"/>
<polygon points="132.1,1006.1 138.2,1007.9 137.6,1009.6 131.6,1007.6" fill="#ff1723" stroke="#ff1723" stroke-width="0.8"/>
<polygon points="131.6,1007.6 137.6,1009.6 136.9,1011.3 131.0,1009.0" fill="#ff1327" stroke="#ff1327" stroke-width="0.8"/>
<polygon points="131.0,1009.0 136.9,1011.3 136.1,1012.9 130.3,1010.4" fill="#ff0f2a" stroke="#ff0f2a" stroke-width="0.8"/>
<polygon points="130.3,1010.4 136.1,1012.9 135.2,1014.5 129.5,1011.8" fill="#ff0a2e" stroke="#ff0a2e" stroke-width="0.8"/>
<polygon points="129.5,1011.8 135.2,1014.5 134.2,1016.1 128.7,1013.2" fill="#ff0431" stroke="#ff0431" stroke-width="0.8"/>
<polygon points="140.4,995.4 146.8,995.4 146.7,997.5 140.3,997.2" fill="#ff3a05" stroke="#ff3a05" stroke-width="0.8"/>
<polygon points="140.3,997.2 146.7,997.5 146.6,999.5 140.2,999.0" fill="#ff360b" stroke="#ff360b" stroke-width="0.8"/>
<polygon points="140.2,999.0 146.6,999.5 146.3,1001.6 140.0,1000.8" fill="#ff3211" stroke="#ff3211" stroke-width="0.8"/>
<polygon points="140.0,1000.8 146.3,1001.6 146.0,1003.6 139.7,1002.6" fill="#ff2e16" stroke="#ff2e16" stroke-width="0.8"/>
<polygon points="139.7,1002.6 146.0,1003.6 145.5,1005.7 139.3,1004.4" fill="#ff291b" stroke="#ff291b" stroke-width="0.8"/>
<polygon points="139.3,1004.4 145.5,1005.7 145.0,1007.7 138.8,1006.1" fill="#ff2520" stroke="#ff2520" stroke-width="0.8"/>
<polygon points="138.8,1006.1 145.0,1007.7 144.4,1009.6 138.2,1007.9" fill="#ff2025" stroke="#ff2025" stroke-width="0.8"/>
<polygon points="138.2,1007.9 144.4,1009.6 143.6,1011.6 137.6,1009.6" fill="#ff1b29" stroke="#ff1b29" stroke-width="0.8"/>
<polygon points="137.6,1009.6 143.6,1011.6 142.8,1013.5 136.9,1011.3" fill="#ff162e" stroke="#ff162e" stroke-width="0.8"/>
<polygon points="136.9,1011.3 142.8,1013.5 141.9,1015.4 136.1,1012.9" fill="#ff1132" stroke="#ff1132" stroke-width="0.8"/>
<polygon points="136.1,1012.9 141.9,1015.4 140.9,1017.3 135.2,1014.5" fill="#ff0b36" stroke="#ff0b36" stroke-width="0.8"/>
<polygon points="135.2,1014.5 140.9,1017.3 139.8,1019.1 134.2,1016.1" fill="#ff053a" stroke="#ff053a" stroke-width="0.8"/>
<polygon points="146.8,995.4 153.2,995.4 153.2,997.7 146.7,997.5" fill="#ff4305" stroke="#ff4305" stroke-width="0.8"/>
<polygon points="146.7,997.5 153.2,997.7 153.0,1000.0 146.6,999.5" fill="#ff3e0d" stroke="#ff3e0d" stroke-width="0.8"/>
<polygon points="146.6,999.5 153.0,1000.0 152.7,1002.4 146.3,1001.6" fill="#ff3a14" stroke="#ff3a14" stroke-width="0.8"/>
<polygon points="146.3,1001.6 152.7,1002.4 152.3,1004.7 146.0,1003.6" fill="#ff351a" stroke="#ff351a" stroke-width="0.8"/>
<polygon points="146.0,1003.6 152.3,1004.7 151.8,1006.9 145.5,1005.7" fill="#ff3020" stroke="#ff3020" stroke-width="0.8"/>
<polygon points="145.5,1005.7 151.8,1006.9 151.2,1009.2 145.0,1007.7" fill="#ff2b25" stroke="#ff2b25" stroke-width="0.8"/>
<polygon points="145.0,1007.7 151.2,1009.2 150.5,1011.4 144.4,1009.6" fill="#ff252b" stroke="#ff252b" stroke-width="0.8"/>
<polygon points="144.4,1009.6 150.5,1011.4 149.7,1013.6 143.6,1011.6" fill="#ff2030" stroke="#ff2030" stroke-width="0.8"/>
<polygon points="143.6,1011.6 149.7,1013.6 148.7,1015.8 142.8,1013.5" fill="#ff1a35" stroke="#ff1a35" stroke-width="0.8"/>
<polygon points="142.8,1013.5 148.7,1015.8 147.7,1017.9 141.9,1015.4" fill="#ff143a" stroke="#ff143a" stroke-width="0.8"/>
<polygon points="141.9,1015.4 147.7,1017.9 146.6,1020.0 140.9,1017.3" fill="#ff0d3e" stroke="#ff0d3e" stroke-width="0.8"/>
<polygon points="140.9,1017.3 146.6,1020.0 145.4,1022.0 139.8,1019.1" fill="#ff0543" stroke="#ff0543" stroke-width="0.8"/>
<polygon points="153.2,995.4 159.7,995.4 159.6,998.0 153.2,997.7" fill="#ff4d06" stroke="#ff4d06" stroke-width="0.8"/>
<polygon points="153.2,997.7 159.6,998.0 159.4,1000.6 153.0,1000.0" fill="#ff480f" stroke="#ff480f" stroke-width="0.8"/>
<polygon points="153.0,1000.0 159.4,1000.6 159.1,1003.1 152.7,1002.4" fill="#ff4217" stroke="#ff4217" stroke-width="0.8"/>
<polygon points="152.7,1002.4 159.1,1003.1 158.6,1005.7 152.3,1004.7" fill="#ff3c1e" stroke="#ff3c1e" stroke-width="0.8"/>
<polygon points="152.3,1004.7 158.6,1005.7 158.1,1008.2 151.8,1006.9" fill="#ff3724" stroke="#ff3724" stroke-width="0.8"/>
<polygon points="151.8,1006.9 158.1,1008.2 157.4,1010.7 151.2,1009.2" fill="#ff312b" stroke="#ff312b" stroke-width="0.8"/>
<polygon points="151.2,1009.2 157.4,1010.7 156.6,1013.2 150.5,1011.4" fill="#ff2b31" stroke="#ff2b31" stroke-width="0.8"/>
<polygon points="150.5,1011.4 156.6,1013.2 155.7,1015.7 149.7,1013.6" fill="#ff2437" stroke="#ff2437" stroke-width="0.8"/>
<polygon points="149.7,1013.6 155.7,1015.7 154.7,1018.1 148.7,1015.8" fill="#ff1e3c" stroke="#ff1e3c" stroke-width="0.8"/>
<polygon points="148.7,1015.8 154.7,1018.1 153.5,1020.4 147.7,1017.9" fill="#ff1742" stroke="#ff1742" stroke-width="0.8"/>
<polygon points="147.7,1017.9 153.5,1020.4 152.3,1022.7 146.6,1020.0" fill="#ff0f48" stroke="#ff0f48" stroke-width="0.8"/>
<polygon points="146.6,1020.0 152.3,1022.7 150.9,1025.0 145.4,1022.0" fill="#ff064d" stroke="#ff064d" stroke-width="0.8"/>
<polygon points="159.7,995.4 166.1,995.4 166.0,998.2 159.6,998.0" fill="#ff5707" stroke="#ff5707" stroke-width="0.8"/>
<polygon points="159.6,998.0 166.0,998.2 165.8,1001.1 159.4,1000.6" fill="#ff5111" stroke="#ff5111" stroke-width="0.8"/>
<polygon points="159.4,1000.6 165.8,1001.1 165.4,1003.9 159.1,1003.1" fill="#ff4b1a" stroke="#ff4b1a" stroke-width="0.8"/>
<polygon points="159.1,1003.1 165.4,1003.9 164.9,1006.7 158.6,1005.7" fill="#ff4422" stroke="#ff4422" stroke-width="0.8"/>
<polygon points="158.6,1005.7 164.9,1006.7 164.3,1009.5 158.1,1008.2" fill="#ff3e29" stroke="#ff3e29" stroke-width="0.8"/>
<polygon points="158.1,1008.2 164.3,1009.5 163.6,1012.3 157.4,1010.7" fill="#ff3730" stroke="#ff3730" stroke-width="0.8"/>
<polygon points="157.4,1010.7 163.6,1012.3 162.7,1015.0 156.6,1013.2" fill="#ff3037" stroke="#ff3037" stroke-width="0.8"/>
<polygon points="156.6,1013.2 162.7,1015.0 161.7,1017.7 155.7,1015.7" fill="#ff293e" stroke="#ff293e" stroke-width="0.8"/>
<polygon points="155.7,1015.7 161.7,1017.7 160.6,1020.3 154.7,1018.1" fill="#ff2244" stroke="#ff2244" stroke-width="0.8"/>
<polygon points="154.7,1018.1 160.6,1020.3 159.3,1022.9 153.5,1020.4" fill="#ff1a4b" stroke="#ff1a4b" stroke-width="0.8"/>
<polygon points="153.5,1020.4 159.3,1022.9 157.9,1025.5 152.3,1022.7" fill="#ff1151" stroke="#ff1151" stroke-width="0.8"/>
<polygon points="152.3,1022.7 157.9,1025.5 156.4,1028.0 150.9,1025.0" fill="#ff0757" stroke="#ff0757" stroke-width="0.8"/>
<polygon points="166.1,995.4 172.5,995.4 172.4,998.5 166.0,998.2" fill="#ff6208" stroke="#ff6208" stroke-width="0.8"/>
<polygon points="166.0,998.2 172.4,998.5 172.2,1001.6 165.8,1001.1" fill="#ff5b13" stroke="#ff5b13" stroke-width="0.8"/>
<polygon points="165.8,1001.1 172.2,1001.6 171.8,1004.7 165.4,1003.9" fill="#ff541d" stroke="#ff541d" stroke-width="0.8"/>
<polygon points="165.4,1003.9 171.8,1004.7 171.3,1007.7 164.9,1006.7" fill="#ff4d26" stroke="#ff4d26" stroke-width="0.8"/>
<polygon points="164.9,1006.7 171.3,1007.7 170.6,1010.8 164.3,1009.5" fill="#ff462e" stroke="#ff462e" stroke-width="0.8"/>
<polygon points="164.3,1009.5 170.6,1010.8 169.8,1013.8 163.6,1012.3" fill="#ff3e36" stroke="#ff3e36" stroke-width="0.8"/>
<polygon points="163.6,1012.3 169.8,1013.8 168.8,1016.8 162.7,1015.0" fill="#ff363e" stroke="#ff363e" stroke-width="0.8"/>
<polygon points="162.7,1015.0 168.8,1016.8 167.7,1019.7 161.7,1017.7" fill="#ff2e46" stroke="#ff2e46" stroke-width="0.8"/>
<polygon points="161.7,1017.7 167.7,1019.7 166.5,1022.6 160.6,1020.3" fill="#ff264d" stroke="#ff264d" stroke-width="0.8"/>
<polygon points="160.6,1020.3 166.5,1022.6 165.1,1025.4 159.3,1022.9" fill="#ff1d54" stroke="#ff1d54" stroke-width="0.8"/>
<polygon points="159.3,1022.9 165.1,1025.4 163.6,1028.2 157.9,1025.5" fill="#ff135b" stroke="#ff135b" stroke-width="0.8"/>
<polygon points="157.9,1025.5 163.6,1028.2 162.0,1030.9 156.4,1028.0" fill="#ff0862" stroke="#ff0862" stroke-width="0.8"/>
<polygon points="172.5,995.4 178.9,995.4 178.8,998.8 172.4,998.5" fill="#ff6e09" stroke="#ff6e09" stroke-width="0.8"/>
<polygon points="172.4,998.5 178.8,998.8 178.6,1002.1 172.2,1001.6" fill="#ff6615" stroke="#ff6615" stroke-width="0.8"/>
<polygon points="172.2,1001.6 178.6,1002.1 178.2,1005.4 171.8,1004.7" fill="#ff5e20" stroke="#ff5e20" stroke-width="0.8"/>
<polygon points="171.8,1004.7 178.2,1005.4 177.6,1008.8 171.3,1007.7" fill="#ff562a" stroke="#ff562a" stroke-width="0.8"/>
<polygon points="171.3,1007.7 177.6,1008.8 176.9,1012.1 170.6,1010.8" fill="#ff4e34" stroke="#ff4e34" stroke-width="0.8"/>
<polygon points="170.6,1010.8 176.9,1012.1 176.0,1015.3 169.8,1013.8" fill="#ff453d" stroke="#ff453d" stroke-width="0.8"/>
<polygon points="169.8,1013.8 176.0,1015.3 174.9,1018.6 168.8,1016.8" fill="#ff3d45" stroke="#ff3d45" stroke-width="0.8"/>
<polygon points="168.8,1016.8 174.9,1018.6 173.8,1021.7 167.7,1019.7" fill="#ff344e" stroke="#ff344e" stroke-width="0.8"/>
<polygon points="167.7,1019.7 173.8,1021.7 172.4,1024.9 166.5,1022.6" fill="#ff2a56" stroke="#ff2a56" stroke-width="0.8"/>
<polygon points="166.5,1022.6 172.4,1024.9 170.9,1027.9 165.1,1025.4" fill="#ff205e" stroke="#ff205e" stroke-width="0.8"/>
<polygon points="165.1,1025.4 170.9,1027.9 169.3,1030.9 163.6,1028.2" fill="#ff1566" stroke="#ff1566" stroke-width="0.8"/>
<polygon points="163.6,1028.2 169.3,1030.9 167.6,1033.9 162.0,1030.9" fill="#ff096e" stroke="#ff096e" stroke-width="0.8"/>
<polygon points="178.9,995.4 185.3,995.4 185.2,999.0 178.8,998.8" fill="#ff7a0a" stroke="#ff7a0a" stroke-width="0.8"/>
<polygon points="178.8,998.8 185.2,999.0 185.0,1002.6 178.6,1002.1" fill="#ff7118" stroke="#ff7118" stroke-width="0.8"/>
<polygon points="178.6,1002.1 185.0,1002.6 184.5,1006.2 178.2,1005.4" fill="#ff6924" stroke="#ff6924" stroke-width="0.8"/>
<polygon points="178.2,1005.4 184.5,1006.2 183.9,1009.8 177.6,1008.8" fill="#ff602f" stroke="#ff602f" stroke-width="0.8"/>
<polygon points="177.6,1008.8 183.9,1009.8 183.1,1013.3 176.9,1012.1" fill="#ff573a" stroke="#ff573a" stroke-width="0.8"/>
<polygon points="176.9,1012.1 183.1,1013.3 182.2,1016.9 176.0,1015.3" fill="#ff4d44" stroke="#ff4d44" stroke-width="0.8"/>
<polygon points="176.0,1015.3 182.2,1016.9 181.1,1020.3 174.9,1018.6" fill="#ff444d" stroke="#ff444d" stroke-width="0.8"/>
<polygon points="174.9,1018.6 181.1,1020.3 179.8,1023.8 173.8,1021.7" fill="#ff3a57" stroke="#ff3a57" stroke-width="0.8"/>
<polygon points="173.8,1021.7 179.8,1023.8 178.4,1027.1 172.4,1024.9" fill="#ff2f60" stroke="#ff2f60" stroke-width="0.8"/>
<polygon points="172.4,1024.9 178.4,1027.1 176.8,1030.4 170.9,1027.9" fill="#ff2469" stroke="#ff2469" stroke-width="0.8"/>
<polygon points="170.9,1027.9 176.8,1030.4 175.0,1033.7 169.3,1030.9" fill="#ff1871" stroke="#ff1871" stroke-width="0.8"/>
<polygon points="169.3,1030.9 175.0,1033.7 173.1,1036.9 167.6,1033.9" fill="#ff0a7a" stroke="#ff0a7a" stroke-width="0.8"/>
<polygon points="185.3,995.4 191.8,995.4 191.7,999.3 185.2,999.0" fill="#ff870b" stroke="#ff870b" stroke-width="0.8"/>
<polygon points="185.2,999.0 191.7,999.3 191.4,1003.1 185.0,1002.6" fill="#ff7e1b" stroke="#ff7e1b" stroke-width="0.8"/>
<polygon points="185.0,1002.6 191.4,1003.1 190.9,1007.0 184.5,1006.2" fill="#ff7428" stroke="#ff7428" stroke-width="0.8"/>
<polygon points="184.5,1006.2 190.9,1007.0 190.2,1010.8 183.9,1009.8" fill="#ff6a34" stroke="#ff6a34" stroke-width="0.8"/>
<polygon points="183.9,1009.8 190.2,1010.8 189.4,1014.6 183.1,1013.3" fill="#ff6040" stroke="#ff6040" stroke-width="0.8"/>
<polygon points="183.1,1013.3 189.4,1014.6 188.4,1018.4 182.2,1016.9" fill="#ff564b" stroke="#ff564b" stroke-width="0.8"/>
<polygon points="182.2,1016.9 188.4,1018.4 187.2,1022.1 181.1,1020.3" fill="#ff4b56" stroke="#ff4b56" stroke-width="0.8"/>
<polygon points="181.1,1020.3 187.2,1022.1 185.8,1025.8 179.8,1023.8" fill="#ff4060" stroke="#ff4060" stroke-width="0.8"/>
<polygon points="179.8,1023.8 185.8,1025.8 184.3,1029.4 178.4,1027.1" fill="#ff346a" stroke="#ff346a" stroke-width="0.8"/>
<polygon points="178.4,1027.1 184.3,1029.4 182.6,1032.9 176.8,1030.4" fill="#ff2874" stroke="#ff2874" stroke-width="0.8"/>
<polygon points="176.8,1030.4 182.6,1032.9 180.7,1036.4 175.0,1033.7" fill="#ff1b7e" stroke="#ff1b7e" stroke-width="0.8"/>
<polygon points="175.0,1033.7 180.7,1036.4 178.7,1039.8 173.1,1036.9" fill="#ff0b87" stroke="#ff0b87" stroke-width="0.8"/>
<polygon points="191.8,995.4 198.2,995.4 198.1,999.5 191.7,999.3" fill="#ff960c" stroke="#ff960c" stroke-width="0.8"/>
<polygon points="191.7,999.3 198.1,999.5 197.8,1003.7 191.4,1003.1" fill="#ff8b1d" stroke="#ff8b1d" stroke-width="0.8"/>
<polygon points="191.4,1003.1 197.8,1003.7 197.3,1007.8 190.9,1007.0" fill="#ff802c" stroke="#ff802c" stroke-width="0.8"/>
<polygon points="190.9,1007.0 197.3,1007.8 196.6,1011.9 190.2,1010.8" fill="#ff753a" stroke="#ff753a" stroke-width="0.8"/>
<polygon points="190.2,1010.8 196.6,1011.9 195.7,1015.9 189.4,1014.6" fill="#ff6a47" stroke="#ff6a47" stroke-width="0.8"/>
<polygon points="189.4,1014.6 195.7,1015.9 194.6,1019.9 188.4,1018.4" fill="#ff5f53" stroke="#ff5f53" stroke-width="0.8"/>
<polygon points="188.4,1018.4 194.6,1019.9 193.3,1023.9 187.2,1022.1" fill="#ff535f" stroke="#ff535f" stroke-width="0.8"/>
<polygon points="187.2,1022.1 193.3,1023.9 191.8,1027.8 185.8,1025.8" fill="#ff476a" stroke="#ff476a" stroke-width="0.8"/>
<polygon points="185.8,1025.8 191.8,1027.8 190.2,1031.7 184.3,1029.4" fill="#ff3a75" stroke="#ff3a75" stroke-width="0.8"/>
<polygon points="184.3,1029.4 190.2,1031.7 188.4,1035.4 182.6,1032.9" fill="#ff2c80" stroke="#ff2c80" stroke-width="0.8"/>
<polygon points="182.6,1032.9 188.4,1035.4 186.4,1039.2 180.7,1036.4" fill="#ff1d8b" stroke="#ff1d8b" stroke-width="0.8"/>
<polygon points="180.7,1036.4 186.4,1039.2 184.2,1042.8 178.7,1039.8" fill="#ff0c96" stroke="#ff0c96" stroke-width="0.8"/>
<polygon points="198.2,995.4 204.6,995.4 204.5,999.8 198.1,999.5" fill="#ffa50d" stroke="#ffa50d" stroke-width="0.8"/>
<polygon points="198.1,999.5 204.5,999.8 204.2,1004.2 197.8,1003.7" fill="#ff9920" stroke="#ff9920" stroke-width="0.8"/>
<polygon points="197.8,1003.7 204.2,1004.2 203.6,1008.5 197.3,1007.8" fill="#ff8e31" stroke="#ff8e31" stroke-width="0.8"/>
<polygon points="197.3,1007.8 203.6,1008.5 202.9,1012.9 196.6,1011.9" fill="#ff8240" stroke="#ff8240" stroke-width="0.8"/>
<polygon points="196.6,1011.9 202.9,1012.9 201.9,1017.2 195.7,1015.9" fill="#ff754e" stroke="#ff754e" stroke-width="0.8"/>
<polygon points="195.7,1015.9 201.9,1017.2 200.8,1021.5 194.6,1019.9" fill="#ff695b" stroke="#ff695b" stroke-width="0.8"/>
<polygon points="194.6,1019.9 200.8,1021.5 199.4,1025.7 193.3,1023.9" fill="#ff5b69" stroke="#ff5b69" stroke-width="0.8"/>
<polygon points="193.3,1023.9 199.4,1025.7 197.9,1029.8 191.8,1027.8" fill="#ff4e75" stroke="#ff4e75" stroke-width="0.8"/>
<polygon points="191.8,1027.8 197.9,1029.8 196.1,1033.9 190.2,1031.7" fill="#ff4082" stroke="#ff4082" stroke-width="0.8"/>
<polygon points="190.2,1031.7 196.1,1033.9 194.2,1037.9 188.4,1035.4" fill="#ff318e" stroke="#ff318e" stroke-width="0.8"/>
<polygon points="188.4,1035.4 194.2,1037.9 192.1,1041.9 186.4,1039.2" fill="#ff2099" stroke="#ff2099" stroke-width="0.8"/>
<polygon points="186.4,1039.2 192.1,1041.9 189.7,1045.7 184.2,1042.8" fill="#ff0da5" stroke="#ff0da5" stroke-width="0.8"/>
<polygon points="204.6,995.4 211.1,995.4 210.9,1000.0 204.5,999.8" fill="#ffb60f" stroke="#ffb60f" stroke-width="0.8"/>
<polygon points="204.5,999.8 210.9,1000.0 210.6,1004.7 204.2,1004.2" fill="#ffa924" stroke="#ffa924" stroke-width="0.8"/>
<polygon points="204.2,1004.2 210.6,1004.7 210.0,1009.3 203.6,1008.5" fill="#ff9c36" stroke="#ff9c36" stroke-width="0.8"/>
<polygon points="203.6,1008.5 210.0,1009.3 209.2,1013.9 202.9,1012.9" fill="#ff8f46" stroke="#ff8f46" stroke-width="0.8"/>
<polygon points="202.9,1012.9 209.2,1013.9 208.2,1018.5 201.9,1017.2" fill="#ff8156" stroke="#ff8156" stroke-width="0.8"/>
<polygon points="201.9,1017.2 208.2,1018.5 207.0,1023.0 200.8,1021.5" fill="#ff7365" stroke="#ff7365" stroke-width="0.8"/>
<polygon points="200.8,1021.5 207.0,1023.0 205.5,1027.5 199.4,1025.7" fill="#ff6573" stroke="#ff6573" stroke-width="0.8"/>
<polygon points="199.4,1025.7 205.5,1027.5 203.9,1031.9 197.9,1029.8" fill="#ff5681" stroke="#ff5681" stroke-width="0.8"/>
<polygon points="197.9,1029.8 203.9,1031.9 202.1,1036.2 196.1,1033.9" fill="#ff468f" stroke="#ff468f" stroke-width="0.8"/>
<polygon points="196.1,1033.9 202.1,1036.2 200.0,1040.5 194.2,1037.9" fill="#ff369c" stroke="#ff369c" stroke-width="0.8"/>
<polygon points="194.2,1037.9 200.0,1040.5 197.7,1044.6 192.1,1041.9" fill="#ff24a9" stroke="#ff24a9" stroke-width="0.8"/>
<polygon points="192.1,1041.9 197.7,1044.6 195.3,1048.7 189.7,1045.7" fill="#ff0fb6" stroke="#ff0fb6" stroke-width="0.8"/>
<polygon points="211.1,995.4 217.5,995.4 217.3,1000.3 210.9,1000.0" fill="#ffc810" stroke="#ffc810" stroke-width="0.8"/>
<polygon points="210.9,1000.0 217.3,1000.3 217.0,1005.2 210.6,1004.7" fill="#ffba27" stroke="#ffba27" stroke-width="0.8"/>
<polygon points="210.6,1004.7 217.0,1005.2 216.4,1010.1 210.0,1009.3" fill="#ffac3b" stroke="#ffac3b" stroke-width="0.8"/>
<polygon points="210.0,1009.3 216.4,1010.1 215.5,1014.9 209.2,1013.9" fill="#ff9d4d" stroke="#ff9d4d" stroke-width="0.8"/>
<polygon points="209.2,1013.9 215.5,1014.9 214.5,1019.8 208.2,1018.5" fill="#ff8e5e" stroke="#ff8e5e" stroke-width="0.8"/>
<polygon points="208.2,1018.5 214.5,1019.8 213.2,1024.5 207.0,1023.0" fill="#ff7f6f" stroke="#ff7f6f" stroke-width="0.8"/>
<polygon points="207.0,1023.0 213.2,1024.5 211.7,1029.2 205.5,1027.5" fill="#ff6f7f" stroke="#ff6f7f" stroke-width="0.8"/>
<polygon points="205.5,1027.5 211.7,1029.2 209.9,1033.9 203.9,1031.9" fill="#ff5e8e" stroke="#ff5e8e" stroke-width="0.8"/>
<polygon points="203.9,1031.9 209.9,1033.9 208.0,1038.5 202.1,1036.2" fill="#ff4d9d" stroke="#ff4d9d" stroke-width="0.8"/>
<polygon points="202.1,1036.2 208.0,1038.5 205.8,1043.0 200.0,1040.5" fill="#ff3bac" stroke="#ff3bac" stroke-width="0.8"/>
<polygon points="200.0,1040.5 205.8,1043.0 203.4,1047.4 197.7,1044.6" fill="#ff27ba" stroke="#ff27ba" stroke-width="0.8"/>
<polygon points="197.7,1044.6 203.4,1047.4 200.9,1051.7 195.3,1048.7" fill="#ff10c8" stroke="#ff10c8" stroke-width="0.8"/>
<polygon points="217.5,995.4 223.9,995.4 223.8,1000.6 217.3,1000.3" fill="#ffdc12" stroke="#ffdc12" stroke-width="0.8"/>
<polygon points="217.3,1000.3 223.8,1000.6 223.4,1005.7 217.0,1005.2" fill="#ffcd2b" stroke="#ffcd2b" stroke-width="0.8"/>
<polygon points="217.0,1005.2 223.4,1005.7 222.7,1010.9 216.4,1010.1" fill="#ffbd41" stroke="#ffbd41" stroke-width="0.8"/>
<polygon points="216.4,1010.1 222.7,1010.9 221.8,1016.0 215.5,1014.9" fill="#ffad55" stroke="#ffad55" stroke-width="0.8"/>
<polygon points="215.5,1014.9 221.8,1016.0 220.7,1021.0 214.5,1019.8" fill="#ff9c68" stroke="#ff9c68" stroke-width="0.8"/>
<polygon points="214.5,1019.8 220.7,1021.0 219.4,1026.1 213.2,1024.5" fill="#ff8b7a" stroke="#ff8b7a" stroke-width="0.8"/>
<polygon points="213.2,1024.5 219.4,1026.1 217.8,1031.0 211.7,1029.2" fill="#ff7a8b" stroke="#ff7a8b" stroke-width="0.8"/>
<polygon points="211.7,1029.2 217.8,1031.0 216.0,1035.9 209.9,1033.9" fill="#ff689c" stroke="#ff689c" stroke-width="0.8"/>
<polygon points="209.9,1033.9 216.0,1035.9 213.9,1040.7 208.0,1038.5" fill="#ff55ad" stroke="#ff55ad" stroke-width="0.8"/>
<polygon points="208.0,1038.5 213.9,1040.7 211.6,1045.5 205.8,1043.0" fill="#ff41bd" stroke="#ff41bd" stroke-width="0.8"/>
<polygon points="205.8,1043.0 211.6,1045.5 209.1,1050.1 203.4,1047.4" fill="#ff2bcd" stroke="#ff2bcd" stroke-width="0.8"/>
<polygon points="203.4,1047.4 209.1,1050.1 206.4,1054.6 200.9,1051.7" fill="#ff12dc" stroke="#ff12dc" stroke-width="0.8"/>
<polygon points="223.9,995.4 230.3,995.4 230.2,1000.8 223.8,1000.6" fill="#fff214" stroke="#fff214" stroke-width="0.8"/>
<polygon points="223.8,1000.6 230.2,1000.8 229.8,1006.2 223.4,1005.7" fill="#ffe12f" stroke="#ffe12f" stroke-width="0.8"/>
<polygon points="223.4,1005.7 229.8,1006.2 229.1,1011.6 222.7,1010.9" fill="#ffd047" stroke="#ffd047" stroke-width="0.8"/>
<polygon points="222.7,1010.9 229.1,1011.6 228.2,1017.0 221.8,1016.0" fill="#ffbe5e" stroke="#ffbe5e" stroke-width="0.8"/>
<polygon points="221.8,1016.0 228.2,1017.0 227.0,1022.3 220.7,1021.0" fill="#ffac72" stroke="#ffac72" stroke-width="0.8"/>
<polygon points="220.7,1021.0 227.0,1022.3 225.6,1027.6 219.4,1026.1" fill="#ff9a86" stroke="#ff9a86" stroke-width="0.8"/>
<polygon points="219.4,1026.1 225.6,1027.6 223.9,1032.8 217.8,1031.0" fill="#ff869a" stroke="#ff869a" stroke-width="0.8"/>
<polygon points="217.8,1031.0 223.9,1032.8 222.0,1037.9 216.0,1035.9" fill="#ff72ac" stroke="#ff72ac" stroke-width="0.8"/>
<polygon points="216.0,1035.9 222.0,1037.9 219.8,1043.0 213.9,1040.7" fill="#ff5ebe" stroke="#ff5ebe" stroke-width="0.8"/>
<polygon points="213.9,1040.7 219.8,1043.0 217.4,1048.0 211.6,1045.5" fill="#ff47d0" stroke="#ff47d0" stroke-width="0.8"/>
<polygon points="211.6,1045.5 217.4,1048.0 214.8,1052.8 209.1,1050.1" fill="#ff2fe1" stroke="#ff2fe1" stroke-width="0.8"/>
<polygon points="209.1,1050.1 214.8,1052.8 211.9,1057.6 206.4,1054.6" fill="#ff14f2" stroke="#ff14f2" stroke-width="0.8"/>
<polygon points="230.3,995.4 236.8,995.4 236.6,1001.1 230.2,1000.8" fill="#f4ff15" stroke="#f4ff15" stroke-width="0.8"/>
<polygon points="230.2,1000.8 236.6,1001.1 236.2,1006.8 229.8,1006.2" fill="#fff834" stroke="#fff834" stroke-width="0.8"/>
<polygon points="229.8,1006.2 236.2,1006.8 235.5,1012.4 229.1,1011.6" fill="#ffe54f" stroke="#ffe54f" stroke-width="0.8"/>
<polygon points="229.1,1011.6 235.5,1012.4 234.5,1018.0 228.2,1017.0" fill="#ffd267" stroke="#ffd267" stroke-width="0.8"/>
<polygon points="228.2,1017.0 234.5,1018.0 233.3,1023.6 227.0,1022.3" fill="#ffbe7e" stroke="#ffbe7e" stroke-width="0.8"/>
<polygon points="227.0,1022.3 233.3,1023.6 231.8,1029.1 225.6,1027.6" fill="#ffa994" stroke="#ffa994" stroke-width="0.8"/>
<polygon points="225.6,1027.6 231.8,1029.1 230.0,1034.6 223.9,1032.8" fill="#ff94a9" stroke="#ff94a9" stroke-width="0.8"/>
<polygon points="223.9,1032.8 230.0,1034.6 228.0,1040.0 222.0,1037.9" fill="#ff7ebe" stroke="#ff7ebe" stroke-width="0.8"/>
<polygon points="222.0,1037.9 228.0,1040.0 225.8,1045.3 219.8,1043.0" fill="#ff67d2" stroke="#ff67d2" stroke-width="0.8"/>
<polygon points="219.8,1043.0 225.8,1045.3 223.2,1050.5 217.4,1048.0" fill="#ff4fe5" stroke="#ff4fe5" stroke-width="0.8"/>
<polygon points="217.4,1048.0 223.2,1050.5 220.5,1055.6 214.8,1052.8" fill="#ff34f8" stroke="#ff34f8" stroke-width="0.8"/>
<polygon points="214.8,1052.8 220.5,1055.6 217.5,1060.5 211.9,1057.6" fill="#f415ff" stroke="#f415ff" stroke-width="0.8"/>
<polygon points="236.8,995.4 243.2,995.4 243.0,1001.3 236.6,1001.1" fill="#ddff15" stroke="#ddff15" stroke-width="0.8"/>
<polygon points="236.6,1001.1 243.0,1001.3 242.6,1007.3 236.2,1006.8" fill="#edff36" stroke="#edff36" stroke-width="0.8"/>
<polygon points="236.2,1006.8 242.6,1007.3 241.8,1013.2 235.5,1012.4" fill="#fffd57" stroke="#fffd57" stroke-width="0.8"/>
<polygon points="235.5,1012.4 241.8,1013.2 240.8,1019.1 234.5,1018.0" fill="#ffe772" stroke="#ffe772" stroke-width="0.8"/>
<polygon points="234.5,1018.0 240.8,1019.1 239.5,1024.9 233.3,1023.6" fill="#ffd18b" stroke="#ffd18b" stroke-width="0.8"/>
<polygon points="233.3,1023.6 239.5,1024.9 238.0,1030.7 231.8,1029.1" fill="#ffbba3" stroke="#ffbba3" stroke-width="0.8"/>
<polygon points="231.8,1029.1 238.0,1030.7 236.1,1036.4 230.0,1034.6" fill="#ffa3bb" stroke="#ffa3bb" stroke-width="0.8"/>
<polygon points="230.0,1034.6 236.1,1036.4 234.0,1042.0 228.0,1040.0" fill="#ff8bd1" stroke="#ff8bd1" stroke-width="0.8"/>
<polygon points="228.0,1040.0 234.0,1042.0 231.7,1047.5 225.8,1045.3" fill="#ff72e7" stroke="#ff72e7" stroke-width="0.8"/>
<polygon points="225.8,1045.3 231.7,1047.5 229.1,1053.0 223.2,1050.5" fill="#ff57fd" stroke="#ff57fd" stroke-width="0.8"/>
<polygon points="223.2,1050.5 229.1,1053.0 226.2,1058.3 220.5,1055.6" fill="#ed36ff" stroke="#ed36ff" stroke-width="0.8"/>
<polygon points="220.5,1055.6 226.2,1058.3 223.0,1063.5 217.5,1060.5" fill="#dd15ff" stroke="#dd15ff" stroke-width="0.8"/>
<polygon points="243.2,995.4 249.6,995.4 249.4,1001.6 243.0,1001.3" fill="#c7ff15" stroke="#c7ff15" stroke-width="0.8"/>
<polygon points="243.0,1001.3 249.4,1001.6 249.0,1007.8 242.6,1007.3" fill="#d6ff36" stroke="#d6ff36" stroke-width="0.8"/>
<polygon points="242.6,1007.3 249.0,1007.8 248.2,1014.0 241.8,1013.2" fill="#e8ff58" stroke="#e8ff58" stroke-width="0.8"/>
<polygon points="241.8,1013.2 248.2,1014.0 247.1,1020.1 240.8,1019.1" fill="#feff7d" stroke="#feff7d" stroke-width="0.8"/>
<polygon points="240.8,1019.1 247.1,1020.1 245.8,1026.2 239.5,1024.9" fill="#ffe89a" stroke="#ffe89a" stroke-width="0.8"/>
<polygon points="239.5,1024.9 245.8,1026.2 244.2,1032.2 238.0,1030.7" fill="#ffcfb5" stroke="#ffcfb5" stroke-width="0.8"/>
<polygon points="238.0,1030.7 244.2,1032.2 242.3,1038.1 236.1,1036.4" fill="#ffb5cf" stroke="#ffb5cf" stroke-width="0.8"/>
<polygon points="236.1,1036.4 242.3,1038.1 240.1,1044.0 234.0,1042.0" fill="#ff9ae8" stroke="#ff9ae8" stroke-width="0.8"/>
<polygon points="234.0,1042.0 240.1,1044.0 237.6,1049.8 231.7,1047.5" fill="#fe7dff" stroke="#fe7dff" stroke-width="0.8"/>
<polygon points="231.7,1047.5 237.6,1049.8 234.9,1055.5 229.1,1053.0" fill="#e858ff" stroke="#e858ff" stroke-width="0.8"/>
<polygon points="229.1,1053.0 234.9,1055.5 231.9,1061.0 226.2,1058.3" fill="#d636ff" stroke="#d636ff" stroke-width="0.8"/>
<polygon points="226.2,1058.3 231.9,1061.0 228.6,1066.5 223.0,1063.5" fill="#c715ff" stroke="#c715ff" stroke-width="0.8"/>
<polygon points="249.6,995.4 256.0,995.4 255.8,1001.9 249.4,1001.6" fill="#b3ff15" stroke="#b3ff15" stroke-width="0.8"/>
<polygon points="249.4,1001.6 255.8,1001.9 255.4,1008.3 249.0,1007.8" fill="#c1ff36" stroke="#c1ff36" stroke-width="0.8"/>
<polygon points="249.0,1007.8 255.4,1008.3 254.6,1014.7 248.2,1014.0" fill="#d1ff58" stroke="#d1ff58" stroke-width="0.8"/>
<polygon points="248.2,1014.0 254.6,1014.7 253.5,1021.1 247.1,1020.1" fill="#e5ff7d" stroke="#e5ff7d" stroke-width="0.8"/>
<polygon points="247.1,1020.1 253.5,1021.1 252.1,1027.4 245.8,1026.2" fill="#fdffa9" stroke="#fdffa9" stroke-width="0.8"/>
<polygon points="245.8,1026.2 252.1,1027.4 250.4,1033.7 244.2,1032.2" fill="#ffe6c9" stroke="#ffe6c9" stroke-width="0.8"/>
<polygon points="244.2,1032.2 250.4,1033.7 248.4,1039.9 242.3,1038.1" fill="#ffc9e6" stroke="#ffc9e6" stroke-width="0.8"/>
<polygon points="242.3,1038.1 248.4,1039.9 246.1,1046.0 240.1,1044.0" fill="#fda9ff" stroke="#fda9ff" stroke-width="0.8"/>
<polygon points="240.1,1044.0 246.1,1046.0 243.5,1052.1 237.6,1049.8" fill="#e57dff" stroke="#e57dff" stroke-width="0.8"/>
<polygon points="237.6,1049.8 243.5,1052.1 240.7,1058.0 234.9,1055.5" fill="#d158ff" stroke="#d158ff" stroke-width="0.8"/>
<polygon points="234.9,1055.5 240.7,1058.0 237.5,1063.8 231.9,1061.0" fill="#c136ff" stroke="#c136ff" stroke-width="0.8"/>
<polygon points="231.9,1061.0 237.5,1063.8 234.2,1069.4 228.6,1066.5" fill="#b315ff" stroke="#b315ff" stroke-width="0.8"/>
<polygon points="256.0,995.4 262.4,995.4 262.3,1002.1 255.8,1001.9" fill="#a1ff15" stroke="#a1ff15" stroke-width="0.8"/>
<polygon points="255.8,1001.9 262.3,1002.1 261.7,1008.8 255.4,1008.3" fill="#adff36" stroke="#adff36" stroke-width="0.8"/>
<polygon points="255.4,1008.3 261.7,1008.8 260.9,1015.5 254.6,1014.7" fill="#bbff58" stroke="#bbff58" stroke-width="0.8"/>
<polygon points="254.6,1014.7 260.9,1015.5 259.8,1022.1 253.5,1021.1" fill="#cdff7d" stroke="#cdff7d" stroke-width="0.8"/>
<polygon points="253.5,1021.1 259.8,1022.1 258.3,1028.7 252.1,1027.4" fill="#e2ffa9" stroke="#e2ffa9" stroke-width="0.8"/>
<polygon points="252.1,1027.4 258.3,1028.7 256.6,1035.3 250.4,1033.7" fill="#feffdf" stroke="#feffdf" stroke-width="0.8"/>
<polygon points="250.4,1033.7 256.6,1035.3 254.5,1041.7 248.4,1039.9" fill="#fedfff" stroke="#fedfff" stroke-width="0.8"/>
<polygon points="248.4,1039.9 254.5,1041.7 252.1,1048.1 246.1,1046.0" fill="#e2a9ff" stroke="#e2a9ff" stroke-width="0.8"/>
<polygon points="246.1,1046.0 252.1,1048.1 249.5,1054.3 243.5,1052.1" fill="#cd7dff" stroke="#cd7dff" stroke-width="0.8"/>
<polygon points="243.5,1052.1 249.5,1054.3 246.5,1060.5 240.7,1058.0" fill="#bb58ff" stroke="#bb58ff" stroke-width="0.8"/>
<polygon points="240.7,1058.0 246.5,1060.5 243.2,1066.5 237.5,1063.8" fill="#ad36ff" stroke="#ad36ff" stroke-width="0.8"/>
<polygon points="237.5,1063.8 243.2,1066.5 239.7,1072.4 234.2,1069.4" fill="#a115ff" stroke="#a115ff" stroke-width="0.8"/>
<polygon points="262.4,995.4 268.9,995.4 268.7,1002.4 262.3,1002.1" fill="#8fff15" stroke="#8fff15" stroke-width="0.8"/>
<polygon points="262.3,1002.1 268.7,1002.4 268.1,1009.3 261.7,1008.8" fill="#9aff36" stroke="#9aff36" stroke-width="0.8"/>
<polygon points="261.7,1008.8 268.1,1009.3 267.3,1016.3 260.9,1015.5" fill="#a7ff58" stroke="#a7ff58" stroke-width="0.8"/>
<polygon points="260.9,1015.5 267.3,1016.3 266.1,1023.2 259.8,1022.1" fill="#b7ff7d" stroke="#b7ff7d" stroke-width="0.8"/>
<polygon points="259.8,1022.1 266.1,1023.2 264.6,1030.0 258.3,1028.7" fill="#caffa9" stroke="#caffa9" stroke-width="0.8"/>
<polygon points="258.3,1028.7 264.6,1030.0 262.8,1036.8 256.6,1035.3" fill="#e2ffdf" stroke="#e2ffdf" stroke-width="0.8"/>
<polygon points="256.6,1035.3 262.8,1036.8 260.6,1043.5 254.5,1041.7" fill="#e2dfff" stroke="#e2dfff" stroke-width="0.8"/>
<polygon points="254.5,1041.7 260.6,1043.5 258.2,1050.1 252.1,1048.1" fill="#caa9ff" stroke="#caa9ff" stroke-width="0.8"/>
<polygon points="252.1,1048.1 258.2,1050.1 255.4,1056.6 249.5,1054.3" fill="#b77dff" stroke="#b77dff" stroke-width="0.8"/>
<polygon points="249.5,1054.3 255.4,1056.6 252.3,1063.0 246.5,1060.5" fill="#a758ff" stroke="#a758ff" stroke-width="0.8"/>
<polygon points="246.5,1060.5 252.3,1063.0 248.9,1069.2 243.2,1066.5" fill="#9a36ff" stroke="#9a36ff" stroke-width="0.8"/>
<polygon points="243.2,1066.5 248.9,1069.2 245.2,1075.3 239.7,1072.4" fill="#8f15ff" stroke="#8f15ff" stroke-width="0.8"/>
<polygon points="268.9,995.4 275.3,995.4 275.1,1002.6 268.7,1002.4" fill="#7fff15" stroke="#7fff15" stroke-width="0.8"/>
<polygon points="268.7,1002.4 275.1,1002.6 274.5,1009.9 268.1,1009.3" fill="#88ff36" stroke="#88ff36" stroke-width="0.8"/>
<polygon points="268.1,1009.3 274.5,1009.9 273.7,1017.0 267.3,1016.3" fill="#94ff58" stroke="#94ff58" stroke-width="0.8"/>
<polygon points="267.3,1016.3 273.7,1017.0 272.4,1024.2 266.1,1023.2" fill="#a2ff7d" stroke="#a2ff7d" stroke-width="0.8"/>
<polygon points="266.1,1023.2 272.4,1024.2 270.9,1031.3 264.6,1030.0" fill="#b3ffa9" stroke="#b3ffa9" stroke-width="0.8"/>
<polygon points="264.6,1030.0 270.9,1031.3 269.0,1038.3 262.8,1036.8" fill="#c8ffdf" stroke="#c8ffdf" stroke-width="0.8"/>
<polygon points="262.8,1036.8 269.0,1038.3 266.7,1045.3 260.6,1043.5" fill="#c8dfff" stroke="#c8dfff" stroke-width="0.8"/>
<polygon points="260.6,1043.5 266.7,1045.3 264.2,1052.1 258.2,1050.1" fill="#b3a9ff" stroke="#b3a9ff" stroke-width="0.8"/>
<polygon points="258.2,1050.1 264.2,1052.1 261.3,1058.9 255.4,1056.6" fill="#a27dff" stroke="#a27dff" stroke-width="0.8"/>
<polygon points="255.4,1056.6 261.3,1058.9 258.1,1065.5 252.3,1063.0" fill="#9458ff" stroke="#9458ff" stroke-width="0.8"/>
<polygon points="252.3,1063.0 258.1,1065.5 254.6,1072.0 248.9,1069.2" fill="#8836ff" stroke="#8836ff" stroke-width="0.8"/>
<polygon points="248.9,1069.2 254.6,1072.0 250.8,1078.3 245.2,1075.3" fill="#7f15ff" stroke="#7f15ff" stroke-width="0.8"/>
<polygon points="275.3,995.4 281.7,995.4 281.5,1002.9 275.1,1002.6" fill="#6fff15" stroke="#6fff15" stroke-width="0.8"/>
<polygon points="275.1,1002.6 281.5,1002.9 280.9,1010.4 274.5,1009.9" fill="#77ff36" stroke="#77ff36" stroke-width="0.8"/>
<polygon points="274.5,1009.9 280.9,1010.4 280.0,1017.8 273.7,1017.0" fill="#81ff58" stroke="#81ff58" stroke-width="0.8"/>
<polygon points="273.7,1017.0 280.0,1017.8 278.8,1025.2 272.4,1024.2" fill="#8dff7d" stroke="#8dff7d" stroke-width="0.8"/>
<polygon points="272.4,1024.2 278.8,1025.2 277.1,1032.6 270.9,1031.3" fill="#9cffa9" stroke="#9cffa9" stroke-width="0.8"/>
<polygon points="270.9,1031.3 277.1,1032.6 275.2,1039.9 269.0,1038.3" fill="#afffdf" stroke="#afffdf" stroke-width="0.8"/>
<polygon points="269.0,1038.3 275.2,1039.9 272.9,1047.0 266.7,1045.3" fill="#afdfff" stroke="#afdfff" stroke-width="0.8"/>
<polygon points="266.7,1045.3 272.9,1047.0 270.2,1054.1 264.2,1052.1" fill="#9ca9ff" stroke="#9ca9ff" stroke-width="0.8"/>
<polygon points="264.2,1052.1 270.2,1054.1 267.2,1061.1 261.3,1058.9" fill="#8d7dff" stroke="#8d7dff" stroke-width="0.8"/>
<polygon points="261.3,1058.9 267.2,1061.1 263.9,1068.0 258.1,1065.5" fill="#8158ff" stroke="#8158ff" stroke-width="0.8"/>
<polygon points="258.1,1065.5 263.9,1068.0 260.3,1074.7 254.6,1072.0" fill="#7736ff" stroke="#7736ff" stroke-width="0.8"/>
<polygon points="254.6,1072.0 260.3,1074.7 256.3,1081.3 250.8,1078.3" fill="#6f15ff" stroke="#6f15ff" stroke-width="0.8"/>
<polygon points="281.7,995.4 288.1,995.4 287.9,1003.1 281.5,1002.9" fill="#60ff15" stroke="#60ff15" stroke-width="0.8"/>
<polygon points="281.5,1002.9 287.9,1003.1 287.3,1010.9 280.9,1010.4" fill="#67ff36" stroke="#67ff36" stroke-width="0.8"/>
<polygon points="280.9,1010.4 287.3,1010.9 286.4,1018.6 280.0,1017.8" fill="#70ff58" stroke="#70ff58" stroke-width="0.8"/>
<polygon points="280.0,1017.8 286.4,1018.6 285.1,1026.3 278.8,1025.2" fill="#7aff7d" stroke="#7aff7d" stroke-width="0.8"/>
<polygon points="278.8,1025.2 285.1,1026.3 283.4,1033.9 277.1,1032.6" fill="#87ffa9" stroke="#87ffa9" stroke-width="0.8"/>
<polygon points="277.1,1032.6 283.4,1033.9 281.4,1041.4 275.2,1039.9" fill="#98ffdf" stroke="#98ffdf" stroke-width="0.8"/>
<polygon points="275.2,1039.9 281.4,1041.4 279.0,1048.8 272.9,1047.0" fill="#98dfff" stroke="#98dfff" stroke-width="0.8"/>
<polygon points="272.9,1047.0 279.0,1048.8 276.2,1056.2 270.2,1054.1" fill="#87a9ff" stroke="#87a9ff" stroke-width="0.8"/>
<polygon points="270.2,1054.1 276.2,1056.2 273.2,1063.4 267.2,1061.1" fill="#7a7dff" stroke="#7a7dff" stroke-width="0.8"/>
<polygon points="267.2,1061.1 273.2,1063.4 269.7,1070.5 263.9,1068.0" fill="#7058ff" stroke="#7058ff" stroke-width="0.8"/>
<polygon points="263.9,1068.0 269.7,1070.5 266.0,1077.4 260.3,1074.7" fill="#6736ff" stroke="#6736ff" stroke-width="0.8"/>
<polygon points="260.3,1074.7 266.0,1077.4 261.9,1084.2 256.3,1081.3" fill="#6015ff" stroke="#6015ff" stroke-width="0.8"/>
<polygon points="288.1,995.4 294.6,995.4 294.3,1003.4 287.9,1003.1" fill="#51ff15" stroke="#51ff15" stroke-width="0.8"/>
<polygon points="287.9,1003.1 294.3,1003.4 293.7,1011.4 287.3,1010.9" fill="#58ff36" stroke="#58ff36" stroke-width="0.8"/>
<polygon points="287.3,1010.9 293.7,1011.4 292.8,1019.4 286.4,1018.6" fill="#5fff58" stroke="#5fff58" stroke-width="0.8"/>
<polygon points="286.4,1018.6 292.8,1019.4 291.4,1027.3 285.1,1026.3" fill="#68ff7d" stroke="#68ff7d" stroke-width="0.8"/>
<polygon points="285.1,1026.3 291.4,1027.3 289.7,1035.1 283.4,1033.9" fill="#73ffa9" stroke="#73ffa9" stroke-width="0.8"/>
<polygon points="283.4,1033.9 289.7,1035.1 287.6,1042.9 281.4,1041.4" fill="#81ffdf" stroke="#81ffdf" stroke-width="0.8"/>
<polygon points="281.4,1041.4 287.6,1042.9 285.1,1050.6 279.0,1048.8" fill="#81dfff" stroke="#81dfff" stroke-width="0.8"/>
<polygon points="279.0,1048.8 285.1,1050.6 282.3,1058.2 276.2,1056.2" fill="#73a9ff" stroke="#73a9ff" stroke-width="0.8"/>
<polygon points="276.2,1056.2 282.3,1058.2 279.1,1065.7 273.2,1063.4" fill="#687dff" stroke="#687dff" stroke-width="0.8"/>
<polygon points="273.2,1063.4 279.1,1065.7 275.5,1073.0 269.7,1070.5" fill="#5f58ff" stroke="#5f58ff" stroke-width="0.8"/>
<polygon points="269.7,1070.5 275.5,1073.0 271.7,1080.2 266.0,1077.4" fill="#5836ff" stroke="#5836ff" stroke-width="0.8"/>
<polygon points="266.0,1077.4 271.7,1080.2 267.4,1087.2 261.9,1084.2" fill="#5115ff" stroke="#5115ff" stroke-width="0.8"/>
<polygon points="294.6,995.4 301.0,995.4 300.8,1003.7 294.3,1003.4" fill="#43ff15" stroke="#43ff15" stroke-width="0.8"/>
<polygon points="294.3,1003.4 300.8,1003.7 300.1,1011.9 293.7,1011.4" fill="#48ff36" stroke="#48ff36" stroke-width="0.8"/>
<polygon points="293.7,1011.4 300.1,1011.9 299.1,1020.1 292.8,1019.4" fill="#4fff58" stroke="#4fff58" stroke-width="0.8"/>
<polygon points="292.8,1019.4 299.1,1020.1 297.7,1028.3 291.4,1027.3" fill="#56ff7d" stroke="#56ff7d" stroke-width="0.8"/>
<polygon points="291.4,1027.3 297.7,1028.3 295.9,1036.4 289.7,1035.1" fill="#5fffa9" stroke="#5fffa9" stroke-width="0.8"/>
<polygon points="289.7,1035.1 295.9,1036.4 293.8,1044.4 287.6,1042.9" fill="#6affdf" stroke="#6affdf" stroke-width="0.8"/>
<polygon points="287.6,1042.9 293.8,1044.4 291.2,1052.4 285.1,1050.6" fill="#6adfff" stroke="#6adfff" stroke-width="0.8"/>
<polygon points="285.1,1050.6 291.2,1052.4 288.3,1060.2 282.3,1058.2" fill="#5fa9ff" stroke="#5fa9ff" stroke-width="0.8"/>
<polygon points="282.3,1058.2 288.3,1060.2 285.0,1067.9 279.1,1065.7" fill="#567dff" stroke="#567dff" stroke-width="0.8"/>
<polygon points="279.1,1065.7 285.0,1067.9 281.4,1075.5 275.5,1073.0" fill="#4f58ff" stroke="#4f58ff" stroke-width="0.8"/>
<polygon points="275.5,1073.0 281.4,1075.5 277.3,1082.9 271.7,1080.2" fill="#4836ff" stroke="#4836ff" stroke-width="0.8"/>
<polygon points="271.7,1080.2 277.3,1082.9 273.0,1090.2 267.4,1087.2" fill="#4315ff" stroke="#4315ff" stroke-width="0.8"/>
<polygon points="301.0,995.4 307.4,995.4 307.2,1003.9 300.8,1003.7" fill="#36ff15" stroke="#36ff15" stroke-width="0.8"/>
<polygon points="300.8,1003.7 307.2,1003.9 306.5,1012.4 300.1,1011.9" fill="#3aff36" stroke="#3aff36" stroke-width="0.8"/>
<polygon points="300.1,1011.9 306.5,1012.4 305.5,1020.9 299.1,1020.1" fill="#3eff58" stroke="#3eff58" stroke-width="0.8"/>
<polygon points="299.1,1020.1 305.5,1020.9 304.0,1029.3 297.7,1028.3" fill="#44ff7d" stroke="#44ff7d" stroke-width="0.8"/>
<polygon points="297.7,1028.3 304.0,1029.3 302.2,1037.7 295.9,1036.4" fill="#4bffa9" stroke="#4bffa9" stroke-width="0.8"/>
<polygon points="295.9,1036.4 302.2,1037.7 300.0,1046.0 293.8,1044.4" fill="#55ffdf" stroke="#55ffdf" stroke-width="0.8"/>
<polygon points="293.8,1044.4 300.0,1046.0 297.3,1054.2 291.2,1052.4" fill="#55dfff" stroke="#55dfff" stroke-width="0.8"/>
<polygon points="291.2,1052.4 297.3,1054.2 294.3,1062.2 288.3,1060.2" fill="#4ba9ff" stroke="#4ba9ff" stroke-width="0.8"/>
<polygon points="288.3,1060.2 294.3,1062.2 290.9,1070.2 285.0,1067.9" fill="#447dff" stroke="#447dff" stroke-width="0.8"/>
<polygon points="285.0,1067.9 290.9,1070.2 287.2,1078.0 281.4,1075.5" fill="#3e58ff" stroke="#3e58ff" stroke-width="0.8"/>
<polygon points="281.4,1075.5 287.2,1078.0 283.0,1085.6 277.3,1082.9" fill="#3a36ff" stroke="#3a36ff" stroke-width="0.8"/>
<polygon points="277.3,1082.9 283.0,1085.6 278.5,1093.1 273.0,1090.2" fill="#3615ff" stroke="#3615ff" stroke-width="0.8"/>
<polygon points="307.4,995.4 313.9,995.4 313.6,1004.2 307.2,1003.9" fill="#28ff15" stroke="#28ff15" stroke-width="0.8"/>
<polygon points="307.2,1003.9 313.6,1004.2 312.9,1012.9 306.5,1012.4" fill="#2bff36" stroke="#2bff36" stroke-width="0.8"/>
<polygon points="306.5,1012.4 312.9,1012.9 311.9,1021.7 305.5,1020.9" fill="#2eff58" stroke="#2eff58" stroke-width="0.8"/>
<polygon points="305.5,1020.9 311.9,1021.7 310.4,1030.4 304.0,1029.3" fill="#33ff7d" stroke="#33ff7d" stroke-width="0.8"/>
<polygon points="304.0,1029.3 310.4,1030.4 308.5,1039.0 302.2,1037.7" fill="#38ffa9" stroke="#38ffa9" stroke-width="0.8"/>
<polygon points="302.2,1037.7 308.5,1039.0 306.2,1047.5 300.0,1046.0" fill="#3fffdf" stroke="#3fffdf" stroke-width="0.8"/>
<polygon points="300.0,1046.0 306.2,1047.5 303.4,1055.9 297.3,1054.2" fill="#3fdfff" stroke="#3fdfff" stroke-width="0.8"/>
<polygon points="297.3,1054.2 303.4,1055.9 300.3,1064.3 294.3,1062.2" fill="#38a9ff" stroke="#38a9ff" stroke-width="0.8"/>
<polygon points="294.3,1062.2 300.3,1064.3 296.9,1072.5 290.9,1070.2" fill="#337dff" stroke="#337dff" stroke-width="0.8"/>
<polygon points="290.9,1070.2 296.9,1072.5 293.0,1080.5 287.2,1078.0" fill="#2e58ff" stroke="#2e58ff" stroke-width="0.8"/>
<polygon points="287.2,1078.0 293.0,1080.5 288.7,1088.4 283.0,1085.6" fill="#2b36ff" stroke="#2b36ff" stroke-width="0.8"/>
<polygon points="283.0,1085.6 288.7,1088.4 284.1,1096.1 278.5,1093.1" fill="#2815ff" stroke="#2815ff" stroke-width="0.8"/>
<polygon points="313.9,995.4 320.3,995.4 320.0,1004.4 313.6,1004.2" fill="#1aff15" stroke="#1aff15" stroke-width="0.8"/>
<polygon points="313.6,1004.2 320.0,1004.4 319.3,1013.5 312.9,1012.9" fill="#1cff36" stroke="#1cff36" stroke-width="0.8"/>
<polygon points="312.9,1012.9 319.3,1013.5 318.2,1022.5 311.9,1021.7" fill="#1eff58" stroke="#1eff58" stroke-width="0.8"/>
<polygon points="311.9,1021.7 318.2,1022.5 316.7,1031.4 310.4,1030.4" fill="#21ff7d" stroke="#21ff7d" stroke-width="0.8"/>
<polygon points="310.4,1030.4 316.7,1031.4 314.7,1040.3 308.5,1039.0" fill="#24ffa9" stroke="#24ffa9" stroke-width="0.8"/>
<polygon points="308.5,1039.0 314.7,1040.3 312.4,1049.0 306.2,1047.5" fill="#29ffdf" stroke="#29ffdf" stroke-width="0.8"/>
<polygon points="306.2,1047.5 312.4,1049.0 309.6,1057.7 303.4,1055.9" fill="#29dfff" stroke="#29dfff" stroke-width="0.8"/>
<polygon points="303.4,1055.9 309.6,1057.7 306.4,1066.3 300.3,1064.3" fill="#24a9ff" stroke="#24a9ff" stroke-width="0.8"/>
<polygon points="300.3,1064.3 306.4,1066.3 302.8,1074.7 296.9,1072.5" fill="#217dff" stroke="#217dff" stroke-width="0.8"/>
<polygon points="296.9,1072.5 302.8,1074.7 298.8,1083.0 293.0,1080.5" fill="#1e58ff" stroke="#1e58ff" stroke-width="0.8"/>
<polygon points="293.0,1080.5 298.8,1083.0 294.4,1091.1 288.7,1088.4" fill="#1c36ff" stroke="#1c36ff" stroke-width="0.8"/>
<polygon points="288.7,1088.4 294.4,1091.1 289.6,1099.0 284.1,1096.1" fill="#1a15ff" stroke="#1a15ff" stroke-width="0.8"/>
<polygon points="320.3,995.4 326.7,995.4 326.4,1004.7 320.0,1004.4" fill="#0aff15" stroke="#0aff15" stroke-width="0.8"/>
<polygon points="320.0,1004.4 326.4,1004.7 325.7,1014.0 319.3,1013.5" fill="#0bff36" stroke="#0bff36" stroke-width="0.8"/>
<polygon points="319.3,1013.5 325.7,1014.0 324.6,1023.2 318.2,1022.5" fill="#0cff58" stroke="#0cff58" stroke-width="0.8"/>
<polygon points="318.2,1022.5 324.6,1023.2 323.0,1032.4 316.7,1031.4" fill="#0dff7d" stroke="#0dff7d" stroke-width="0.8"/>
<polygon points="316.7,1031.4 323.0,1032.4 321.0,1041.5 314.7,1040.3" fill="#0fffa9" stroke="#0fffa9" stroke-width="0.8"/>
<polygon points="314.7,1040.3 321.0,1041.5 318.6,1050.6 312.4,1049.0" fill="#10ffdf" stroke="#10ffdf" stroke-width="0.8"/>
<polygon points="312.4,1049.0 318.6,1050.6 315.7,1059.5 309.6,1057.7" fill="#10dfff" stroke="#10dfff" stroke-width="0.8"/>
<polygon points="309.6,1057.7 315.7,1059.5 312.4,1068.3 306.4,1066.3" fill="#0fa9ff" stroke="#0fa9ff" stroke-width="0.8"/>
<polygon points="306.4,1066.3 312.4,1068.3 308.7,1077.0 302.8,1074.7" fill="#0d7dff" stroke="#0d7dff" stroke-width="0.8"/>
<polygon points="302.8,1074.7 308.7,1077.0 304.6,1085.5 298.8,1083.0" fill="#0c58ff" stroke="#0c58ff" stroke-width="0.8"/>
<polygon points="298.8,1083.0 304.6,1085.5 300.1,1093.8 294.4,1091.1" fill="#0b36ff" stroke="#0b36ff" stroke-width="0.8"/>
<polygon points="294.4,1091.1 300.1,1093.8 295.2,1102.0 289.6,1099.0" fill="#0a15ff" stroke="#0a15ff" stroke-width="0.8"/>
<path d="M95.4,995.4 L326.7,995.4 L326.5,1002.8 L326.1,1010.3 L325.3,1017.7 L324.3,1025.1 L323.0,1032.4 L321.4,1039.7 L319.6,1047.0 L317.5,1054.2 L315.1,1061.3 L312.4,1068.3 L309.5,1075.3 L306.3,1082.1 L302.8,1088.9 L299.1,1095.5 L295.2,1102.0 Z" fill="none" stroke="#000" stroke-width="1.6" stroke-linejoin="round"/>
<text x="69.9" y="983.1" font-family="'Liberation Serif','Times New Roman',serif" font-weight="bold" font-size="43">0001</text>
<text x="264.0" y="983.1" font-family="'Liberation Serif','Times New Roman',serif" font-weight="bold" font-size="44">11-20</text>
<text x="119.4" y="1114.5" font-family="'Liberation Serif','Times New Roman',serif" font-weight="bold" font-size="52">Y</text>
<text x="242.0" y="1140.9" font-family="'Liberation Serif','Times New Roman',serif" font-weight="bold" font-size="44">10-10</text>
<rect x="1250.1" y="945.7" width="323.9" height="203.2" fill="#fff"/>
<polygon points="1282.0,994.0 1288.4,994.0 1288.4,994.3 1282.0,994.0" fill="#ff0300" stroke="#ff0300" stroke-width="0.8"/>
<polygon points="1282.0,994.0 1288.4,994.3 1288.4,994.5 1282.0,994.0" fill="#ff0301" stroke="#ff0301" stroke-width="0.8"/>
<polygon points="1282.0,994.0 1288.4,994.5 1288.4,994.8 1282.0,994.0" fill="#ff0301" stroke="#ff0301" stroke-width="0.8"/>
<polygon points="1282.0,994.0 1288.4,994.8 1288.3,995.0 1282.0,994.0" fill="#ff0301" stroke="#ff0301" stroke-width="0.8"/>
<polygon points="1282.0,994.0 1288.3,995.0 1288.3,995.3 1282.0,994.0" fill="#ff0202" stroke="#ff0202" stroke-width="0.8"/>
<polygon points="1282.0,994.0 1288.3,995.3 1288.2,995.5 1282.0,994.0" fill="#ff0202" stroke="#ff0202" stroke-width="0.8"/>
<polygon points="1282.0,994.0 1288.2,995.5 1288.1,995.8 1282.0,994.0" fill="#ff0202" stroke="#ff0202" stroke-width="0.8"/>
<polygon points="1282.0,994.0 1288.1,995.8 1288.0,996.0 1282.0,994.0" fill="#ff0202" stroke="#ff0202" stroke-width="0.8"/>
<polygon points="1282.0,994.0 1288.0,996.0 1287.9,996.3 1282.0,994.0" fill="#ff0103" stroke="#ff0103" stroke-width="0.8"/>
<polygon points="1282.0,994.0 1287.9,996.3 1287.8,996.5 1282.0,994.0" fill="#ff0103" stroke="#ff0103" stroke-width="0.8"/>
<polygon points="1282.0,994.0 1287.8,996.5 1287.7,996.7 1282.0,994.0" fill="#ff0103" stroke="#ff0103" stroke-width="0.8"/>
<polygon points="1282.0,994.0 1287.7,996.7 1287.6,997.0 1282.0,994.0" fill="#ff0003" stroke="#ff0003" stroke-width="0.8"/>
<polygon points="1288.4,994.0 1294.9,994.0 1294.9,994.5 1288.4,994.3" fill="#ff0a01" stroke="#ff0a01" stroke-width="0.8"/>
<polygon points="1288.4,994.3 1294.9,994.5 1294.8,995.0 1288.4,994.5" fill="#ff0a02" stroke="#ff0a02" stroke-width="0.8"/>
<polygon points="1288.4,994.5 1294.8,995.0 1294.8,995.5 1288.4,994.8" fill="#ff0903" stroke="#ff0903" stroke-width="0.8"/>
<polygon points="1288.4,994.8 1294.8,995.5 1294.7,996.1 1288.3,995.0" fill="#ff0804" stroke="#ff0804" stroke-width="0.8"/>
<polygon points="1288.3,995.0 1294.7,996.1 1294.6,996.6 1288.3,995.3" fill="#ff0705" stroke="#ff0705" stroke-width="0.8"/>
<polygon points="1288.3,995.3 1294.6,996.6 1294.4,997.1 1288.2,995.5" fill="#ff0706" stroke="#ff0706" stroke-width="0.8"/>
<polygon points="1288.2,995.5 1294.4,997.1 1294.3,997.6 1288.1,995.8" fill="#ff0607" stroke="#ff0607" stroke-width="0.8"/>
<polygon points="1288.1,995.8 1294.3,997.6 1294.1,998.1 1288.0,996.0" fill="#ff0507" stroke="#ff0507" stroke-width="0.8"/>
<polygon points="1288.0,996.0 1294.1,998.1 1293.9,998.5 1287.9,996.3" fill="#ff0408" stroke="#ff0408" stroke-width="0.8"/>
<polygon points="1287.9,996.3 1293.9,998.5 1293.7,999.0 1287.8,996.5" fill="#ff0309" stroke="#ff0309" stroke-width="0.8"/>
<polygon points="1287.8,996.5 1293.7,999.0 1293.4,999.5 1287.7,996.7" fill="#ff020a" stroke="#ff020a" stroke-width="0.8"/>
<polygon points="1287.7,996.7 1293.4,999.5 1293.1,999.9 1287.6,997.0" fill="#ff010a" stroke="#ff010a" stroke-width="0.8"/>
<polygon points="1294.9,994.0 1301.3,994.0 1301.3,994.8 1294.9,994.5" fill="#ff1201" stroke="#ff1201" stroke-width="0.8"/>
<polygon points="1294.9,994.5 1301.3,994.8 1301.2,995.5 1294.8,995.0" fill="#ff1003" stroke="#ff1003" stroke-width="0.8"/>
<polygon points="1294.8,995.0 1301.2,995.5 1301.1,996.3 1294.8,995.5" fill="#ff0f05" stroke="#ff0f05" stroke-width="0.8"/>
<polygon points="1294.8,995.5 1301.1,996.3 1301.0,997.1 1294.7,996.1" fill="#ff0e07" stroke="#ff0e07" stroke-width="0.8"/>
<polygon points="1294.7,996.1 1301.0,997.1 1300.8,997.8 1294.6,996.6" fill="#ff0d08" stroke="#ff0d08" stroke-width="0.8"/>
<polygon points="1294.6,996.6 1300.8,997.8 1300.6,998.6 1294.4,997.1" fill="#ff0b0a" stroke="#ff0b0a" stroke-width="0.8"/>
<polygon points="1294.4,997.1 1300.6,998.6 1300.4,999.3 1294.3,997.6" fill="#ff0a0b" stroke="#ff0a0b" stroke-width="0.8"/>
<polygon points="1294.3,997.6 1300.4,999.3 1300.1,1000.1 1294.1,998.1" fill="#ff080d" stroke="#ff080d" stroke-width="0.8"/>
<polygon points="1294.1,998.1 1300.1,1000.1 1299.8,1000.8 1293.9,998.5" fill="#ff070e" stroke="#ff070e" stroke-width="0.8"/>
<polygon points="1293.9,998.5 1299.8,1000.8 1299.5,1001.5 1293.7,999.0" fill="#ff050f" stroke="#ff050f" stroke-width="0.8"/>
<polygon points="1293.7,999.0 1299.5,1001.5 1299.1,1002.2 1293.4,999.5" fill="#ff0310" stroke="#ff0310" stroke-width="0.8"/>
<polygon points="1293.4,999.5 1299.1,1002.2 1298.7,1002.9 1293.1,999.9" fill="#ff0112" stroke="#ff0112" stroke-width="0.8"/>
<polygon points="1301.3,994.0 1307.8,994.0 1307.7,995.0 1301.3,994.8" fill="#ff1902" stroke="#ff1902" stroke-width="0.8"/>
<polygon points="1301.3,994.8 1307.7,995.0 1307.7,996.1 1301.2,995.5" fill="#ff1705" stroke="#ff1705" stroke-width="0.8"/>
<polygon points="1301.2,995.5 1307.7,996.1 1307.5,997.1 1301.1,996.3" fill="#ff1607" stroke="#ff1607" stroke-width="0.8"/>
<polygon points="1301.1,996.3 1307.5,997.1 1307.4,998.1 1301.0,997.1" fill="#ff140a" stroke="#ff140a" stroke-width="0.8"/>
<polygon points="1301.0,997.1 1307.4,998.1 1307.1,999.1 1300.8,997.8" fill="#ff120c" stroke="#ff120c" stroke-width="0.8"/>
<polygon points="1300.8,997.8 1307.1,999.1 1306.9,1000.1 1300.6,998.6" fill="#ff100e" stroke="#ff100e" stroke-width="0.8"/>
<polygon points="1300.6,998.6 1306.9,1000.1 1306.5,1001.1 1300.4,999.3" fill="#ff0e10" stroke="#ff0e10" stroke-width="0.8"/>
<polygon points="1300.4,999.3 1306.5,1001.1 1306.2,1002.1 1300.1,1000.1" fill="#ff0c12" stroke="#ff0c12" stroke-width="0.8"/>
<polygon points="1300.1,1000.1 1306.2,1002.1 1305.8,1003.1 1299.8,1000.8" fill="#ff0a14" stroke="#ff0a14" stroke-width="0.8"/>
<polygon points="1299.8,1000.8 1305.8,1003.1 1305.3,1004.0 1299.5,1001.5" fill="#ff0716" stroke="#ff0716" stroke-width="0.8"/>
<polygon points="1299.5,1001.5 1305.3,1004.0 1304.8,1004.9 1299.1,1002.2" fill="#ff0517" stroke="#ff0517" stroke-width="0.8"/>
<polygon points="1299.1,1002.2 1304.8,1004.9 1304.3,1005.9 1298.7,1002.9" fill="#ff0219" stroke="#ff0219" stroke-width="0.8"/>
<polygon points="1307.8,994.0 1314.2,994.0 1314.2,995.3 1307.7,995.0" fill="#ff2103" stroke="#ff2103" stroke-width="0.8"/>
<polygon points="1307.7,995.0 1314.2,995.3 1314.1,996.6 1307.7,996.1" fill="#ff1e06" stroke="#ff1e06" stroke-width="0.8"/>
<polygon points="1307.7,996.1 1314.1,996.6 1313.9,997.9 1307.5,997.1" fill="#ff1c0a" stroke="#ff1c0a" stroke-width="0.8"/>
<polygon points="1307.5,997.1 1313.9,997.9 1313.7,999.1 1307.4,998.1" fill="#ff1a0d" stroke="#ff1a0d" stroke-width="0.8"/>
<polygon points="1307.4,998.1 1313.7,999.1 1313.4,1000.4 1307.1,999.1" fill="#ff170f" stroke="#ff170f" stroke-width="0.8"/>
<polygon points="1307.1,999.1 1313.4,1000.4 1313.1,1001.7 1306.9,1000.1" fill="#ff1512" stroke="#ff1512" stroke-width="0.8"/>
<polygon points="1306.9,1000.1 1313.1,1001.7 1312.7,1002.9 1306.5,1001.1" fill="#ff1215" stroke="#ff1215" stroke-width="0.8"/>
<polygon points="1306.5,1001.1 1312.7,1002.9 1312.2,1004.1 1306.2,1002.1" fill="#ff0f17" stroke="#ff0f17" stroke-width="0.8"/>
<polygon points="1306.2,1002.1 1312.2,1004.1 1311.7,1005.3 1305.8,1003.1" fill="#ff0d1a" stroke="#ff0d1a" stroke-width="0.8"/>
<polygon points="1305.8,1003.1 1311.7,1005.3 1311.1,1006.5 1305.3,1004.0" fill="#ff0a1c" stroke="#ff0a1c" stroke-width="0.8"/>
<polygon points="1305.3,1004.0 1311.1,1006.5 1310.5,1007.7 1304.8,1004.9" fill="#ff061e" stroke="#ff061e" stroke-width="0.8"/>
<polygon points="1304.8,1004.9 1310.5,1007.7 1309.8,1008.8 1304.3,1005.9" fill="#ff0321" stroke="#ff0321" stroke-width="0.8"/>
<polygon points="1314.2,994.0 1320.7,994.0 1320.6,995.6 1314.2,995.3" fill="#ff2903" stroke="#ff2903" stroke-width="0.8"/>
<polygon points="1314.2,995.3 1320.6,995.6 1320.5,997.1 1314.1,996.6" fill="#ff2608" stroke="#ff2608" stroke-width="0.8"/>
<polygon points="1314.1,996.6 1320.5,997.1 1320.3,998.6 1313.9,997.9" fill="#ff230c" stroke="#ff230c" stroke-width="0.8"/>
<polygon points="1313.9,997.9 1320.3,998.6 1320.0,1000.2 1313.7,999.1" fill="#ff2010" stroke="#ff2010" stroke-width="0.8"/>
<polygon points="1313.7,999.1 1320.0,1000.2 1319.7,1001.7 1313.4,1000.4" fill="#ff1d13" stroke="#ff1d13" stroke-width="0.8"/>
<polygon points="1313.4,1000.4 1319.7,1001.7 1319.3,1003.2 1313.1,1001.7" fill="#ff1a17" stroke="#ff1a17" stroke-width="0.8"/>
<polygon points="1313.1,1001.7 1319.3,1003.2 1318.8,1004.7 1312.7,1002.9" fill="#ff171a" stroke="#ff171a" stroke-width="0.8"/>
<polygon points="1312.7,1002.9 1318.8,1004.7 1318.3,1006.2 1312.2,1004.1" fill="#ff131d" stroke="#ff131d" stroke-width="0.8"/>
<polygon points="1312.2,1004.1 1318.3,1006.2 1317.6,1007.6 1311.7,1005.3" fill="#ff1020" stroke="#ff1020" stroke-width="0.8"/>
<polygon points="1311.7,1005.3 1317.6,1007.6 1317.0,1009.0 1311.1,1006.5" fill="#ff0c23" stroke="#ff0c23" stroke-width="0.8"/>
<polygon points="1311.1,1006.5 1317.0,1009.0 1316.2,1010.4 1310.5,1007.7" fill="#ff0826" stroke="#ff0826" stroke-width="0.8"/>
<polygon points="1310.5,1007.7 1316.2,1010.4 1315.4,1011.8 1309.8,1008.8" fill="#ff0329" stroke="#ff0329" stroke-width="0.8"/>
<polygon points="1320.7,994.0 1327.1,994.0 1327.0,995.8 1320.6,995.6" fill="#ff3104" stroke="#ff3104" stroke-width="0.8"/>
<polygon points="1320.6,995.6 1327.0,995.8 1326.9,997.6 1320.5,997.1" fill="#ff2e0a" stroke="#ff2e0a" stroke-width="0.8"/>
<polygon points="1320.5,997.1 1326.9,997.6 1326.7,999.4 1320.3,998.6" fill="#ff2a0f" stroke="#ff2a0f" stroke-width="0.8"/>
<polygon points="1320.3,998.6 1326.7,999.4 1326.4,1001.2 1320.0,1000.2" fill="#ff2713" stroke="#ff2713" stroke-width="0.8"/>
<polygon points="1320.0,1000.2 1326.4,1001.2 1326.0,1003.0 1319.7,1001.7" fill="#ff2317" stroke="#ff2317" stroke-width="0.8"/>
<polygon points="1319.7,1001.7 1326.0,1003.0 1325.5,1004.7 1319.3,1003.2" fill="#ff1f1b" stroke="#ff1f1b" stroke-width="0.8"/>
<polygon points="1319.3,1003.2 1325.5,1004.7 1324.9,1006.5 1318.8,1004.7" fill="#ff1b1f" stroke="#ff1b1f" stroke-width="0.8"/>
<polygon points="1318.8,1004.7 1324.9,1006.5 1324.3,1008.2 1318.3,1006.2" fill="#ff1723" stroke="#ff1723" stroke-width="0.8"/>
<polygon points="1318.3,1006.2 1324.3,1008.2 1323.6,1009.9 1317.6,1007.6" fill="#ff1327" stroke="#ff1327" stroke-width="0.8"/>
<polygon points="1317.6,1007.6 1323.6,1009.9 1322.8,1011.5 1317.0,1009.0" fill="#ff0f2a" stroke="#ff0f2a" stroke-width="0.8"/>
<polygon points="1317.0,1009.0 1322.8,1011.5 1321.9,1013.2 1316.2,1010.4" fill="#ff0a2e" stroke="#ff0a2e" stroke-width="0.8"/>
<polygon points="1316.2,1010.4 1321.9,1013.2 1320.9,1014.7 1315.4,1011.8" fill="#ff0431" stroke="#ff0431" stroke-width="0.8"/>
<polygon points="1327.1,994.0 1333.5,994.0 1333.5,996.1 1327.0,995.8" fill="#ff3a05" stroke="#ff3a05" stroke-width="0.8"/>
<polygon points="1327.0,995.8 1333.5,996.1 1333.3,998.1 1326.9,997.6" fill="#ff360b" stroke="#ff360b" stroke-width="0.8"/>
<polygon points="1326.9,997.6 1333.3,998.1 1333.1,1000.2 1326.7,999.4" fill="#ff3211" stroke="#ff3211" stroke-width="0.8"/>
<polygon points="1326.7,999.4 1333.1,1000.2 1332.7,1002.2 1326.4,1001.2" fill="#ff2e16" stroke="#ff2e16" stroke-width="0.8"/>
<polygon points="1326.4,1001.2 1332.7,1002.2 1332.3,1004.3 1326.0,1003.0" fill="#ff291b" stroke="#ff291b" stroke-width="0.8"/>
<polygon points="1326.0,1003.0 1332.3,1004.3 1331.7,1006.3 1325.5,1004.7" fill="#ff2520" stroke="#ff2520" stroke-width="0.8"/>
<polygon points="1325.5,1004.7 1331.7,1006.3 1331.1,1008.3 1324.9,1006.5" fill="#ff2025" stroke="#ff2025" stroke-width="0.8"/>
<polygon points="1324.9,1006.5 1331.1,1008.3 1330.3,1010.2 1324.3,1008.2" fill="#ff1b29" stroke="#ff1b29" stroke-width="0.8"/>
<polygon points="1324.3,1008.2 1330.3,1010.2 1329.5,1012.1 1323.6,1009.9" fill="#ff162e" stroke="#ff162e" stroke-width="0.8"/>
<polygon points="1323.6,1009.9 1329.5,1012.1 1328.6,1014.0 1322.8,1011.5" fill="#ff1132" stroke="#ff1132" stroke-width="0.8"/>
<polygon points="1322.8,1011.5 1328.6,1014.0 1327.6,1015.9 1321.9,1013.2" fill="#ff0b36" stroke="#ff0b36" stroke-width="0.8"/>
<polygon points="1321.9,1013.2 1327.6,1015.9 1326.5,1017.7 1320.9,1014.7" fill="#ff053a" stroke="#ff053a" stroke-width="0.8"/>
<polygon points="1333.5,994.0 1340.0,994.0 1339.9,996.3 1333.5,996.1" fill="#ff4305" stroke="#ff4305" stroke-width="0.8"/>
<polygon points="1333.5,996.1 1339.9,996.3 1339.7,998.6 1333.3,998.1" fill="#ff3e0d" stroke="#ff3e0d" stroke-width="0.8"/>
<polygon points="1333.3,998.1 1339.7,998.6 1339.4,1001.0 1333.1,1000.2" fill="#ff3a14" stroke="#ff3a14" stroke-width="0.8"/>
<polygon points="1333.1,1000.2 1339.4,1001.0 1339.0,1003.3 1332.7,1002.2" fill="#ff351a" stroke="#ff351a" stroke-width="0.8"/>
<polygon points="1332.7,1002.2 1339.0,1003.3 1338.5,1005.5 1332.3,1004.3" fill="#ff3020" stroke="#ff3020" stroke-width="0.8"/>
<polygon points="1332.3,1004.3 1338.5,1005.5 1337.9,1007.8 1331.7,1006.3" fill="#ff2b25" stroke="#ff2b25" stroke-width="0.8"/>
<polygon points="1331.7,1006.3 1337.9,1007.8 1337.2,1010.0 1331.1,1008.3" fill="#ff252b" stroke="#ff252b" stroke-width="0.8"/>
<polygon points="1331.1,1008.3 1337.2,1010.0 1336.4,1012.2 1330.3,1010.2" fill="#ff2030" stroke="#ff2030" stroke-width="0.8"/>
<polygon points="1330.3,1010.2 1336.4,1012.2 1335.5,1014.4 1329.5,1012.1" fill="#ff1a35" stroke="#ff1a35" stroke-width="0.8"/>
<polygon points="1329.5,1012.1 1335.5,1014.4 1334.4,1016.5 1328.6,1014.0" fill="#ff143a" stroke="#ff143a" stroke-width="0.8"/>
<polygon points="1328.6,1014.0 1334.4,1016.5 1333.3,1018.6 1327.6,1015.9" fill="#ff0d3e" stroke="#ff0d3e" stroke-width="0.8"/>
<polygon points="1327.6,1015.9 1333.3,1018.6 1332.1,1020.7 1326.5,1017.7" fill="#ff0543" stroke="#ff0543" stroke-width="0.8"/>
<polygon points="1340.0,994.0 1346.4,994.0 1346.3,996.6 1339.9,996.3" fill="#ff4d06" stroke="#ff4d06" stroke-width="0.8"/>
<polygon points="1339.9,996.3 1346.3,996.6 1346.1,999.2 1339.7,998.6" fill="#ff480f" stroke="#ff480f" stroke-width="0.8"/>
<polygon points="1339.7,998.6 1346.1,999.2 1345.8,1001.7 1339.4,1001.0" fill="#ff4217" stroke="#ff4217" stroke-width="0.8"/>
<polygon points="1339.4,1001.0 1345.8,1001.7 1345.4,1004.3 1339.0,1003.3" fill="#ff3c1e" stroke="#ff3c1e" stroke-width="0.8"/>
<polygon points="1339.0,1003.3 1345.4,1004.3 1344.8,1006.8 1338.5,1005.5" fill="#ff3724" stroke="#ff3724" stroke-width="0.8"/>
<polygon points="1338.5,1005.5 1344.8,1006.8 1344.1,1009.3 1337.9,1007.8" fill="#ff312b" stroke="#ff312b" stroke-width="0.8"/>
<polygon points="1337.9,1007.8 1344.1,1009.3 1343.3,1011.8 1337.2,1010.0" fill="#ff2b31" stroke="#ff2b31" stroke-width="0.8"/>
<polygon points="1337.2,1010.0 1343.3,1011.8 1342.4,1014.3 1336.4,1012.2" fill="#ff2437" stroke="#ff2437" stroke-width="0.8"/>
<polygon points="1336.4,1012.2 1342.4,1014.3 1341.4,1016.7 1335.5,1014.4" fill="#ff1e3c" stroke="#ff1e3c" stroke-width="0.8"/>
<polygon points="1335.5,1014.4 1341.4,1016.7 1340.3,1019.1 1334.4,1016.5" fill="#ff1742" stroke="#ff1742" stroke-width="0.8"/>
<polygon points="1334.4,1016.5 1340.3,1019.1 1339.0,1021.4 1333.3,1018.6" fill="#ff0f48" stroke="#ff0f48" stroke-width="0.8"/>
<polygon points="1333.3,1018.6 1339.0,1021.4 1337.6,1023.6 1332.1,1020.7" fill="#ff064d" stroke="#ff064d" stroke-width="0.8"/>
<polygon points="1346.4,994.0 1352.9,994.0 1352.8,996.8 1346.3,996.6" fill="#ff5707" stroke="#ff5707" stroke-width="0.8"/>
<polygon points="1346.3,996.6 1352.8,996.8 1352.6,999.7 1346.1,999.2" fill="#ff5111" stroke="#ff5111" stroke-width="0.8"/>
<polygon points="1346.1,999.2 1352.6,999.7 1352.2,1002.5 1345.8,1001.7" fill="#ff4b1a" stroke="#ff4b1a" stroke-width="0.8"/>
<polygon points="1345.8,1001.7 1352.2,1002.5 1351.7,1005.3 1345.4,1004.3" fill="#ff4422" stroke="#ff4422" stroke-width="0.8"/>
<polygon points="1345.4,1004.3 1351.7,1005.3 1351.1,1008.1 1344.8,1006.8" fill="#ff3e29" stroke="#ff3e29" stroke-width="0.8"/>
<polygon points="1344.8,1006.8 1351.1,1008.1 1350.4,1010.9 1344.1,1009.3" fill="#ff3730" stroke="#ff3730" stroke-width="0.8"/>
<polygon points="1344.1,1009.3 1350.4,1010.9 1349.5,1013.6 1343.3,1011.8" fill="#ff3037" stroke="#ff3037" stroke-width="0.8"/>
<polygon points="1343.3,1011.8 1349.5,1013.6 1348.5,1016.3 1342.4,1014.3" fill="#ff293e" stroke="#ff293e" stroke-width="0.8"/>
<polygon points="1342.4,1014.3 1348.5,1016.3 1347.3,1019.0 1341.4,1016.7" fill="#ff2244" stroke="#ff2244" stroke-width="0.8"/>
<polygon points="1341.4,1016.7 1347.3,1019.0 1346.1,1021.6 1340.3,1019.1" fill="#ff1a4b" stroke="#ff1a4b" stroke-width="0.8"/>
<polygon points="1340.3,1019.1 1346.1,1021.6 1344.7,1024.1 1339.0,1021.4" fill="#ff1151" stroke="#ff1151" stroke-width="0.8"/>
<polygon points="1339.0,1021.4 1344.7,1024.1 1343.2,1026.6 1337.6,1023.6" fill="#ff0757" stroke="#ff0757" stroke-width="0.8"/>
<polygon points="1352.9,994.0 1359.3,994.0 1359.2,997.1 1352.8,996.8" fill="#ff6208" stroke="#ff6208" stroke-width="0.8"/>
<polygon points="1352.8,996.8 1359.2,997.1 1359.0,1000.2 1352.6,999.7" fill="#ff5b13" stroke="#ff5b13" stroke-width="0.8"/>
<polygon points="1352.6,999.7 1359.0,1000.2 1358.6,1003.3 1352.2,1002.5" fill="#ff541d" stroke="#ff541d" stroke-width="0.8"/>
<polygon points="1352.2,1002.5 1358.6,1003.3 1358.1,1006.4 1351.7,1005.3" fill="#ff4d26" stroke="#ff4d26" stroke-width="0.8"/>
<polygon points="1351.7,1005.3 1358.1,1006.4 1357.4,1009.4 1351.1,1008.1" fill="#ff462e" stroke="#ff462e" stroke-width="0.8"/>
<polygon points="1351.1,1008.1 1357.4,1009.4 1356.6,1012.4 1350.4,1010.9" fill="#ff3e36" stroke="#ff3e36" stroke-width="0.8"/>
<polygon points="1350.4,1010.9 1356.6,1012.4 1355.6,1015.4 1349.5,1013.6" fill="#ff363e" stroke="#ff363e" stroke-width="0.8"/>
<polygon points="1349.5,1013.6 1355.6,1015.4 1354.5,1018.3 1348.5,1016.3" fill="#ff2e46" stroke="#ff2e46" stroke-width="0.8"/>
<polygon points="1348.5,1016.3 1354.5,1018.3 1353.3,1021.2 1347.3,1019.0" fill="#ff264d" stroke="#ff264d" stroke-width="0.8"/>
<polygon points="1347.3,1019.0 1353.3,1021.2 1351.9,1024.1 1346.1,1021.6" fill="#ff1d54" stroke="#ff1d54" stroke-width="0.8"/>
<polygon points="1346.1,1021.6 1351.9,1024.1 1350.4,1026.8 1344.7,1024.1" fill="#ff135b" stroke="#ff135b" stroke-width="0.8"/>
<polygon points="1344.7,1024.1 1350.4,1026.8 1348.8,1029.6 1343.2,1026.6" fill="#ff0862" stroke="#ff0862" stroke-width="0.8"/>
<polygon points="1359.3,994.0 1365.7,994.0 1365.6,997.4 1359.2,997.1" fill="#ff6e09" stroke="#ff6e09" stroke-width="0.8"/>
<polygon points="1359.2,997.1 1365.6,997.4 1365.4,1000.7 1359.0,1000.2" fill="#ff6615" stroke="#ff6615" stroke-width="0.8"/>
<polygon points="1359.0,1000.2 1365.4,1000.7 1365.0,1004.1 1358.6,1003.3" fill="#ff5e20" stroke="#ff5e20" stroke-width="0.8"/>
<polygon points="1358.6,1003.3 1365.0,1004.1 1364.4,1007.4 1358.1,1006.4" fill="#ff562a" stroke="#ff562a" stroke-width="0.8"/>
<polygon points="1358.1,1006.4 1364.4,1007.4 1363.7,1010.7 1357.4,1009.4" fill="#ff4e34" stroke="#ff4e34" stroke-width="0.8"/>
<polygon points="1357.4,1009.4 1363.7,1010.7 1362.8,1013.9 1356.6,1012.4" fill="#ff453d" stroke="#ff453d" stroke-width="0.8"/>
<polygon points="1356.6,1012.4 1362.8,1013.9 1361.8,1017.2 1355.6,1015.4" fill="#ff3d45" stroke="#ff3d45" stroke-width="0.8"/>
<polygon points="1355.6,1015.4 1361.8,1017.2 1360.6,1020.4 1354.5,1018.3" fill="#ff344e" stroke="#ff344e" stroke-width="0.8"/>
<polygon points="1354.5,1018.3 1360.6,1020.4 1359.2,1023.5 1353.3,1021.2" fill="#ff2a56" stroke="#ff2a56" stroke-width="0.8"/>
<polygon points="1353.3,1021.2 1359.2,1023.5 1357.7,1026.6 1351.9,1024.1" fill="#ff205e" stroke="#ff205e" stroke-width="0.8"/>
<polygon points="1351.9,1024.1 1357.7,1026.6 1356.1,1029.6 1350.4,1026.8" fill="#ff1566" stroke="#ff1566" stroke-width="0.8"/>
<polygon points="1350.4,1026.8 1356.1,1029.6 1354.3,1032.5 1348.8,1029.6" fill="#ff096e" stroke="#ff096e" stroke-width="0.8"/>
<polygon points="1365.7,994.0 1372.2,994.0 1372.1,997.6 1365.6,997.4" fill="#ff7a0a" stroke="#ff7a0a" stroke-width="0.8"/>
<polygon points="1365.6,997.4 1372.1,997.6 1371.8,1001.2 1365.4,1000.7" fill="#ff7118" stroke="#ff7118" stroke-width="0.8"/>
<polygon points="1365.4,1000.7 1371.8,1001.2 1371.4,1004.8 1365.0,1004.1" fill="#ff6924" stroke="#ff6924" stroke-width="0.8"/>
<polygon points="1365.0,1004.1 1371.4,1004.8 1370.7,1008.4 1364.4,1007.4" fill="#ff602f" stroke="#ff602f" stroke-width="0.8"/>
<polygon points="1364.4,1007.4 1370.7,1008.4 1370.0,1012.0 1363.7,1010.7" fill="#ff573a" stroke="#ff573a" stroke-width="0.8"/>
<polygon points="1363.7,1010.7 1370.0,1012.0 1369.0,1015.5 1362.8,1013.9" fill="#ff4d44" stroke="#ff4d44" stroke-width="0.8"/>
<polygon points="1362.8,1013.9 1369.0,1015.5 1367.9,1019.0 1361.8,1017.2" fill="#ff444d" stroke="#ff444d" stroke-width="0.8"/>
<polygon points="1361.8,1017.2 1367.9,1019.0 1366.6,1022.4 1360.6,1020.4" fill="#ff3a57" stroke="#ff3a57" stroke-width="0.8"/>
<polygon points="1360.6,1020.4 1366.6,1022.4 1365.2,1025.8 1359.2,1023.5" fill="#ff2f60" stroke="#ff2f60" stroke-width="0.8"/>
<polygon points="1359.2,1023.5 1365.2,1025.8 1363.6,1029.1 1357.7,1026.6" fill="#ff2469" stroke="#ff2469" stroke-width="0.8"/>
<polygon points="1357.7,1026.6 1363.6,1029.1 1361.8,1032.3 1356.1,1029.6" fill="#ff1871" stroke="#ff1871" stroke-width="0.8"/>
<polygon points="1356.1,1029.6 1361.8,1032.3 1359.9,1035.5 1354.3,1032.5" fill="#ff0a7a" stroke="#ff0a7a" stroke-width="0.8"/>
<polygon points="1372.2,994.0 1378.6,994.0 1378.5,997.9 1372.1,997.6" fill="#ff870b" stroke="#ff870b" stroke-width="0.8"/>
<polygon points="1372.1,997.6 1378.5,997.9 1378.2,1001.7 1371.8,1001.2" fill="#ff7e1b" stroke="#ff7e1b" stroke-width="0.8"/>
<polygon points="1371.8,1001.2 1378.2,1001.7 1377.7,1005.6 1371.4,1004.8" fill="#ff7428" stroke="#ff7428" stroke-width="0.8"/>
<polygon points="1371.4,1004.8 1377.7,1005.6 1377.1,1009.4 1370.7,1008.4" fill="#ff6a34" stroke="#ff6a34" stroke-width="0.8"/>
<polygon points="1370.7,1008.4 1377.1,1009.4 1376.2,1013.2 1370.0,1012.0" fill="#ff6040" stroke="#ff6040" stroke-width="0.8"/>
<polygon points="1370.0,1012.0 1376.2,1013.2 1375.2,1017.0 1369.0,1015.5" fill="#ff564b" stroke="#ff564b" stroke-width="0.8"/>
<polygon points="1369.0,1015.5 1375.2,1017.0 1374.0,1020.7 1367.9,1019.0" fill="#ff4b56" stroke="#ff4b56" stroke-width="0.8"/>
<polygon points="1367.9,1019.0 1374.0,1020.7 1372.6,1024.4 1366.6,1022.4" fill="#ff4060" stroke="#ff4060" stroke-width="0.8"/>
<polygon points="1366.6,1022.4 1372.6,1024.4 1371.1,1028.0 1365.2,1025.8" fill="#ff346a" stroke="#ff346a" stroke-width="0.8"/>
<polygon points="1365.2,1025.8 1371.1,1028.0 1369.4,1031.6 1363.6,1029.1" fill="#ff2874" stroke="#ff2874" stroke-width="0.8"/>
<polygon points="1363.6,1029.1 1369.4,1031.6 1367.5,1035.1 1361.8,1032.3" fill="#ff1b7e" stroke="#ff1b7e" stroke-width="0.8"/>
<polygon points="1361.8,1032.3 1367.5,1035.1 1365.5,1038.5 1359.9,1035.5" fill="#ff0b87" stroke="#ff0b87" stroke-width="0.8"/>
<polygon points="1378.6,994.0 1385.1,994.0 1384.9,998.1 1378.5,997.9" fill="#ff960c" stroke="#ff960c" stroke-width="0.8"/>
<polygon points="1378.5,997.9 1384.9,998.1 1384.6,1002.3 1378.2,1001.7" fill="#ff8b1d" stroke="#ff8b1d" stroke-width="0.8"/>
<polygon points="1378.2,1001.7 1384.6,1002.3 1384.1,1006.4 1377.7,1005.6" fill="#ff802c" stroke="#ff802c" stroke-width="0.8"/>
<polygon points="1377.7,1005.6 1384.1,1006.4 1383.4,1010.5 1377.1,1009.4" fill="#ff753a" stroke="#ff753a" stroke-width="0.8"/>
<polygon points="1377.1,1009.4 1383.4,1010.5 1382.5,1014.5 1376.2,1013.2" fill="#ff6a47" stroke="#ff6a47" stroke-width="0.8"/>
<polygon points="1376.2,1013.2 1382.5,1014.5 1381.4,1018.5 1375.2,1017.0" fill="#ff5f53" stroke="#ff5f53" stroke-width="0.8"/>
<polygon points="1375.2,1017.0 1381.4,1018.5 1380.2,1022.5 1374.0,1020.7" fill="#ff535f" stroke="#ff535f" stroke-width="0.8"/>
<polygon points="1374.0,1020.7 1380.2,1022.5 1378.7,1026.4 1372.6,1024.4" fill="#ff476a" stroke="#ff476a" stroke-width="0.8"/>
<polygon points="1372.6,1024.4 1378.7,1026.4 1377.0,1030.3 1371.1,1028.0" fill="#ff3a75" stroke="#ff3a75" stroke-width="0.8"/>
<polygon points="1371.1,1028.0 1377.0,1030.3 1375.2,1034.1 1369.4,1031.6" fill="#ff2c80" stroke="#ff2c80" stroke-width="0.8"/>
<polygon points="1369.4,1031.6 1375.2,1034.1 1373.2,1037.8 1367.5,1035.1" fill="#ff1d8b" stroke="#ff1d8b" stroke-width="0.8"/>
<polygon points="1367.5,1035.1 1373.2,1037.8 1371.0,1041.4 1365.5,1038.5" fill="#ff0c96" stroke="#ff0c96" stroke-width="0.8"/>
<polygon points="1385.1,994.0 1391.5,994.0 1391.4,998.4 1384.9,998.1" fill="#ffa50d" stroke="#ffa50d" stroke-width="0.8"/>
<polygon points="1384.9,998.1 1391.4,998.4 1391.0,1002.8 1384.6,1002.3" fill="#ff9920" stroke="#ff9920" stroke-width="0.8"/>
<polygon points="1384.6,1002.3 1391.0,1002.8 1390.5,1007.2 1384.1,1006.4" fill="#ff8e31" stroke="#ff8e31" stroke-width="0.8"/>
<polygon points="1384.1,1006.4 1390.5,1007.2 1389.8,1011.5 1383.4,1010.5" fill="#ff8240" stroke="#ff8240" stroke-width="0.8"/>
<polygon points="1383.4,1010.5 1389.8,1011.5 1388.8,1015.8 1382.5,1014.5" fill="#ff754e" stroke="#ff754e" stroke-width="0.8"/>
<polygon points="1382.5,1014.5 1388.8,1015.8 1387.6,1020.1 1381.4,1018.5" fill="#ff695b" stroke="#ff695b" stroke-width="0.8"/>
<polygon points="1381.4,1018.5 1387.6,1020.1 1386.3,1024.3 1380.2,1022.5" fill="#ff5b69" stroke="#ff5b69" stroke-width="0.8"/>
<polygon points="1380.2,1022.5 1386.3,1024.3 1384.7,1028.5 1378.7,1026.4" fill="#ff4e75" stroke="#ff4e75" stroke-width="0.8"/>
<polygon points="1378.7,1026.4 1384.7,1028.5 1383.0,1032.6 1377.0,1030.3" fill="#ff4082" stroke="#ff4082" stroke-width="0.8"/>
<polygon points="1377.0,1030.3 1383.0,1032.6 1381.0,1036.6 1375.2,1034.1" fill="#ff318e" stroke="#ff318e" stroke-width="0.8"/>
<polygon points="1375.2,1034.1 1381.0,1036.6 1378.9,1040.5 1373.2,1037.8" fill="#ff2099" stroke="#ff2099" stroke-width="0.8"/>
<polygon points="1373.2,1037.8 1378.9,1040.5 1376.6,1044.4 1371.0,1041.4" fill="#ff0da5" stroke="#ff0da5" stroke-width="0.8"/>
<polygon points="1391.5,994.0 1398.0,994.0 1397.8,998.7 1391.4,998.4" fill="#ffb60f" stroke="#ffb60f" stroke-width="0.8"/>
<polygon points="1391.4,998.4 1397.8,998.7 1397.5,1003.3 1391.0,1002.8" fill="#ffa924" stroke="#ffa924" stroke-width="0.8"/>
<polygon points="1391.0,1002.8 1397.5,1003.3 1396.9,1007.9 1390.5,1007.2" fill="#ff9c36" stroke="#ff9c36" stroke-width="0.8"/>
<polygon points="1390.5,1007.2 1396.9,1007.9 1396.1,1012.5 1389.8,1011.5" fill="#ff8f46" stroke="#ff8f46" stroke-width="0.8"/>
<polygon points="1389.8,1011.5 1396.1,1012.5 1395.1,1017.1 1388.8,1015.8" fill="#ff8156" stroke="#ff8156" stroke-width="0.8"/>
<polygon points="1388.8,1015.8 1395.1,1017.1 1393.9,1021.6 1387.6,1020.1" fill="#ff7365" stroke="#ff7365" stroke-width="0.8"/>
<polygon points="1387.6,1020.1 1393.9,1021.6 1392.4,1026.1 1386.3,1024.3" fill="#ff6573" stroke="#ff6573" stroke-width="0.8"/>
<polygon points="1386.3,1024.3 1392.4,1026.1 1390.8,1030.5 1384.7,1028.5" fill="#ff5681" stroke="#ff5681" stroke-width="0.8"/>
<polygon points="1384.7,1028.5 1390.8,1030.5 1388.9,1034.8 1383.0,1032.6" fill="#ff468f" stroke="#ff468f" stroke-width="0.8"/>
<polygon points="1383.0,1032.6 1388.9,1034.8 1386.9,1039.1 1381.0,1036.6" fill="#ff369c" stroke="#ff369c" stroke-width="0.8"/>
<polygon points="1381.0,1036.6 1386.9,1039.1 1384.6,1043.3 1378.9,1040.5" fill="#ff24a9" stroke="#ff24a9" stroke-width="0.8"/>
<polygon points="1378.9,1040.5 1384.6,1043.3 1382.2,1047.3 1376.6,1044.4" fill="#ff0fb6" stroke="#ff0fb6" stroke-width="0.8"/>
<polygon points="1398.0,994.0 1404.4,994.0 1404.3,998.9 1397.8,998.7" fill="#ffc810" stroke="#ffc810" stroke-width="0.8"/>
<polygon points="1397.8,998.7 1404.3,998.9 1403.9,1003.8 1397.5,1003.3" fill="#ffba27" stroke="#ffba27" stroke-width="0.8"/>
<polygon points="1397.5,1003.3 1403.9,1003.8 1403.3,1008.7 1396.9,1007.9" fill="#ffac3b" stroke="#ffac3b" stroke-width="0.8"/>
<polygon points="1396.9,1007.9 1403.3,1008.7 1402.4,1013.6 1396.1,1012.5" fill="#ff9d4d" stroke="#ff9d4d" stroke-width="0.8"/>
<polygon points="1396.1,1012.5 1402.4,1013.6 1401.4,1018.4 1395.1,1017.1" fill="#ff8e5e" stroke="#ff8e5e" stroke-width="0.8"/>
<polygon points="1395.1,1017.1 1401.4,1018.4 1400.1,1023.2 1393.9,1021.6" fill="#ff7f6f" stroke="#ff7f6f" stroke-width="0.8"/>
<polygon points="1393.9,1021.6 1400.1,1023.2 1398.6,1027.9 1392.4,1026.1" fill="#ff6f7f" stroke="#ff6f7f" stroke-width="0.8"/>
<polygon points="1392.4,1026.1 1398.6,1027.9 1396.8,1032.5 1390.8,1030.5" fill="#ff5e8e" stroke="#ff5e8e" stroke-width="0.8"/>
<polygon points="1390.8,1030.5 1396.8,1032.5 1394.9,1037.1 1388.9,1034.8" fill="#ff4d9d" stroke="#ff4d9d" stroke-width="0.8"/>
<polygon points="1388.9,1034.8 1394.9,1037.1 1392.7,1041.6 1386.9,1039.1" fill="#ff3bac" stroke="#ff3bac" stroke-width="0.8"/>
<polygon points="1386.9,1039.1 1392.7,1041.6 1390.3,1046.0 1384.6,1043.3" fill="#ff27ba" stroke="#ff27ba" stroke-width="0.8"/>
<polygon points="1384.6,1043.3 1390.3,1046.0 1387.7,1050.3 1382.2,1047.3" fill="#ff10c8" stroke="#ff10c8" stroke-width="0.8"/>
<polygon points="1404.4,994.0 1410.8,994.0 1410.7,999.2 1404.3,998.9" fill="#ffdc12" stroke="#ffdc12" stroke-width="0.8"/>
<polygon points="1404.3,998.9 1410.7,999.2 1410.3,1004.3 1403.9,1003.8" fill="#ffcd2b" stroke="#ffcd2b" stroke-width="0.8"/>
<polygon points="1403.9,1003.8 1410.3,1004.3 1409.7,1009.5 1403.3,1008.7" fill="#ffbd41" stroke="#ffbd41" stroke-width="0.8"/>
<polygon points="1403.3,1008.7 1409.7,1009.5 1408.8,1014.6 1402.4,1013.6" fill="#ffad55" stroke="#ffad55" stroke-width="0.8"/>
<polygon points="1402.4,1013.6 1408.8,1014.6 1407.7,1019.7 1401.4,1018.4" fill="#ff9c68" stroke="#ff9c68" stroke-width="0.8"/>
<polygon points="1401.4,1018.4 1407.7,1019.7 1406.3,1024.7 1400.1,1023.2" fill="#ff8b7a" stroke="#ff8b7a" stroke-width="0.8"/>
<polygon points="1400.1,1023.2 1406.3,1024.7 1404.7,1029.7 1398.6,1027.9" fill="#ff7a8b" stroke="#ff7a8b" stroke-width="0.8"/>
<polygon points="1398.6,1027.9 1404.7,1029.7 1402.9,1034.5 1396.8,1032.5" fill="#ff689c" stroke="#ff689c" stroke-width="0.8"/>
<polygon points="1396.8,1032.5 1402.9,1034.5 1400.8,1039.4 1394.9,1037.1" fill="#ff55ad" stroke="#ff55ad" stroke-width="0.8"/>
<polygon points="1394.9,1037.1 1400.8,1039.4 1398.5,1044.1 1392.7,1041.6" fill="#ff41bd" stroke="#ff41bd" stroke-width="0.8"/>
<polygon points="1392.7,1041.6 1398.5,1044.1 1396.0,1048.7 1390.3,1046.0" fill="#ff2bcd" stroke="#ff2bcd" stroke-width="0.8"/>
<polygon points="1390.3,1046.0 1396.0,1048.7 1393.3,1053.3 1387.7,1050.3" fill="#ff12dc" stroke="#ff12dc" stroke-width="0.8"/>
<polygon points="1410.8,994.0 1417.3,994.0 1417.1,999.4 1410.7,999.2" fill="#fff214" stroke="#fff214" stroke-width="0.8"/>
<polygon points="1410.7,999.2 1417.1,999.4 1416.7,1004.8 1410.3,1004.3" fill="#ffe12f" stroke="#ffe12f" stroke-width="0.8"/>
<polygon points="1410.3,1004.3 1416.7,1004.8 1416.0,1010.2 1409.7,1009.5" fill="#ffd047" stroke="#ffd047" stroke-width="0.8"/>
<polygon points="1409.7,1009.5 1416.0,1010.2 1415.1,1015.6 1408.8,1014.6" fill="#ffbe5e" stroke="#ffbe5e" stroke-width="0.8"/>
<polygon points="1408.8,1014.6 1415.1,1015.6 1413.9,1020.9 1407.7,1019.7" fill="#ffac72" stroke="#ffac72" stroke-width="0.8"/>
<polygon points="1407.7,1019.7 1413.9,1020.9 1412.5,1026.2 1406.3,1024.7" fill="#ff9a86" stroke="#ff9a86" stroke-width="0.8"/>
<polygon points="1406.3,1024.7 1412.5,1026.2 1410.8,1031.4 1404.7,1029.7" fill="#ff869a" stroke="#ff869a" stroke-width="0.8"/>
<polygon points="1404.7,1029.7 1410.8,1031.4 1408.9,1036.6 1402.9,1034.5" fill="#ff72ac" stroke="#ff72ac" stroke-width="0.8"/>
<polygon points="1402.9,1034.5 1408.9,1036.6 1406.7,1041.6 1400.8,1039.4" fill="#ff5ebe" stroke="#ff5ebe" stroke-width="0.8"/>
<polygon points="1400.8,1039.4 1406.7,1041.6 1404.3,1046.6 1398.5,1044.1" fill="#ff47d0" stroke="#ff47d0" stroke-width="0.8"/>
<polygon points="1398.5,1044.1 1404.3,1046.6 1401.7,1051.5 1396.0,1048.7" fill="#ff2fe1" stroke="#ff2fe1" stroke-width="0.8"/>
<polygon points="1396.0,1048.7 1401.7,1051.5 1398.8,1056.2 1393.3,1053.3" fill="#ff14f2" stroke="#ff14f2" stroke-width="0.8"/>
<polygon points="1417.3,994.0 1423.7,994.0 1423.6,999.7 1417.1,999.4" fill="#f4ff15" stroke="#f4ff15" stroke-width="0.8"/>
<polygon points="1417.1,999.4 1423.6,999.7 1423.1,1005.4 1416.7,1004.8" fill="#fff834" stroke="#fff834" stroke-width="0.8"/>
<polygon points="1416.7,1004.8 1423.1,1005.4 1422.4,1011.0 1416.0,1010.2" fill="#ffe54f" stroke="#ffe54f" stroke-width="0.8"/>
<polygon points="1416.0,1010.2 1422.4,1011.0 1421.5,1016.6 1415.1,1015.6" fill="#ffd267" stroke="#ffd267" stroke-width="0.8"/>
<polygon points="1415.1,1015.6 1421.5,1016.6 1420.2,1022.2 1413.9,1020.9" fill="#ffbe7e" stroke="#ffbe7e" stroke-width="0.8"/>
<polygon points="1413.9,1020.9 1420.2,1022.2 1418.7,1027.8 1412.5,1026.2" fill="#ffa994" stroke="#ffa994" stroke-width="0.8"/>
<polygon points="1412.5,1026.2 1418.7,1027.8 1417.0,1033.2 1410.8,1031.4" fill="#ff94a9" stroke="#ff94a9" stroke-width="0.8"/>
<polygon points="1410.8,1031.4 1417.0,1033.2 1414.9,1038.6 1408.9,1036.6" fill="#ff7ebe" stroke="#ff7ebe" stroke-width="0.8"/>
<polygon points="1408.9,1036.6 1414.9,1038.6 1412.7,1043.9 1406.7,1041.6" fill="#ff67d2" stroke="#ff67d2" stroke-width="0.8"/>
<polygon points="1406.7,1041.6 1412.7,1043.9 1410.2,1049.1 1404.3,1046.6" fill="#ff4fe5" stroke="#ff4fe5" stroke-width="0.8"/>
<polygon points="1404.3,1046.6 1410.2,1049.1 1407.4,1054.2 1401.7,1051.5" fill="#ff34f8" stroke="#ff34f8" stroke-width="0.8"/>
<polygon points="1401.7,1051.5 1407.4,1054.2 1404.4,1059.2 1398.8,1056.2" fill="#f415ff" stroke="#f415ff" stroke-width="0.8"/>
<polygon points="1423.7,994.0 1430.2,994.0 1430.0,999.9 1423.6,999.7" fill="#ddff15" stroke="#ddff15" stroke-width="0.8"/>
<polygon points="1423.6,999.7 1430.0,999.9 1429.5,1005.9 1423.1,1005.4" fill="#edff36" stroke="#edff36" stroke-width="0.8"/>
<polygon points="1423.1,1005.4 1429.5,1005.9 1428.8,1011.8 1422.4,1011.0" fill="#fffd57" stroke="#fffd57" stroke-width="0.8"/>
<polygon points="1422.4,1011.0 1428.8,1011.8 1427.8,1017.7 1421.5,1016.6" fill="#ffe772" stroke="#ffe772" stroke-width="0.8"/>
<polygon points="1421.5,1016.6 1427.8,1017.7 1426.5,1023.5 1420.2,1022.2" fill="#ffd18b" stroke="#ffd18b" stroke-width="0.8"/>
<polygon points="1420.2,1022.2 1426.5,1023.5 1424.9,1029.3 1418.7,1027.8" fill="#ffbba3" stroke="#ffbba3" stroke-width="0.8"/>
<polygon points="1418.7,1027.8 1424.9,1029.3 1423.1,1035.0 1417.0,1033.2" fill="#ffa3bb" stroke="#ffa3bb" stroke-width="0.8"/>
<polygon points="1417.0,1033.2 1423.1,1035.0 1421.0,1040.6 1414.9,1038.6" fill="#ff8bd1" stroke="#ff8bd1" stroke-width="0.8"/>
<polygon points="1414.9,1038.6 1421.0,1040.6 1418.6,1046.2 1412.7,1043.9" fill="#ff72e7" stroke="#ff72e7" stroke-width="0.8"/>
<polygon points="1412.7,1043.9 1418.6,1046.2 1416.0,1051.6 1410.2,1049.1" fill="#ff57fd" stroke="#ff57fd" stroke-width="0.8"/>
<polygon points="1410.2,1049.1 1416.0,1051.6 1413.1,1057.0 1407.4,1054.2" fill="#ed36ff" stroke="#ed36ff" stroke-width="0.8"/>
<polygon points="1407.4,1054.2 1413.1,1057.0 1410.0,1062.2 1404.4,1059.2" fill="#dd15ff" stroke="#dd15ff" stroke-width="0.8"/>
<polygon points="1430.2,994.0 1436.6,994.0 1436.4,1000.2 1430.0,999.9" fill="#c7ff15" stroke="#c7ff15" stroke-width="0.8"/>
<polygon points="1430.0,999.9 1436.4,1000.2 1435.9,1006.4 1429.5,1005.9" fill="#d6ff36" stroke="#d6ff36" stroke-width="0.8"/>
<polygon points="1429.5,1005.9 1435.9,1006.4 1435.2,1012.6 1428.8,1011.8" fill="#e8ff58" stroke="#e8ff58" stroke-width="0.8"/>
<polygon points="1428.8,1011.8 1435.2,1012.6 1434.1,1018.7 1427.8,1017.7" fill="#feff7d" stroke="#feff7d" stroke-width="0.8"/>
<polygon points="1427.8,1017.7 1434.1,1018.7 1432.8,1024.8 1426.5,1023.5" fill="#ffe89a" stroke="#ffe89a" stroke-width="0.8"/>
<polygon points="1426.5,1023.5 1432.8,1024.8 1431.1,1030.8 1424.9,1029.3" fill="#ffcfb5" stroke="#ffcfb5" stroke-width="0.8"/>
<polygon points="1424.9,1029.3 1431.1,1030.8 1429.2,1036.8 1423.1,1035.0" fill="#ffb5cf" stroke="#ffb5cf" stroke-width="0.8"/>
<polygon points="1423.1,1035.0 1429.2,1036.8 1427.0,1042.7 1421.0,1040.6" fill="#ff9ae8" stroke="#ff9ae8" stroke-width="0.8"/>
<polygon points="1421.0,1040.6 1427.0,1042.7 1424.6,1048.4 1418.6,1046.2" fill="#fe7dff" stroke="#fe7dff" stroke-width="0.8"/>
<polygon points="1418.6,1046.2 1424.6,1048.4 1421.8,1054.1 1416.0,1051.6" fill="#e858ff" stroke="#e858ff" stroke-width="0.8"/>
<polygon points="1416.0,1051.6 1421.8,1054.1 1418.8,1059.7 1413.1,1057.0" fill="#d636ff" stroke="#d636ff" stroke-width="0.8"/>
<polygon points="1413.1,1057.0 1418.8,1059.7 1415.5,1065.1 1410.0,1062.2" fill="#c715ff" stroke="#c715ff" stroke-width="0.8"/>
<polygon points="1436.6,994.0 1443.0,994.0 1442.9,1000.5 1436.4,1000.2" fill="#b3ff15" stroke="#b3ff15" stroke-width="0.8"/>
<polygon points="1436.4,1000.2 1442.9,1000.5 1442.4,1006.9 1435.9,1006.4" fill="#c1ff36" stroke="#c1ff36" stroke-width="0.8"/>
<polygon points="1435.9,1006.4 1442.4,1006.9 1441.6,1013.3 1435.2,1012.6" fill="#d1ff58" stroke="#d1ff58" stroke-width="0.8"/>
<polygon points="1435.2,1012.6 1441.6,1013.3 1440.5,1019.7 1434.1,1018.7" fill="#e5ff7d" stroke="#e5ff7d" stroke-width="0.8"/>
<polygon points="1434.1,1018.7 1440.5,1019.7 1439.1,1026.1 1432.8,1024.8" fill="#fdffa9" stroke="#fdffa9" stroke-width="0.8"/>
<polygon points="1432.8,1024.8 1439.1,1026.1 1437.4,1032.4 1431.1,1030.8" fill="#ffe6c9" stroke="#ffe6c9" stroke-width="0.8"/>
<polygon points="1431.1,1030.8 1437.4,1032.4 1435.4,1038.6 1429.2,1036.8" fill="#ffc9e6" stroke="#ffc9e6" stroke-width="0.8"/>
<polygon points="1429.2,1036.8 1435.4,1038.6 1433.1,1044.7 1427.0,1042.7" fill="#fda9ff" stroke="#fda9ff" stroke-width="0.8"/>
<polygon points="1427.0,1042.7 1433.1,1044.7 1430.5,1050.7 1424.6,1048.4" fill="#e57dff" stroke="#e57dff" stroke-width="0.8"/>
<polygon points="1424.6,1048.4 1430.5,1050.7 1427.6,1056.6 1421.8,1054.1" fill="#d158ff" stroke="#d158ff" stroke-width="0.8"/>
<polygon points="1421.8,1054.1 1427.6,1056.6 1424.5,1062.4 1418.8,1059.7" fill="#c136ff" stroke="#c136ff" stroke-width="0.8"/>
<polygon points="1418.8,1059.7 1424.5,1062.4 1421.1,1068.1 1415.5,1065.1" fill="#b315ff" stroke="#b315ff" stroke-width="0.8"/>
<polygon points="1443.0,994.0 1449.5,994.0 1449.3,1000.7 1442.9,1000.5" fill="#a1ff15" stroke="#a1ff15" stroke-width="0.8"/>
<polygon points="1442.9,1000.5 1449.3,1000.7 1448.8,1007.4 1442.4,1006.9" fill="#adff36" stroke="#adff36" stroke-width="0.8"/>
<polygon points="1442.4,1006.9 1448.8,1007.4 1448.0,1014.1 1441.6,1013.3" fill="#bbff58" stroke="#bbff58" stroke-width="0.8"/>
<polygon points="1441.6,1013.3 1448.0,1014.1 1446.8,1020.8 1440.5,1019.7" fill="#cdff7d" stroke="#cdff7d" stroke-width="0.8"/>
<polygon points="1440.5,1019.7 1446.8,1020.8 1445.3,1027.4 1439.1,1026.1" fill="#e2ffa9" stroke="#e2ffa9" stroke-width="0.8"/>
<polygon points="1439.1,1026.1 1445.3,1027.4 1443.6,1033.9 1437.4,1032.4" fill="#feffdf" stroke="#feffdf" stroke-width="0.8"/>
<polygon points="1437.4,1032.4 1443.6,1033.9 1441.5,1040.3 1435.4,1038.6" fill="#fedfff" stroke="#fedfff" stroke-width="0.8"/>
<polygon points="1435.4,1038.6 1441.5,1040.3 1439.1,1046.7 1433.1,1044.7" fill="#e2a9ff" stroke="#e2a9ff" stroke-width="0.8"/>
<polygon points="1433.1,1044.7 1439.1,1046.7 1436.4,1053.0 1430.5,1050.7" fill="#cd7dff" stroke="#cd7dff" stroke-width="0.8"/>
<polygon points="1430.5,1050.7 1436.4,1053.0 1433.5,1059.1 1427.6,1056.6" fill="#bb58ff" stroke="#bb58ff" stroke-width="0.8"/>
<polygon points="1427.6,1056.6 1433.5,1059.1 1430.2,1065.2 1424.5,1062.4" fill="#ad36ff" stroke="#ad36ff" stroke-width="0.8"/>
<polygon points="1424.5,1062.4 1430.2,1065.2 1426.7,1071.1 1421.1,1068.1" fill="#a115ff" stroke="#a115ff" stroke-width="0.8"/>
<polygon points="1449.5,994.0 1455.9,994.0 1455.7,1001.0 1449.3,1000.7" fill="#8fff15" stroke="#8fff15" stroke-width="0.8"/>
<polygon points="1449.3,1000.7 1455.7,1001.0 1455.2,1007.9 1448.8,1007.4" fill="#9aff36" stroke="#9aff36" stroke-width="0.8"/>
<polygon points="1448.8,1007.4 1455.2,1007.9 1454.3,1014.9 1448.0,1014.1" fill="#a7ff58" stroke="#a7ff58" stroke-width="0.8"/>
<polygon points="1448.0,1014.1 1454.3,1014.9 1453.1,1021.8 1446.8,1020.8" fill="#b7ff7d" stroke="#b7ff7d" stroke-width="0.8"/>
<polygon points="1446.8,1020.8 1453.1,1021.8 1451.6,1028.6 1445.3,1027.4" fill="#caffa9" stroke="#caffa9" stroke-width="0.8"/>
<polygon points="1445.3,1027.4 1451.6,1028.6 1449.8,1035.4 1443.6,1033.9" fill="#e2ffdf" stroke="#e2ffdf" stroke-width="0.8"/>
<polygon points="1443.6,1033.9 1449.8,1035.4 1447.6,1042.1 1441.5,1040.3" fill="#e2dfff" stroke="#e2dfff" stroke-width="0.8"/>
<polygon points="1441.5,1040.3 1447.6,1042.1 1445.2,1048.7 1439.1,1046.7" fill="#caa9ff" stroke="#caa9ff" stroke-width="0.8"/>
<polygon points="1439.1,1046.7 1445.2,1048.7 1442.4,1055.2 1436.4,1053.0" fill="#b77dff" stroke="#b77dff" stroke-width="0.8"/>
<polygon points="1436.4,1053.0 1442.4,1055.2 1439.3,1061.6 1433.5,1059.1" fill="#a758ff" stroke="#a758ff" stroke-width="0.8"/>
<polygon points="1433.5,1059.1 1439.3,1061.6 1435.9,1067.9 1430.2,1065.2" fill="#9a36ff" stroke="#9a36ff" stroke-width="0.8"/>
<polygon points="1430.2,1065.2 1435.9,1067.9 1432.2,1074.0 1426.7,1071.1" fill="#8f15ff" stroke="#8f15ff" stroke-width="0.8"/>
<polygon points="1455.9,994.0 1462.4,994.0 1462.2,1001.2 1455.7,1001.0" fill="#7fff15" stroke="#7fff15" stroke-width="0.8"/>
<polygon points="1455.7,1001.0 1462.2,1001.2 1461.6,1008.5 1455.2,1007.9" fill="#88ff36" stroke="#88ff36" stroke-width="0.8"/>
<polygon points="1455.2,1007.9 1461.6,1008.5 1460.7,1015.7 1454.3,1014.9" fill="#94ff58" stroke="#94ff58" stroke-width="0.8"/>
<polygon points="1454.3,1014.9 1460.7,1015.7 1459.5,1022.8 1453.1,1021.8" fill="#a2ff7d" stroke="#a2ff7d" stroke-width="0.8"/>
<polygon points="1453.1,1021.8 1459.5,1022.8 1457.9,1029.9 1451.6,1028.6" fill="#b3ffa9" stroke="#b3ffa9" stroke-width="0.8"/>
<polygon points="1451.6,1028.6 1457.9,1029.9 1456.0,1037.0 1449.8,1035.4" fill="#c8ffdf" stroke="#c8ffdf" stroke-width="0.8"/>
<polygon points="1449.8,1035.4 1456.0,1037.0 1453.8,1043.9 1447.6,1042.1" fill="#c8dfff" stroke="#c8dfff" stroke-width="0.8"/>
<polygon points="1447.6,1042.1 1453.8,1043.9 1451.2,1050.8 1445.2,1048.7" fill="#b3a9ff" stroke="#b3a9ff" stroke-width="0.8"/>
<polygon points="1445.2,1048.7 1451.2,1050.8 1448.3,1057.5 1442.4,1055.2" fill="#a27dff" stroke="#a27dff" stroke-width="0.8"/>
<polygon points="1442.4,1055.2 1448.3,1057.5 1445.1,1064.1 1439.3,1061.6" fill="#9458ff" stroke="#9458ff" stroke-width="0.8"/>
<polygon points="1439.3,1061.6 1445.1,1064.1 1441.6,1070.6 1435.9,1067.9" fill="#8836ff" stroke="#8836ff" stroke-width="0.8"/>
<polygon points="1435.9,1067.9 1441.6,1070.6 1437.8,1077.0 1432.2,1074.0" fill="#7f15ff" stroke="#7f15ff" stroke-width="0.8"/>
<polygon points="1462.4,994.0 1468.8,994.0 1468.6,1001.5 1462.2,1001.2" fill="#6fff15" stroke="#6fff15" stroke-width="0.8"/>
<polygon points="1462.2,1001.2 1468.6,1001.5 1468.0,1009.0 1461.6,1008.5" fill="#77ff36" stroke="#77ff36" stroke-width="0.8"/>
<polygon points="1461.6,1008.5 1468.0,1009.0 1467.1,1016.4 1460.7,1015.7" fill="#81ff58" stroke="#81ff58" stroke-width="0.8"/>
<polygon points="1460.7,1015.7 1467.1,1016.4 1465.8,1023.9 1459.5,1022.8" fill="#8dff7d" stroke="#8dff7d" stroke-width="0.8"/>
<polygon points="1459.5,1022.8 1465.8,1023.9 1464.2,1031.2 1457.9,1029.9" fill="#9cffa9" stroke="#9cffa9" stroke-width="0.8"/>
<polygon points="1457.9,1029.9 1464.2,1031.2 1462.2,1038.5 1456.0,1037.0" fill="#afffdf" stroke="#afffdf" stroke-width="0.8"/>
<polygon points="1456.0,1037.0 1462.2,1038.5 1459.9,1045.7 1453.8,1043.9" fill="#afdfff" stroke="#afdfff" stroke-width="0.8"/>
<polygon points="1453.8,1043.9 1459.9,1045.7 1457.2,1052.8 1451.2,1050.8" fill="#9ca9ff" stroke="#9ca9ff" stroke-width="0.8"/>
<polygon points="1451.2,1050.8 1457.2,1052.8 1454.3,1059.8 1448.3,1057.5" fill="#8d7dff" stroke="#8d7dff" stroke-width="0.8"/>
<polygon points="1448.3,1057.5 1454.3,1059.8 1450.9,1066.7 1445.1,1064.1" fill="#8158ff" stroke="#8158ff" stroke-width="0.8"/>
<polygon points="1445.1,1064.1 1450.9,1066.7 1447.3,1073.4 1441.6,1070.6" fill="#7736ff" stroke="#7736ff" stroke-width="0.8"/>
<polygon points="1441.6,1070.6 1447.3,1073.4 1443.4,1080.0 1437.8,1077.0" fill="#6f15ff" stroke="#6f15ff" stroke-width="0.8"/>
<polygon points="1468.8,994.0 1475.2,994.0 1475.0,1001.8 1468.6,1001.5" fill="#60ff15" stroke="#60ff15" stroke-width="0.8"/>
<polygon points="1468.6,1001.5 1475.0,1001.8 1474.4,1009.5 1468.0,1009.0" fill="#67ff36" stroke="#67ff36" stroke-width="0.8"/>
<polygon points="1468.0,1009.0 1474.4,1009.5 1473.5,1017.2 1467.1,1016.4" fill="#70ff58" stroke="#70ff58" stroke-width="0.8"/>
<polygon points="1467.1,1016.4 1473.5,1017.2 1472.2,1024.9 1465.8,1023.9" fill="#7aff7d" stroke="#7aff7d" stroke-width="0.8"/>
<polygon points="1465.8,1023.9 1472.2,1024.9 1470.5,1032.5 1464.2,1031.2" fill="#87ffa9" stroke="#87ffa9" stroke-width="0.8"/>
<polygon points="1464.2,1031.2 1470.5,1032.5 1468.4,1040.0 1462.2,1038.5" fill="#98ffdf" stroke="#98ffdf" stroke-width="0.8"/>
<polygon points="1462.2,1038.5 1468.4,1040.0 1466.0,1047.5 1459.9,1045.7" fill="#98dfff" stroke="#98dfff" stroke-width="0.8"/>
<polygon points="1459.9,1045.7 1466.0,1047.5 1463.3,1054.8 1457.2,1052.8" fill="#87a9ff" stroke="#87a9ff" stroke-width="0.8"/>
<polygon points="1457.2,1052.8 1463.3,1054.8 1460.2,1062.1 1454.3,1059.8" fill="#7a7dff" stroke="#7a7dff" stroke-width="0.8"/>
<polygon points="1454.3,1059.8 1460.2,1062.1 1456.8,1069.2 1450.9,1066.7" fill="#7058ff" stroke="#7058ff" stroke-width="0.8"/>
<polygon points="1450.9,1066.7 1456.8,1069.2 1453.0,1076.1 1447.3,1073.4" fill="#6736ff" stroke="#6736ff" stroke-width="0.8"/>
<polygon points="1447.3,1073.4 1453.0,1076.1 1448.9,1082.9 1443.4,1080.0" fill="#6015ff" stroke="#6015ff" stroke-width="0.8"/>
<polygon points="1475.2,994.0 1481.7,994.0 1481.5,1002.0 1475.0,1001.8" fill="#51ff15" stroke="#51ff15" stroke-width="0.8"/>
<polygon points="1475.0,1001.8 1481.5,1002.0 1480.9,1010.0 1474.4,1009.5" fill="#58ff36" stroke="#58ff36" stroke-width="0.8"/>
<polygon points="1474.4,1009.5 1480.9,1010.0 1479.9,1018.0 1473.5,1017.2" fill="#5fff58" stroke="#5fff58" stroke-width="0.8"/>
<polygon points="1473.5,1017.2 1479.9,1018.0 1478.5,1025.9 1472.2,1024.9" fill="#68ff7d" stroke="#68ff7d" stroke-width="0.8"/>
<polygon points="1472.2,1024.9 1478.5,1025.9 1476.8,1033.8 1470.5,1032.5" fill="#73ffa9" stroke="#73ffa9" stroke-width="0.8"/>
<polygon points="1470.5,1032.5 1476.8,1033.8 1474.7,1041.6 1468.4,1040.0" fill="#81ffdf" stroke="#81ffdf" stroke-width="0.8"/>
<polygon points="1468.4,1040.0 1474.7,1041.6 1472.2,1049.3 1466.0,1047.5" fill="#81dfff" stroke="#81dfff" stroke-width="0.8"/>
<polygon points="1466.0,1047.5 1472.2,1049.3 1469.3,1056.9 1463.3,1054.8" fill="#73a9ff" stroke="#73a9ff" stroke-width="0.8"/>
<polygon points="1463.3,1054.8 1469.3,1056.9 1466.1,1064.3 1460.2,1062.1" fill="#687dff" stroke="#687dff" stroke-width="0.8"/>
<polygon points="1460.2,1062.1 1466.1,1064.3 1462.6,1071.7 1456.8,1069.2" fill="#5f58ff" stroke="#5f58ff" stroke-width="0.8"/>
<polygon points="1456.8,1069.2 1462.6,1071.7 1458.7,1078.9 1453.0,1076.1" fill="#5836ff" stroke="#5836ff" stroke-width="0.8"/>
<polygon points="1453.0,1076.1 1458.7,1078.9 1454.5,1085.9 1448.9,1082.9" fill="#5115ff" stroke="#5115ff" stroke-width="0.8"/>
<polygon points="1481.7,994.0 1488.1,994.0 1487.9,1002.3 1481.5,1002.0" fill="#43ff15" stroke="#43ff15" stroke-width="0.8"/>
<polygon points="1481.5,1002.0 1487.9,1002.3 1487.3,1010.5 1480.9,1010.0" fill="#48ff36" stroke="#48ff36" stroke-width="0.8"/>
<polygon points="1480.9,1010.0 1487.3,1010.5 1486.2,1018.8 1479.9,1018.0" fill="#4fff58" stroke="#4fff58" stroke-width="0.8"/>
<polygon points="1479.9,1018.0 1486.2,1018.8 1484.8,1026.9 1478.5,1025.9" fill="#56ff7d" stroke="#56ff7d" stroke-width="0.8"/>
<polygon points="1478.5,1025.9 1484.8,1026.9 1483.0,1035.1 1476.8,1033.8" fill="#5fffa9" stroke="#5fffa9" stroke-width="0.8"/>
<polygon points="1476.8,1033.8 1483.0,1035.1 1480.9,1043.1 1474.7,1041.6" fill="#6affdf" stroke="#6affdf" stroke-width="0.8"/>
<polygon points="1474.7,1041.6 1480.9,1043.1 1478.3,1051.0 1472.2,1049.3" fill="#6adfff" stroke="#6adfff" stroke-width="0.8"/>
<polygon points="1472.2,1049.3 1478.3,1051.0 1475.4,1058.9 1469.3,1056.9" fill="#5fa9ff" stroke="#5fa9ff" stroke-width="0.8"/>
<polygon points="1469.3,1056.9 1475.4,1058.9 1472.1,1066.6 1466.1,1064.3" fill="#567dff" stroke="#567dff" stroke-width="0.8"/>
<polygon points="1466.1,1064.3 1472.1,1066.6 1468.4,1074.2 1462.6,1071.7" fill="#4f58ff" stroke="#4f58ff" stroke-width="0.8"/>
<polygon points="1462.6,1071.7 1468.4,1074.2 1464.4,1081.6 1458.7,1078.9" fill="#4836ff" stroke="#4836ff" stroke-width="0.8"/>
<polygon points="1458.7,1078.9 1464.4,1081.6 1460.0,1088.8 1454.5,1085.9" fill="#4315ff" stroke="#4315ff" stroke-width="0.8"/>
<polygon points="1488.1,994.0 1494.6,994.0 1494.3,1002.5 1487.9,1002.3" fill="#36ff15" stroke="#36ff15" stroke-width="0.8"/>
<polygon points="1487.9,1002.3 1494.3,1002.5 1493.7,1011.0 1487.3,1010.5" fill="#3aff36" stroke="#3aff36" stroke-width="0.8"/>
<polygon points="1487.3,1010.5 1493.7,1011.0 1492.6,1019.5 1486.2,1018.8" fill="#3eff58" stroke="#3eff58" stroke-width="0.8"/>
<polygon points="1486.2,1018.8 1492.6,1019.5 1491.2,1028.0 1484.8,1026.9" fill="#44ff7d" stroke="#44ff7d" stroke-width="0.8"/>
<polygon points="1484.8,1026.9 1491.2,1028.0 1489.3,1036.3 1483.0,1035.1" fill="#4bffa9" stroke="#4bffa9" stroke-width="0.8"/>
<polygon points="1483.0,1035.1 1489.3,1036.3 1487.1,1044.6 1480.9,1043.1" fill="#55ffdf" stroke="#55ffdf" stroke-width="0.8"/>
<polygon points="1480.9,1043.1 1487.1,1044.6 1484.4,1052.8 1478.3,1051.0" fill="#55dfff" stroke="#55dfff" stroke-width="0.8"/>
<polygon points="1478.3,1051.0 1484.4,1052.8 1481.4,1060.9 1475.4,1058.9" fill="#4ba9ff" stroke="#4ba9ff" stroke-width="0.8"/>
<polygon points="1475.4,1058.9 1481.4,1060.9 1478.0,1068.9 1472.1,1066.6" fill="#447dff" stroke="#447dff" stroke-width="0.8"/>
<polygon points="1472.1,1066.6 1478.0,1068.9 1474.2,1076.7 1468.4,1074.2" fill="#3e58ff" stroke="#3e58ff" stroke-width="0.8"/>
<polygon points="1468.4,1074.2 1474.2,1076.7 1470.1,1084.3 1464.4,1081.6" fill="#3a36ff" stroke="#3a36ff" stroke-width="0.8"/>
<polygon points="1464.4,1081.6 1470.1,1084.3 1465.6,1091.8 1460.0,1088.8" fill="#3615ff" stroke="#3615ff" stroke-width="0.8"/>
<polygon points="1494.6,994.0 1501.0,994.0 1500.8,1002.8 1494.3,1002.5" fill="#28ff15" stroke="#28ff15" stroke-width="0.8"/>
<polygon points="1494.3,1002.5 1500.8,1002.8 1500.1,1011.6 1493.7,1011.0" fill="#2bff36" stroke="#2bff36" stroke-width="0.8"/>
<polygon points="1493.7,1011.0 1500.1,1011.6 1499.0,1020.3 1492.6,1019.5" fill="#2eff58" stroke="#2eff58" stroke-width="0.8"/>
<polygon points="1492.6,1019.5 1499.0,1020.3 1497.5,1029.0 1491.2,1028.0" fill="#33ff7d" stroke="#33ff7d" stroke-width="0.8"/>
<polygon points="1491.2,1028.0 1497.5,1029.0 1495.6,1037.6 1489.3,1036.3" fill="#38ffa9" stroke="#38ffa9" stroke-width="0.8"/>
<polygon points="1489.3,1036.3 1495.6,1037.6 1493.3,1046.2 1487.1,1044.6" fill="#3fffdf" stroke="#3fffdf" stroke-width="0.8"/>
<polygon points="1487.1,1044.6 1493.3,1046.2 1490.6,1054.6 1484.4,1052.8" fill="#3fdfff" stroke="#3fdfff" stroke-width="0.8"/>
<polygon points="1484.4,1052.8 1490.6,1054.6 1487.5,1062.9 1481.4,1060.9" fill="#38a9ff" stroke="#38a9ff" stroke-width="0.8"/>
<polygon points="1481.4,1060.9 1487.5,1062.9 1484.0,1071.1 1478.0,1068.9" fill="#337dff" stroke="#337dff" stroke-width="0.8"/>
<polygon points="1478.0,1068.9 1484.0,1071.1 1480.1,1079.2 1474.2,1076.7" fill="#2e58ff" stroke="#2e58ff" stroke-width="0.8"/>
<polygon points="1474.2,1076.7 1480.1,1079.2 1475.8,1087.1 1470.1,1084.3" fill="#2b36ff" stroke="#2b36ff" stroke-width="0.8"/>
<polygon points="1470.1,1084.3 1475.8,1087.1 1471.2,1094.8 1465.6,1091.8" fill="#2815ff" stroke="#2815ff" stroke-width="0.8"/>
<polygon points="1501.0,994.0 1507.5,994.0 1507.2,1003.0 1500.8,1002.8" fill="#1aff15" stroke="#1aff15" stroke-width="0.8"/>
<polygon points="1500.8,1002.8 1507.2,1003.0 1506.5,1012.1 1500.1,1011.6" fill="#1cff36" stroke="#1cff36" stroke-width="0.8"/>
<polygon points="1500.1,1011.6 1506.5,1012.1 1505.4,1021.1 1499.0,1020.3" fill="#1eff58" stroke="#1eff58" stroke-width="0.8"/>
<polygon points="1499.0,1020.3 1505.4,1021.1 1503.9,1030.0 1497.5,1029.0" fill="#21ff7d" stroke="#21ff7d" stroke-width="0.8"/>
<polygon points="1497.5,1029.0 1503.9,1030.0 1501.9,1038.9 1495.6,1037.6" fill="#24ffa9" stroke="#24ffa9" stroke-width="0.8"/>
<polygon points="1495.6,1037.6 1501.9,1038.9 1499.5,1047.7 1493.3,1046.2" fill="#29ffdf" stroke="#29ffdf" stroke-width="0.8"/>
<polygon points="1493.3,1046.2 1499.5,1047.7 1496.7,1056.4 1490.6,1054.6" fill="#29dfff" stroke="#29dfff" stroke-width="0.8"/>
<polygon points="1490.6,1054.6 1496.7,1056.4 1493.5,1065.0 1487.5,1062.9" fill="#24a9ff" stroke="#24a9ff" stroke-width="0.8"/>
<polygon points="1487.5,1062.9 1493.5,1065.0 1489.9,1073.4 1484.0,1071.1" fill="#217dff" stroke="#217dff" stroke-width="0.8"/>
<polygon points="1484.0,1071.1 1489.9,1073.4 1485.9,1081.7 1480.1,1079.2" fill="#1e58ff" stroke="#1e58ff" stroke-width="0.8"/>
<polygon points="1480.1,1079.2 1485.9,1081.7 1481.5,1089.8 1475.8,1087.1" fill="#1c36ff" stroke="#1c36ff" stroke-width="0.8"/>
<polygon points="1475.8,1087.1 1481.5,1089.8 1476.7,1097.7 1471.2,1094.8" fill="#1a15ff" stroke="#1a15ff" stroke-width="0.8"/>
<polygon points="1507.5,994.0 1513.9,994.0 1513.6,1003.3 1507.2,1003.0" fill="#0aff15" stroke="#0aff15" stroke-width="0.8"/>
<polygon points="1507.2,1003.0 1513.6,1003.3 1512.9,1012.6 1506.5,1012.1" fill="#0bff36" stroke="#0bff36" stroke-width="0.8"/>
<polygon points="1506.5,1012.1 1512.9,1012.6 1511.8,1021.9 1505.4,1021.1" fill="#0cff58" stroke="#0cff58" stroke-width="0.8"/>
<polygon points="1505.4,1021.1 1511.8,1021.9 1510.2,1031.1 1503.9,1030.0" fill="#0dff7d" stroke="#0dff7d" stroke-width="0.8"/>
<polygon points="1503.9,1030.0 1510.2,1031.1 1508.2,1040.2 1501.9,1038.9" fill="#0fffa9" stroke="#0fffa9" stroke-width="0.8"/>
<polygon points="1501.9,1038.9 1508.2,1040.2 1505.7,1049.2 1499.5,1047.7" fill="#10ffdf" stroke="#10ffdf" stroke-width="0.8"/>
<polygon points="1499.5,1047.7 1505.7,1049.2 1502.8,1058.2 1496.7,1056.4" fill="#10dfff" stroke="#10dfff" stroke-width="0.8"/>
<polygon points="1496.7,1056.4 1502.8,1058.2 1499.6,1067.0 1493.5,1065.0" fill="#0fa9ff" stroke="#0fa9ff" stroke-width="0.8"/>
<polygon points="1493.5,1065.0 1499.6,1067.0 1495.8,1075.7 1489.9,1073.4" fill="#0d7dff" stroke="#0d7dff" stroke-width="0.8"/>
<polygon points="1489.9,1073.4 1495.8,1075.7 1491.7,1084.2 1485.9,1081.7" fill="#0c58ff" stroke="#0c58ff" stroke-width="0.8"/>
<polygon points="1485.9,1081.7 1491.7,1084.2 1487.2,1092.5 1481.5,1089.8" fill="#0b36ff" stroke="#0b36ff" stroke-width="0.8"/>
<polygon points="1481.5,1089.8 1487.2,1092.5 1482.3,1100.7 1476.7,1097.7" fill="#0a15ff" stroke="#0a15ff" stroke-width="0.8"/>
<path d="M1282.0,994.0 L1513.9,994.0 L1513.7,1001.4 L1513.3,1008.9 L1512.5,1016.3 L1511.5,1023.7 L1510.2,1031.1 L1508.6,1038.4 L1506.8,1045.6 L1504.6,1052.8 L1502.2,1059.9 L1499.6,1067.0 L1496.6,1073.9 L1493.4,1080.8 L1490.0,1087.5 L1486.3,1094.2 L1482.3,1100.7 Z" fill="none" stroke="#000" stroke-width="1.6" stroke-linejoin="round"/>
<text x="1256.7" y="981.6" font-family="'Liberation Serif','Times New Roman',serif" font-weight="bold" font-size="43">0001</text>
<text x="1451.1" y="981.6" font-family="'Liberation Serif','Times New Roman',serif" font-weight="bold" font-size="44">11-20</text>
<text x="1304.8" y="1112.5" font-family="'Liberation Serif','Times New Roman',serif" font-weight="bold" font-size="54">Z</text>
<text x="1428.2" y="1139.3" font-family="'Liberation Serif','Times New Roman',serif" font-weight="bold" font-size="44">10-10</text>
<rect x="950.7" y="1034.4" width="216.9" height="119.0" fill="#fff"/>
<text x="956.5" y="1103.0" font-family="'Liberation Serif','Times New Roman',serif" font-weight="bold" font-size="70">200μm</text>
<rect x="969.8" y="1124.0" width="178.2" height="16.3" fill="#000"/>
<rect x="2125.9" y="1035.0" width="216.4" height="118.4" fill="#fff"/>
<text x="2131.5" y="1103.0" font-family="'Liberation Serif','Times New Roman',serif" font-weight="bold" font-size="70">200μm</text>
<rect x="2144.8" y="1124.0" width="178.2" height="16.6" fill="#000"/>
<g stroke="#000" stroke-width="2.6" stroke-linecap="round"><line x1="204.6" y1="2105.5" x2="204.6" y2="2090.0"/><line x1="360.8" y1="2105.5" x2="360.8" y2="2090.0"/><line x1="517.0" y1="2105.5" x2="517.0" y2="2090.0"/><line x1="673.2" y1="2105.5" x2="673.2" y2="2090.0"/><line x1="829.5" y1="2105.5" x2="829.5" y2="2090.0"/><line x1="985.7" y1="2105.5" x2="985.7" y2="2090.0"/><line x1="1141.9" y1="2105.5" x2="1141.9" y2="2090.0"/><line x1="282.7" y1="2105.5" x2="282.7" y2="2097.0"/><line x1="438.9" y1="2105.5" x2="438.9" y2="2097.0"/><line x1="595.1" y1="2105.5" x2="595.1" y2="2097.0"/><line x1="751.4" y1="2105.5" x2="751.4" y2="2097.0"/><line x1="907.6" y1="2105.5" x2="907.6" y2="2097.0"/><line x1="1063.8" y1="2105.5" x2="1063.8" y2="2097.0"/><line x1="165.5" y1="2031.4" x2="174.0" y2="2031.4"/><line x1="165.5" y1="1957.3" x2="181.0" y2="1957.3"/><line x1="165.5" y1="1883.2" x2="174.0" y2="1883.2"/><line x1="165.5" y1="1809.1" x2="181.0" y2="1809.1"/><line x1="165.5" y1="1735.0" x2="174.0" y2="1735.0"/><line x1="165.5" y1="1660.9" x2="181.0" y2="1660.9"/><line x1="165.5" y1="1586.8" x2="174.0" y2="1586.8"/><line x1="165.5" y1="1512.7" x2="181.0" y2="1512.7"/><line x1="165.5" y1="1438.6" x2="174.0" y2="1438.6"/></g>
<g fill="#ff0000" stroke="#140000" stroke-width="2"><rect x="209.5" y="2046.9" width="29.2" height="58.6"/><rect x="248.5" y="1550.3" width="29.2" height="555.2"/><rect x="287.6" y="1629.7" width="29.2" height="475.8"/><rect x="326.6" y="1689.3" width="29.2" height="416.2"/><rect x="365.7" y="1590.0" width="29.2" height="515.5"/><rect x="404.8" y="1649.6" width="29.2" height="455.9"/><rect x="443.8" y="1629.7" width="29.2" height="475.8"/><rect x="482.9" y="1649.6" width="29.2" height="455.9"/><rect x="521.9" y="1748.9" width="29.2" height="356.6"/><rect x="561.0" y="1590.0" width="29.2" height="515.5"/><rect x="600.0" y="1788.6" width="29.2" height="316.9"/><rect x="639.1" y="1629.7" width="29.2" height="475.8"/><rect x="678.2" y="1709.2" width="29.2" height="396.3"/><rect x="717.2" y="1431.1" width="29.2" height="674.4"/><rect x="756.3" y="1748.9" width="29.2" height="356.6"/><rect x="795.3" y="1808.5" width="29.2" height="297.0"/><rect x="834.4" y="1967.4" width="29.2" height="138.1"/><rect x="873.4" y="1927.7" width="29.2" height="177.8"/><rect x="912.5" y="1947.6" width="29.2" height="157.9"/><rect x="951.6" y="2046.9" width="29.2" height="58.6"/><rect x="990.6" y="2086.6" width="29.2" height="18.9"/><rect x="1068.7" y="2086.6" width="29.2" height="18.9"/><rect x="1107.8" y="2086.6" width="29.2" height="18.9"/></g>
<line x1="573.3" y1="1365.0" x2="573.3" y2="2105.5" stroke="#000" stroke-width="4" stroke-dasharray="13 24" stroke-linecap="round"/>
<rect x="165.5" y="1364.5" width="1015.5" height="741.0" fill="none" stroke="#111" stroke-width="3"/>
<g font-family="'Liberation Sans',Arial,sans-serif" font-size="58" fill="#000"><text x="148.4" y="2122.5" text-anchor="end">0</text><text x="148.4" y="1974.3" text-anchor="end">2</text><text x="148.4" y="1826.1" text-anchor="end">4</text><text x="148.4" y="1677.9" text-anchor="end">6</text><text x="148.4" y="1529.7" text-anchor="end">8</text><text x="148.4" y="1381.5" text-anchor="end">10</text><text x="204.6" y="2167.5" text-anchor="middle">20</text><text x="360.8" y="2167.5" text-anchor="middle">40</text><text x="517.0" y="2167.5" text-anchor="middle">60</text><text x="673.2" y="2167.5" text-anchor="middle">80</text><text x="829.5" y="2167.5" text-anchor="middle">100</text><text x="985.7" y="2167.5" text-anchor="middle">120</text><text x="1141.9" y="2167.5" text-anchor="middle">140</text></g>
<text x="852.7" y="1432.2" font-family="'Liberation Serif','Times New Roman',serif" font-style="italic" font-size="58">d</text><text x="882.0" y="1451.8" font-family="'Liberation Serif','Times New Roman',serif" font-style="italic" font-size="35">m</text><text x="1160.7" y="1432.2" font-family="'Liberation Serif','Times New Roman',serif" font-size="58" text-anchor="end">= 67.2 μm</text>
<text transform="translate(86.5,1912.0) rotate(-90)" font-family="'Liberation Serif','Times New Roman',serif" font-size="58">Frequency (%)</text>
<text x="493.7" y="2227.3" font-family="'Liberation Serif','Times New Roman',serif" font-size="58.5">Grain size (μm)</text>
<text x="58.5" y="1299.2" font-family="'Liberation Serif','Times New Roman',serif" font-size="94">(c)</text>
<g stroke="#000" stroke-width="2.6" stroke-linecap="round"><line x1="1485.4" y1="2107.5" x2="1485.4" y2="2092.0"/><line x1="1698.0" y1="2107.5" x2="1698.0" y2="2092.0"/><line x1="1910.5" y1="2107.5" x2="1910.5" y2="2092.0"/><line x1="2123.1" y1="2107.5" x2="2123.1" y2="2092.0"/><line x1="2335.7" y1="2107.5" x2="2335.7" y2="2092.0"/><line x1="1379.1" y1="2107.5" x2="1379.1" y2="2099.0"/><line x1="1591.7" y1="2107.5" x2="1591.7" y2="2099.0"/><line x1="1804.3" y1="2107.5" x2="1804.3" y2="2099.0"/><line x1="2016.8" y1="2107.5" x2="2016.8" y2="2099.0"/><line x1="2229.4" y1="2107.5" x2="2229.4" y2="2099.0"/><line x1="1352.5" y1="2033.8" x2="1361.0" y2="2033.8"/><line x1="1352.5" y1="1960.1" x2="1368.0" y2="1960.1"/><line x1="1352.5" y1="1886.3" x2="1361.0" y2="1886.3"/><line x1="1352.5" y1="1812.6" x2="1368.0" y2="1812.6"/><line x1="1352.5" y1="1738.9" x2="1361.0" y2="1738.9"/><line x1="1352.5" y1="1665.2" x2="1368.0" y2="1665.2"/><line x1="1352.5" y1="1591.5" x2="1361.0" y2="1591.5"/><line x1="1352.5" y1="1517.7" x2="1368.0" y2="1517.7"/><line x1="1352.5" y1="1444.0" x2="1361.0" y2="1444.0"/></g>
<g fill="#ff0000" stroke="#140000" stroke-width="2"><rect x="1382.3" y="2074.8" width="20.1" height="32.7"/><rect x="1408.9" y="1468.9" width="20.1" height="638.6"/><rect x="1435.5" y="1771.9" width="20.1" height="335.6"/><rect x="1462.0" y="1704.6" width="20.1" height="402.9"/><rect x="1488.6" y="1906.5" width="20.1" height="201.0"/><rect x="1515.2" y="1906.5" width="20.1" height="201.0"/><rect x="1541.7" y="1771.9" width="20.1" height="335.6"/><rect x="1568.3" y="1771.9" width="20.1" height="335.6"/><rect x="1594.9" y="1637.2" width="20.1" height="470.3"/><rect x="1621.5" y="1805.5" width="20.1" height="302.0"/><rect x="1648.0" y="1940.2" width="20.1" height="167.3"/><rect x="1674.6" y="1704.6" width="20.1" height="402.9"/><rect x="1701.2" y="1502.6" width="20.1" height="604.9"/><rect x="1727.8" y="1771.9" width="20.1" height="335.6"/><rect x="1754.3" y="1805.5" width="20.1" height="302.0"/><rect x="1780.9" y="1906.5" width="20.1" height="201.0"/><rect x="1807.5" y="1872.9" width="20.1" height="234.6"/><rect x="1834.1" y="1839.2" width="20.1" height="268.3"/><rect x="1860.6" y="1906.5" width="20.1" height="201.0"/><rect x="1887.2" y="2007.5" width="20.1" height="100.0"/><rect x="1913.8" y="1940.2" width="20.1" height="167.3"/><rect x="1940.4" y="1805.5" width="20.1" height="302.0"/><rect x="1966.9" y="1906.5" width="20.1" height="201.0"/><rect x="1993.5" y="1940.2" width="20.1" height="167.3"/><rect x="2020.1" y="2074.8" width="20.1" height="32.7"/><rect x="2046.6" y="1973.9" width="20.1" height="133.6"/><rect x="2073.2" y="2007.5" width="20.1" height="100.0"/><rect x="2152.9" y="2074.8" width="20.1" height="32.7"/><rect x="2206.1" y="2041.2" width="20.1" height="66.3"/><rect x="2232.7" y="2074.8" width="20.1" height="32.7"/><rect x="2312.4" y="2074.8" width="20.1" height="32.7"/></g>
<line x1="1681.0" y1="1370.8" x2="1681.0" y2="2107.5" stroke="#000" stroke-width="4" stroke-dasharray="13 24" stroke-linecap="round"/>
<rect x="1352.5" y="1370.3" width="1009.8" height="737.2" fill="none" stroke="#111" stroke-width="3"/>
<g font-family="'Liberation Sans',Arial,sans-serif" font-size="58" fill="#000"><text x="1335.4" y="2124.5" text-anchor="end">0</text><text x="1335.4" y="1977.1" text-anchor="end">2</text><text x="1335.4" y="1829.6" text-anchor="end">4</text><text x="1335.4" y="1682.2" text-anchor="end">6</text><text x="1335.4" y="1534.7" text-anchor="end">8</text><text x="1335.4" y="1387.3" text-anchor="end">10</text><text x="1485.4" y="2168.6" text-anchor="middle">40</text><text x="1698.0" y="2168.6" text-anchor="middle">80</text><text x="1910.5" y="2168.6" text-anchor="middle">120</text><text x="2123.1" y="2168.6" text-anchor="middle">160</text><text x="2335.7" y="2168.6" text-anchor="middle">200</text></g>
<text x="2037.0" y="1435.6" font-family="'Liberation Serif','Times New Roman',serif" font-style="italic" font-size="58">d</text><text x="2065.4" y="1455.3" font-family="'Liberation Serif','Times New Roman',serif" font-style="italic" font-size="35">m</text><text x="2343.3" y="1435.6" font-family="'Liberation Serif','Times New Roman',serif" font-size="58" text-anchor="end">= 76.8 μm</text>
<text transform="translate(1272.2,1917.4) rotate(-90)" font-family="'Liberation Serif','Times New Roman',serif" font-size="58">Frequency (%)</text>
<text x="1670.7" y="2230.3" font-family="'Liberation Serif','Times New Roman',serif" font-size="58.5">Grain size (μm)</text>
<text x="1248.5" y="1309.3" font-family="'Liberation Serif','Times New Roman',serif" font-size="94">(d)</text>
</svg></body></html>
